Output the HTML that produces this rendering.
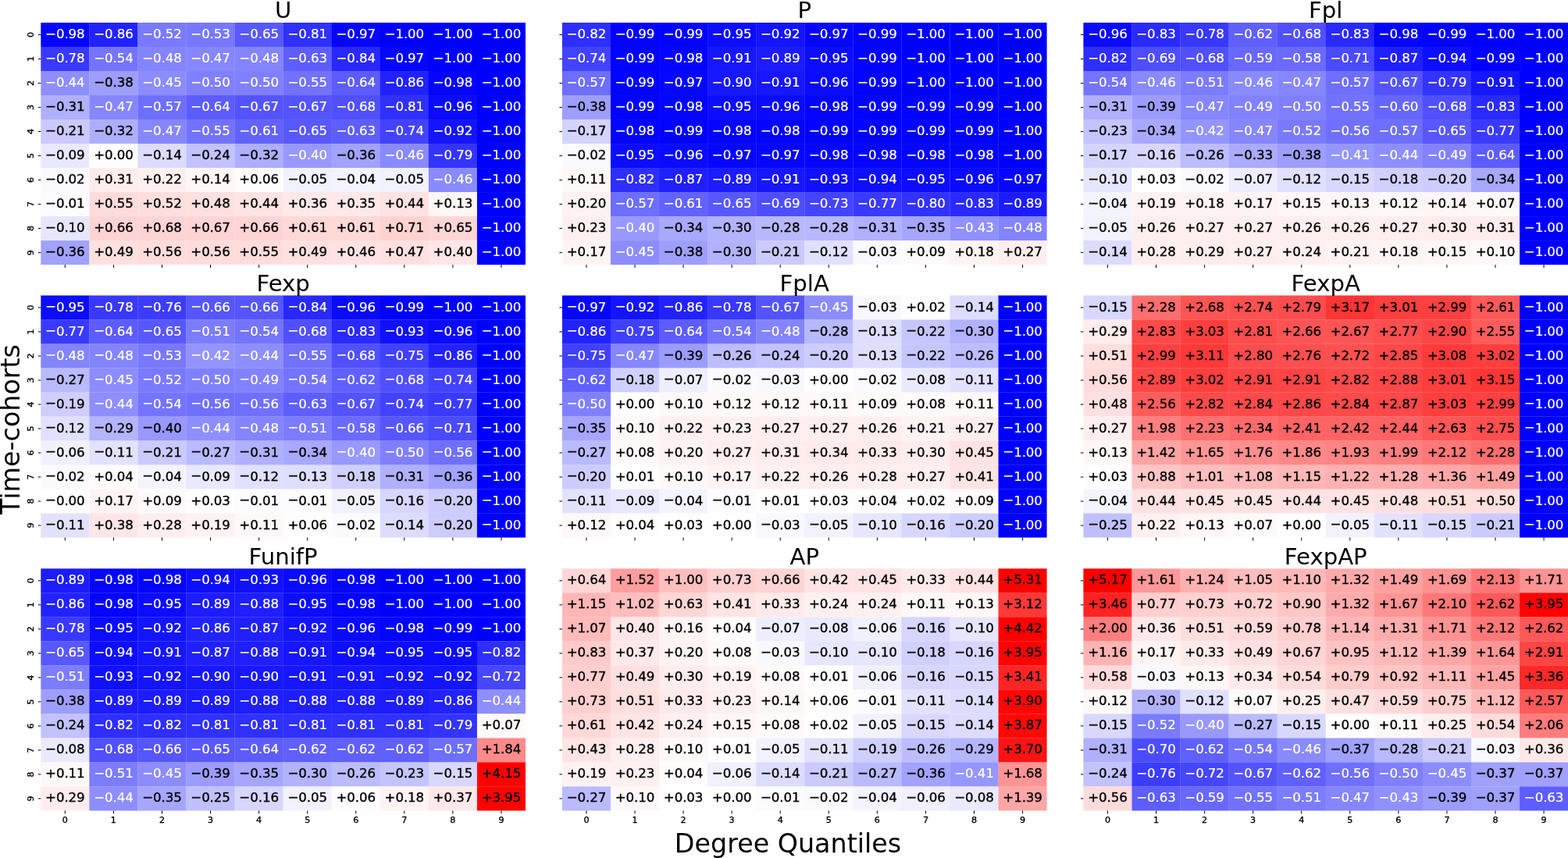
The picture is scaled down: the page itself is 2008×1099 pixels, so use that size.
<!DOCTYPE html><html><head><meta charset="utf-8"><style>html,body{margin:0;padding:0;background:#fff;width:2008px;height:1099px;overflow:hidden}svg{display:block}text{font-family:"DejaVu Sans","Liberation Sans",sans-serif}.a{font-size:16.67px;text-anchor:middle;stroke:#000;stroke-width:0.35px;letter-spacing:-0.1px}.w{fill:#fff;stroke:#fff;stroke-width:0.2px}.t{font-size:29.17px;text-anchor:middle}.k{font-size:11.11px;stroke:#000;stroke-width:0.35px}</style></head><body>
<svg width="2008" height="1099" viewBox="0 0 2008 1099">
<g shape-rendering="auto"><rect x="52.3" y="29" width="62.27" height="31.21" fill="#0404ff"/><rect x="114.37" y="29" width="62.27" height="31.21" fill="#2222ff"/><rect x="176.44" y="29" width="62.27" height="31.21" fill="#7a7aff"/><rect x="238.51" y="29" width="62.27" height="31.21" fill="#7878ff"/><rect x="300.58" y="29" width="62.27" height="31.21" fill="#5858ff"/><rect x="362.65" y="29" width="62.27" height="31.21" fill="#3030ff"/><rect x="424.72" y="29" width="62.27" height="31.21" fill="#0606ff"/><rect x="486.79" y="29" width="62.27" height="31.21" fill="#0000ff"/><rect x="548.86" y="29" width="62.27" height="31.21" fill="#0000ff"/><rect x="610.93" y="29" width="62.07" height="31.21" fill="#0000ff"/><rect x="52.3" y="60.01" width="62.27" height="31.21" fill="#3838ff"/><rect x="114.37" y="60.01" width="62.27" height="31.21" fill="#7474ff"/><rect x="176.44" y="60.01" width="62.27" height="31.21" fill="#8484ff"/><rect x="238.51" y="60.01" width="62.27" height="31.21" fill="#8686ff"/><rect x="300.58" y="60.01" width="62.27" height="31.21" fill="#8484ff"/><rect x="362.65" y="60.01" width="62.27" height="31.21" fill="#5e5eff"/><rect x="424.72" y="60.01" width="62.27" height="31.21" fill="#2828ff"/><rect x="486.79" y="60.01" width="62.27" height="31.21" fill="#0606ff"/><rect x="548.86" y="60.01" width="62.27" height="31.21" fill="#0000ff"/><rect x="610.93" y="60.01" width="62.07" height="31.21" fill="#0000ff"/><rect x="52.3" y="91.02" width="62.27" height="31.21" fill="#8e8eff"/><rect x="114.37" y="91.02" width="62.27" height="31.21" fill="#9e9eff"/><rect x="176.44" y="91.02" width="62.27" height="31.21" fill="#8c8cff"/><rect x="238.51" y="91.02" width="62.27" height="31.21" fill="#8080ff"/><rect x="300.58" y="91.02" width="62.27" height="31.21" fill="#8080ff"/><rect x="362.65" y="91.02" width="62.27" height="31.21" fill="#7272ff"/><rect x="424.72" y="91.02" width="62.27" height="31.21" fill="#5c5cff"/><rect x="486.79" y="91.02" width="62.27" height="31.21" fill="#2222ff"/><rect x="548.86" y="91.02" width="62.27" height="31.21" fill="#0404ff"/><rect x="610.93" y="91.02" width="62.07" height="31.21" fill="#0000ff"/><rect x="52.3" y="122.03" width="62.27" height="31.21" fill="#b0b0ff"/><rect x="114.37" y="122.03" width="62.27" height="31.21" fill="#8686ff"/><rect x="176.44" y="122.03" width="62.27" height="31.21" fill="#6e6eff"/><rect x="238.51" y="122.03" width="62.27" height="31.21" fill="#5c5cff"/><rect x="300.58" y="122.03" width="62.27" height="31.21" fill="#5454ff"/><rect x="362.65" y="122.03" width="62.27" height="31.21" fill="#5454ff"/><rect x="424.72" y="122.03" width="62.27" height="31.21" fill="#5050ff"/><rect x="486.79" y="122.03" width="62.27" height="31.21" fill="#3030ff"/><rect x="548.86" y="122.03" width="62.27" height="31.21" fill="#0a0aff"/><rect x="610.93" y="122.03" width="62.07" height="31.21" fill="#0000ff"/><rect x="52.3" y="153.04" width="62.27" height="31.21" fill="#cacaff"/><rect x="114.37" y="153.04" width="62.27" height="31.21" fill="#aeaeff"/><rect x="176.44" y="153.04" width="62.27" height="31.21" fill="#8686ff"/><rect x="238.51" y="153.04" width="62.27" height="31.21" fill="#7272ff"/><rect x="300.58" y="153.04" width="62.27" height="31.21" fill="#6262ff"/><rect x="362.65" y="153.04" width="62.27" height="31.21" fill="#5858ff"/><rect x="424.72" y="153.04" width="62.27" height="31.21" fill="#5e5eff"/><rect x="486.79" y="153.04" width="62.27" height="31.21" fill="#4242ff"/><rect x="548.86" y="153.04" width="62.27" height="31.21" fill="#1414ff"/><rect x="610.93" y="153.04" width="62.07" height="31.21" fill="#0000ff"/><rect x="52.3" y="184.05" width="62.27" height="31.21" fill="#e8e8ff"/><rect x="114.37" y="184.05" width="62.27" height="31.21" fill="#fffefe"/><rect x="176.44" y="184.05" width="62.27" height="31.21" fill="#dcdcff"/><rect x="238.51" y="184.05" width="62.27" height="31.21" fill="#c2c2ff"/><rect x="300.58" y="184.05" width="62.27" height="31.21" fill="#aeaeff"/><rect x="362.65" y="184.05" width="62.27" height="31.21" fill="#9898ff"/><rect x="424.72" y="184.05" width="62.27" height="31.21" fill="#a2a2ff"/><rect x="486.79" y="184.05" width="62.27" height="31.21" fill="#8a8aff"/><rect x="548.86" y="184.05" width="62.27" height="31.21" fill="#3434ff"/><rect x="610.93" y="184.05" width="62.07" height="31.21" fill="#0000ff"/><rect x="52.3" y="215.06" width="62.27" height="31.21" fill="#fafaff"/><rect x="114.37" y="215.06" width="62.27" height="31.21" fill="#ffecec"/><rect x="176.44" y="215.06" width="62.27" height="31.21" fill="#fff0f0"/><rect x="238.51" y="215.06" width="62.27" height="31.21" fill="#fff6f6"/><rect x="300.58" y="215.06" width="62.27" height="31.21" fill="#fffcfc"/><rect x="362.65" y="215.06" width="62.27" height="31.21" fill="#f2f2ff"/><rect x="424.72" y="215.06" width="62.27" height="31.21" fill="#f4f4ff"/><rect x="486.79" y="215.06" width="62.27" height="31.21" fill="#f2f2ff"/><rect x="548.86" y="215.06" width="62.27" height="31.21" fill="#8a8aff"/><rect x="610.93" y="215.06" width="62.07" height="31.21" fill="#0000ff"/><rect x="52.3" y="246.07" width="62.27" height="31.21" fill="#fcfcff"/><rect x="114.37" y="246.07" width="62.27" height="31.21" fill="#ffdcdc"/><rect x="176.44" y="246.07" width="62.27" height="31.21" fill="#ffdede"/><rect x="238.51" y="246.07" width="62.27" height="31.21" fill="#ffe0e0"/><rect x="300.58" y="246.07" width="62.27" height="31.21" fill="#ffe2e2"/><rect x="362.65" y="246.07" width="62.27" height="31.21" fill="#ffe8e8"/><rect x="424.72" y="246.07" width="62.27" height="31.21" fill="#ffe8e8"/><rect x="486.79" y="246.07" width="62.27" height="31.21" fill="#ffe2e2"/><rect x="548.86" y="246.07" width="62.27" height="31.21" fill="#fff6f6"/><rect x="610.93" y="246.07" width="62.07" height="31.21" fill="#0000ff"/><rect x="52.3" y="277.08" width="62.27" height="31.21" fill="#e6e6ff"/><rect x="114.37" y="277.08" width="62.27" height="31.21" fill="#ffd4d4"/><rect x="176.44" y="277.08" width="62.27" height="31.21" fill="#ffd4d4"/><rect x="238.51" y="277.08" width="62.27" height="31.21" fill="#ffd4d4"/><rect x="300.58" y="277.08" width="62.27" height="31.21" fill="#ffd4d4"/><rect x="362.65" y="277.08" width="62.27" height="31.21" fill="#ffd8d8"/><rect x="424.72" y="277.08" width="62.27" height="31.21" fill="#ffd8d8"/><rect x="486.79" y="277.08" width="62.27" height="31.21" fill="#ffd2d2"/><rect x="548.86" y="277.08" width="62.27" height="31.21" fill="#ffd6d6"/><rect x="610.93" y="277.08" width="62.07" height="31.21" fill="#0000ff"/><rect x="52.3" y="308.09" width="62.27" height="31.01" fill="#a2a2ff"/><rect x="114.37" y="308.09" width="62.27" height="31.01" fill="#ffe0e0"/><rect x="176.44" y="308.09" width="62.27" height="31.01" fill="#ffdcdc"/><rect x="238.51" y="308.09" width="62.27" height="31.01" fill="#ffdcdc"/><rect x="300.58" y="308.09" width="62.27" height="31.01" fill="#ffdcdc"/><rect x="362.65" y="308.09" width="62.27" height="31.01" fill="#ffe0e0"/><rect x="424.72" y="308.09" width="62.27" height="31.01" fill="#ffe2e2"/><rect x="486.79" y="308.09" width="62.27" height="31.01" fill="#ffe0e0"/><rect x="548.86" y="308.09" width="62.27" height="31.01" fill="#ffe6e6"/><rect x="610.93" y="308.09" width="62.07" height="31.01" fill="#0000ff"/></g>
<g class="a"><text x="83.33" y="49.11" class="w"><tspan dy="-0.5">−</tspan><tspan dy="0.5">0.98</tspan></text><text x="145.41" y="49.11" class="w"><tspan dy="-0.5">−</tspan><tspan dy="0.5">0.86</tspan></text><text x="207.48" y="49.11" class="w"><tspan dy="-0.5">−</tspan><tspan dy="0.5">0.52</tspan></text><text x="269.55" y="49.11" class="w"><tspan dy="-0.5">−</tspan><tspan dy="0.5">0.53</tspan></text><text x="331.62" y="49.11" class="w"><tspan dy="-0.5">−</tspan><tspan dy="0.5">0.65</tspan></text><text x="393.69" y="49.11" class="w"><tspan dy="-0.5">−</tspan><tspan dy="0.5">0.81</tspan></text><text x="455.75" y="49.11" class="w"><tspan dy="-0.5">−</tspan><tspan dy="0.5">0.97</tspan></text><text x="517.82" y="49.11" class="w"><tspan dy="-0.5">−</tspan><tspan dy="0.5">1.00</tspan></text><text x="579.89" y="49.11" class="w"><tspan dy="-0.5">−</tspan><tspan dy="0.5">1.00</tspan></text><text x="641.96" y="49.11" class="w"><tspan dy="-0.5">−</tspan><tspan dy="0.5">1.00</tspan></text><text x="83.33" y="80.11" class="w"><tspan dy="-0.5">−</tspan><tspan dy="0.5">0.78</tspan></text><text x="145.41" y="80.11" class="w"><tspan dy="-0.5">−</tspan><tspan dy="0.5">0.54</tspan></text><text x="207.48" y="80.11" class="w"><tspan dy="-0.5">−</tspan><tspan dy="0.5">0.48</tspan></text><text x="269.55" y="80.11" class="w"><tspan dy="-0.5">−</tspan><tspan dy="0.5">0.47</tspan></text><text x="331.62" y="80.11" class="w"><tspan dy="-0.5">−</tspan><tspan dy="0.5">0.48</tspan></text><text x="393.69" y="80.11" class="w"><tspan dy="-0.5">−</tspan><tspan dy="0.5">0.63</tspan></text><text x="455.75" y="80.11" class="w"><tspan dy="-0.5">−</tspan><tspan dy="0.5">0.84</tspan></text><text x="517.82" y="80.11" class="w"><tspan dy="-0.5">−</tspan><tspan dy="0.5">0.97</tspan></text><text x="579.89" y="80.11" class="w"><tspan dy="-0.5">−</tspan><tspan dy="0.5">1.00</tspan></text><text x="641.96" y="80.11" class="w"><tspan dy="-0.5">−</tspan><tspan dy="0.5">1.00</tspan></text><text x="83.33" y="111.12" class="w"><tspan dy="-0.5">−</tspan><tspan dy="0.5">0.44</tspan></text><text x="145.41" y="111.12"><tspan dy="-0.5">−</tspan><tspan dy="0.5">0.38</tspan></text><text x="207.48" y="111.12" class="w"><tspan dy="-0.5">−</tspan><tspan dy="0.5">0.45</tspan></text><text x="269.55" y="111.12" class="w"><tspan dy="-0.5">−</tspan><tspan dy="0.5">0.50</tspan></text><text x="331.62" y="111.12" class="w"><tspan dy="-0.5">−</tspan><tspan dy="0.5">0.50</tspan></text><text x="393.69" y="111.12" class="w"><tspan dy="-0.5">−</tspan><tspan dy="0.5">0.55</tspan></text><text x="455.75" y="111.12" class="w"><tspan dy="-0.5">−</tspan><tspan dy="0.5">0.64</tspan></text><text x="517.82" y="111.12" class="w"><tspan dy="-0.5">−</tspan><tspan dy="0.5">0.86</tspan></text><text x="579.89" y="111.12" class="w"><tspan dy="-0.5">−</tspan><tspan dy="0.5">0.98</tspan></text><text x="641.96" y="111.12" class="w"><tspan dy="-0.5">−</tspan><tspan dy="0.5">1.00</tspan></text><text x="83.33" y="142.14"><tspan dy="-0.5">−</tspan><tspan dy="0.5">0.31</tspan></text><text x="145.41" y="142.14" class="w"><tspan dy="-0.5">−</tspan><tspan dy="0.5">0.47</tspan></text><text x="207.48" y="142.14" class="w"><tspan dy="-0.5">−</tspan><tspan dy="0.5">0.57</tspan></text><text x="269.55" y="142.14" class="w"><tspan dy="-0.5">−</tspan><tspan dy="0.5">0.64</tspan></text><text x="331.62" y="142.14" class="w"><tspan dy="-0.5">−</tspan><tspan dy="0.5">0.67</tspan></text><text x="393.69" y="142.14" class="w"><tspan dy="-0.5">−</tspan><tspan dy="0.5">0.67</tspan></text><text x="455.75" y="142.14" class="w"><tspan dy="-0.5">−</tspan><tspan dy="0.5">0.68</tspan></text><text x="517.82" y="142.14" class="w"><tspan dy="-0.5">−</tspan><tspan dy="0.5">0.81</tspan></text><text x="579.89" y="142.14" class="w"><tspan dy="-0.5">−</tspan><tspan dy="0.5">0.96</tspan></text><text x="641.96" y="142.14" class="w"><tspan dy="-0.5">−</tspan><tspan dy="0.5">1.00</tspan></text><text x="83.33" y="173.15"><tspan dy="-0.5">−</tspan><tspan dy="0.5">0.21</tspan></text><text x="145.41" y="173.15"><tspan dy="-0.5">−</tspan><tspan dy="0.5">0.32</tspan></text><text x="207.48" y="173.15" class="w"><tspan dy="-0.5">−</tspan><tspan dy="0.5">0.47</tspan></text><text x="269.55" y="173.15" class="w"><tspan dy="-0.5">−</tspan><tspan dy="0.5">0.55</tspan></text><text x="331.62" y="173.15" class="w"><tspan dy="-0.5">−</tspan><tspan dy="0.5">0.61</tspan></text><text x="393.69" y="173.15" class="w"><tspan dy="-0.5">−</tspan><tspan dy="0.5">0.65</tspan></text><text x="455.75" y="173.15" class="w"><tspan dy="-0.5">−</tspan><tspan dy="0.5">0.63</tspan></text><text x="517.82" y="173.15" class="w"><tspan dy="-0.5">−</tspan><tspan dy="0.5">0.74</tspan></text><text x="579.89" y="173.15" class="w"><tspan dy="-0.5">−</tspan><tspan dy="0.5">0.92</tspan></text><text x="641.96" y="173.15" class="w"><tspan dy="-0.5">−</tspan><tspan dy="0.5">1.00</tspan></text><text x="83.33" y="204.16"><tspan dy="-0.5">−</tspan><tspan dy="0.5">0.09</tspan></text><text x="145.41" y="204.16"><tspan dy="0">+</tspan><tspan dy="0">0.00</tspan></text><text x="207.48" y="204.16"><tspan dy="-0.5">−</tspan><tspan dy="0.5">0.14</tspan></text><text x="269.55" y="204.16"><tspan dy="-0.5">−</tspan><tspan dy="0.5">0.24</tspan></text><text x="331.62" y="204.16"><tspan dy="-0.5">−</tspan><tspan dy="0.5">0.32</tspan></text><text x="393.69" y="204.16" class="w"><tspan dy="-0.5">−</tspan><tspan dy="0.5">0.40</tspan></text><text x="455.75" y="204.16"><tspan dy="-0.5">−</tspan><tspan dy="0.5">0.36</tspan></text><text x="517.82" y="204.16" class="w"><tspan dy="-0.5">−</tspan><tspan dy="0.5">0.46</tspan></text><text x="579.89" y="204.16" class="w"><tspan dy="-0.5">−</tspan><tspan dy="0.5">0.79</tspan></text><text x="641.96" y="204.16" class="w"><tspan dy="-0.5">−</tspan><tspan dy="0.5">1.00</tspan></text><text x="83.33" y="235.16"><tspan dy="-0.5">−</tspan><tspan dy="0.5">0.02</tspan></text><text x="145.41" y="235.16"><tspan dy="0">+</tspan><tspan dy="0">0.31</tspan></text><text x="207.48" y="235.16"><tspan dy="0">+</tspan><tspan dy="0">0.22</tspan></text><text x="269.55" y="235.16"><tspan dy="0">+</tspan><tspan dy="0">0.14</tspan></text><text x="331.62" y="235.16"><tspan dy="0">+</tspan><tspan dy="0">0.06</tspan></text><text x="393.69" y="235.16"><tspan dy="-0.5">−</tspan><tspan dy="0.5">0.05</tspan></text><text x="455.75" y="235.16"><tspan dy="-0.5">−</tspan><tspan dy="0.5">0.04</tspan></text><text x="517.82" y="235.16"><tspan dy="-0.5">−</tspan><tspan dy="0.5">0.05</tspan></text><text x="579.89" y="235.16" class="w"><tspan dy="-0.5">−</tspan><tspan dy="0.5">0.46</tspan></text><text x="641.96" y="235.16" class="w"><tspan dy="-0.5">−</tspan><tspan dy="0.5">1.00</tspan></text><text x="83.33" y="266.18"><tspan dy="-0.5">−</tspan><tspan dy="0.5">0.01</tspan></text><text x="145.41" y="266.18"><tspan dy="0">+</tspan><tspan dy="0">0.55</tspan></text><text x="207.48" y="266.18"><tspan dy="0">+</tspan><tspan dy="0">0.52</tspan></text><text x="269.55" y="266.18"><tspan dy="0">+</tspan><tspan dy="0">0.48</tspan></text><text x="331.62" y="266.18"><tspan dy="0">+</tspan><tspan dy="0">0.44</tspan></text><text x="393.69" y="266.18"><tspan dy="0">+</tspan><tspan dy="0">0.36</tspan></text><text x="455.75" y="266.18"><tspan dy="0">+</tspan><tspan dy="0">0.35</tspan></text><text x="517.82" y="266.18"><tspan dy="0">+</tspan><tspan dy="0">0.44</tspan></text><text x="579.89" y="266.18"><tspan dy="0">+</tspan><tspan dy="0">0.13</tspan></text><text x="641.96" y="266.18" class="w"><tspan dy="-0.5">−</tspan><tspan dy="0.5">1.00</tspan></text><text x="83.33" y="297.19"><tspan dy="-0.5">−</tspan><tspan dy="0.5">0.10</tspan></text><text x="145.41" y="297.19"><tspan dy="0">+</tspan><tspan dy="0">0.66</tspan></text><text x="207.48" y="297.19"><tspan dy="0">+</tspan><tspan dy="0">0.68</tspan></text><text x="269.55" y="297.19"><tspan dy="0">+</tspan><tspan dy="0">0.67</tspan></text><text x="331.62" y="297.19"><tspan dy="0">+</tspan><tspan dy="0">0.66</tspan></text><text x="393.69" y="297.19"><tspan dy="0">+</tspan><tspan dy="0">0.61</tspan></text><text x="455.75" y="297.19"><tspan dy="0">+</tspan><tspan dy="0">0.61</tspan></text><text x="517.82" y="297.19"><tspan dy="0">+</tspan><tspan dy="0">0.71</tspan></text><text x="579.89" y="297.19"><tspan dy="0">+</tspan><tspan dy="0">0.65</tspan></text><text x="641.96" y="297.19" class="w"><tspan dy="-0.5">−</tspan><tspan dy="0.5">1.00</tspan></text><text x="83.33" y="328.2"><tspan dy="-0.5">−</tspan><tspan dy="0.5">0.36</tspan></text><text x="145.41" y="328.2"><tspan dy="0">+</tspan><tspan dy="0">0.49</tspan></text><text x="207.48" y="328.2"><tspan dy="0">+</tspan><tspan dy="0">0.56</tspan></text><text x="269.55" y="328.2"><tspan dy="0">+</tspan><tspan dy="0">0.56</tspan></text><text x="331.62" y="328.2"><tspan dy="0">+</tspan><tspan dy="0">0.55</tspan></text><text x="393.69" y="328.2"><tspan dy="0">+</tspan><tspan dy="0">0.49</tspan></text><text x="455.75" y="328.2"><tspan dy="0">+</tspan><tspan dy="0">0.46</tspan></text><text x="517.82" y="328.2"><tspan dy="0">+</tspan><tspan dy="0">0.47</tspan></text><text x="579.89" y="328.2"><tspan dy="0">+</tspan><tspan dy="0">0.40</tspan></text><text x="641.96" y="328.2" class="w"><tspan dy="-0.5">−</tspan><tspan dy="0.5">1.00</tspan></text></g>
<text class="t" x="362.65" y="23.2">U</text>
<path d="M48.8 44.51h3.5M48.8 75.52h3.5M48.8 106.53h3.5M48.8 137.54h3.5M48.8 168.55h3.5M48.8 199.56h3.5M48.8 230.56h3.5M48.8 261.58h3.5M48.8 292.59h3.5M48.8 323.6h3.5M83.33 339.1v4M145.41 339.1v4M207.48 339.1v4M269.55 339.1v4M331.62 339.1v4M393.69 339.1v4M455.75 339.1v4M517.82 339.1v4M579.89 339.1v4M641.96 339.1v4" stroke="#000" stroke-width="1" fill="none"/>
<text class="k" text-anchor="middle" transform="translate(43.3 44.51) rotate(-90)">0</text>
<text class="k" text-anchor="middle" transform="translate(43.3 75.52) rotate(-90)">1</text>
<text class="k" text-anchor="middle" transform="translate(43.3 106.53) rotate(-90)">2</text>
<text class="k" text-anchor="middle" transform="translate(43.3 137.54) rotate(-90)">3</text>
<text class="k" text-anchor="middle" transform="translate(43.3 168.55) rotate(-90)">4</text>
<text class="k" text-anchor="middle" transform="translate(43.3 199.56) rotate(-90)">5</text>
<text class="k" text-anchor="middle" transform="translate(43.3 230.56) rotate(-90)">6</text>
<text class="k" text-anchor="middle" transform="translate(43.3 261.58) rotate(-90)">7</text>
<text class="k" text-anchor="middle" transform="translate(43.3 292.59) rotate(-90)">8</text>
<text class="k" text-anchor="middle" transform="translate(43.3 323.6) rotate(-90)">9</text>
<g shape-rendering="auto"><rect x="719.9" y="29" width="62.27" height="31.21" fill="#2e2eff"/><rect x="781.97" y="29" width="62.27" height="31.21" fill="#0202ff"/><rect x="844.04" y="29" width="62.27" height="31.21" fill="#0202ff"/><rect x="906.11" y="29" width="62.27" height="31.21" fill="#0c0cff"/><rect x="968.18" y="29" width="62.27" height="31.21" fill="#1414ff"/><rect x="1030.25" y="29" width="62.27" height="31.21" fill="#0606ff"/><rect x="1092.32" y="29" width="62.27" height="31.21" fill="#0202ff"/><rect x="1154.39" y="29" width="62.27" height="31.21" fill="#0000ff"/><rect x="1216.46" y="29" width="62.27" height="31.21" fill="#0000ff"/><rect x="1278.53" y="29" width="62.07" height="31.21" fill="#0000ff"/><rect x="719.9" y="60.01" width="62.27" height="31.21" fill="#4242ff"/><rect x="781.97" y="60.01" width="62.27" height="31.21" fill="#0202ff"/><rect x="844.04" y="60.01" width="62.27" height="31.21" fill="#0404ff"/><rect x="906.11" y="60.01" width="62.27" height="31.21" fill="#1616ff"/><rect x="968.18" y="60.01" width="62.27" height="31.21" fill="#1c1cff"/><rect x="1030.25" y="60.01" width="62.27" height="31.21" fill="#0c0cff"/><rect x="1092.32" y="60.01" width="62.27" height="31.21" fill="#0202ff"/><rect x="1154.39" y="60.01" width="62.27" height="31.21" fill="#0000ff"/><rect x="1216.46" y="60.01" width="62.27" height="31.21" fill="#0000ff"/><rect x="1278.53" y="60.01" width="62.07" height="31.21" fill="#0000ff"/><rect x="719.9" y="91.02" width="62.27" height="31.21" fill="#6e6eff"/><rect x="781.97" y="91.02" width="62.27" height="31.21" fill="#0202ff"/><rect x="844.04" y="91.02" width="62.27" height="31.21" fill="#0606ff"/><rect x="906.11" y="91.02" width="62.27" height="31.21" fill="#1818ff"/><rect x="968.18" y="91.02" width="62.27" height="31.21" fill="#1616ff"/><rect x="1030.25" y="91.02" width="62.27" height="31.21" fill="#0a0aff"/><rect x="1092.32" y="91.02" width="62.27" height="31.21" fill="#0202ff"/><rect x="1154.39" y="91.02" width="62.27" height="31.21" fill="#0000ff"/><rect x="1216.46" y="91.02" width="62.27" height="31.21" fill="#0000ff"/><rect x="1278.53" y="91.02" width="62.07" height="31.21" fill="#0000ff"/><rect x="719.9" y="122.03" width="62.27" height="31.21" fill="#9e9eff"/><rect x="781.97" y="122.03" width="62.27" height="31.21" fill="#0202ff"/><rect x="844.04" y="122.03" width="62.27" height="31.21" fill="#0404ff"/><rect x="906.11" y="122.03" width="62.27" height="31.21" fill="#0c0cff"/><rect x="968.18" y="122.03" width="62.27" height="31.21" fill="#0a0aff"/><rect x="1030.25" y="122.03" width="62.27" height="31.21" fill="#0404ff"/><rect x="1092.32" y="122.03" width="62.27" height="31.21" fill="#0202ff"/><rect x="1154.39" y="122.03" width="62.27" height="31.21" fill="#0202ff"/><rect x="1216.46" y="122.03" width="62.27" height="31.21" fill="#0202ff"/><rect x="1278.53" y="122.03" width="62.07" height="31.21" fill="#0000ff"/><rect x="719.9" y="153.04" width="62.27" height="31.21" fill="#d4d4ff"/><rect x="781.97" y="153.04" width="62.27" height="31.21" fill="#0404ff"/><rect x="844.04" y="153.04" width="62.27" height="31.21" fill="#0202ff"/><rect x="906.11" y="153.04" width="62.27" height="31.21" fill="#0404ff"/><rect x="968.18" y="153.04" width="62.27" height="31.21" fill="#0404ff"/><rect x="1030.25" y="153.04" width="62.27" height="31.21" fill="#0202ff"/><rect x="1092.32" y="153.04" width="62.27" height="31.21" fill="#0202ff"/><rect x="1154.39" y="153.04" width="62.27" height="31.21" fill="#0202ff"/><rect x="1216.46" y="153.04" width="62.27" height="31.21" fill="#0202ff"/><rect x="1278.53" y="153.04" width="62.07" height="31.21" fill="#0000ff"/><rect x="719.9" y="184.05" width="62.27" height="31.21" fill="#fafaff"/><rect x="781.97" y="184.05" width="62.27" height="31.21" fill="#0c0cff"/><rect x="844.04" y="184.05" width="62.27" height="31.21" fill="#0a0aff"/><rect x="906.11" y="184.05" width="62.27" height="31.21" fill="#0606ff"/><rect x="968.18" y="184.05" width="62.27" height="31.21" fill="#0606ff"/><rect x="1030.25" y="184.05" width="62.27" height="31.21" fill="#0404ff"/><rect x="1092.32" y="184.05" width="62.27" height="31.21" fill="#0404ff"/><rect x="1154.39" y="184.05" width="62.27" height="31.21" fill="#0404ff"/><rect x="1216.46" y="184.05" width="62.27" height="31.21" fill="#0404ff"/><rect x="1278.53" y="184.05" width="62.07" height="31.21" fill="#0000ff"/><rect x="719.9" y="215.06" width="62.27" height="31.21" fill="#fff8f8"/><rect x="781.97" y="215.06" width="62.27" height="31.21" fill="#2e2eff"/><rect x="844.04" y="215.06" width="62.27" height="31.21" fill="#2020ff"/><rect x="906.11" y="215.06" width="62.27" height="31.21" fill="#1c1cff"/><rect x="968.18" y="215.06" width="62.27" height="31.21" fill="#1616ff"/><rect x="1030.25" y="215.06" width="62.27" height="31.21" fill="#1010ff"/><rect x="1092.32" y="215.06" width="62.27" height="31.21" fill="#0e0eff"/><rect x="1154.39" y="215.06" width="62.27" height="31.21" fill="#0c0cff"/><rect x="1216.46" y="215.06" width="62.27" height="31.21" fill="#0a0aff"/><rect x="1278.53" y="215.06" width="62.07" height="31.21" fill="#0606ff"/><rect x="719.9" y="246.07" width="62.27" height="31.21" fill="#fff2f2"/><rect x="781.97" y="246.07" width="62.27" height="31.21" fill="#6e6eff"/><rect x="844.04" y="246.07" width="62.27" height="31.21" fill="#6262ff"/><rect x="906.11" y="246.07" width="62.27" height="31.21" fill="#5858ff"/><rect x="968.18" y="246.07" width="62.27" height="31.21" fill="#4e4eff"/><rect x="1030.25" y="246.07" width="62.27" height="31.21" fill="#4444ff"/><rect x="1092.32" y="246.07" width="62.27" height="31.21" fill="#3a3aff"/><rect x="1154.39" y="246.07" width="62.27" height="31.21" fill="#3232ff"/><rect x="1216.46" y="246.07" width="62.27" height="31.21" fill="#2a2aff"/><rect x="1278.53" y="246.07" width="62.07" height="31.21" fill="#1c1cff"/><rect x="719.9" y="277.08" width="62.27" height="31.21" fill="#fff0f0"/><rect x="781.97" y="277.08" width="62.27" height="31.21" fill="#9898ff"/><rect x="844.04" y="277.08" width="62.27" height="31.21" fill="#a8a8ff"/><rect x="906.11" y="277.08" width="62.27" height="31.21" fill="#b2b2ff"/><rect x="968.18" y="277.08" width="62.27" height="31.21" fill="#b8b8ff"/><rect x="1030.25" y="277.08" width="62.27" height="31.21" fill="#b8b8ff"/><rect x="1092.32" y="277.08" width="62.27" height="31.21" fill="#b0b0ff"/><rect x="1154.39" y="277.08" width="62.27" height="31.21" fill="#a6a6ff"/><rect x="1216.46" y="277.08" width="62.27" height="31.21" fill="#9090ff"/><rect x="1278.53" y="277.08" width="62.07" height="31.21" fill="#8484ff"/><rect x="719.9" y="308.09" width="62.27" height="31.01" fill="#fff4f4"/><rect x="781.97" y="308.09" width="62.27" height="31.01" fill="#8c8cff"/><rect x="844.04" y="308.09" width="62.27" height="31.01" fill="#9e9eff"/><rect x="906.11" y="308.09" width="62.27" height="31.01" fill="#b2b2ff"/><rect x="968.18" y="308.09" width="62.27" height="31.01" fill="#cacaff"/><rect x="1030.25" y="308.09" width="62.27" height="31.01" fill="#e0e0ff"/><rect x="1092.32" y="308.09" width="62.27" height="31.01" fill="#f8f8ff"/><rect x="1154.39" y="308.09" width="62.27" height="31.01" fill="#fffafa"/><rect x="1216.46" y="308.09" width="62.27" height="31.01" fill="#fff4f4"/><rect x="1278.53" y="308.09" width="62.07" height="31.01" fill="#ffeeee"/></g>
<g class="a"><text x="750.93" y="49.11" class="w"><tspan dy="-0.5">−</tspan><tspan dy="0.5">0.82</tspan></text><text x="813" y="49.11" class="w"><tspan dy="-0.5">−</tspan><tspan dy="0.5">0.99</tspan></text><text x="875.08" y="49.11" class="w"><tspan dy="-0.5">−</tspan><tspan dy="0.5">0.99</tspan></text><text x="937.14" y="49.11" class="w"><tspan dy="-0.5">−</tspan><tspan dy="0.5">0.95</tspan></text><text x="999.21" y="49.11" class="w"><tspan dy="-0.5">−</tspan><tspan dy="0.5">0.92</tspan></text><text x="1061.28" y="49.11" class="w"><tspan dy="-0.5">−</tspan><tspan dy="0.5">0.97</tspan></text><text x="1123.36" y="49.11" class="w"><tspan dy="-0.5">−</tspan><tspan dy="0.5">0.99</tspan></text><text x="1185.42" y="49.11" class="w"><tspan dy="-0.5">−</tspan><tspan dy="0.5">1.00</tspan></text><text x="1247.49" y="49.11" class="w"><tspan dy="-0.5">−</tspan><tspan dy="0.5">1.00</tspan></text><text x="1309.57" y="49.11" class="w"><tspan dy="-0.5">−</tspan><tspan dy="0.5">1.00</tspan></text><text x="750.93" y="80.11" class="w"><tspan dy="-0.5">−</tspan><tspan dy="0.5">0.74</tspan></text><text x="813" y="80.11" class="w"><tspan dy="-0.5">−</tspan><tspan dy="0.5">0.99</tspan></text><text x="875.08" y="80.11" class="w"><tspan dy="-0.5">−</tspan><tspan dy="0.5">0.98</tspan></text><text x="937.14" y="80.11" class="w"><tspan dy="-0.5">−</tspan><tspan dy="0.5">0.91</tspan></text><text x="999.21" y="80.11" class="w"><tspan dy="-0.5">−</tspan><tspan dy="0.5">0.89</tspan></text><text x="1061.28" y="80.11" class="w"><tspan dy="-0.5">−</tspan><tspan dy="0.5">0.95</tspan></text><text x="1123.36" y="80.11" class="w"><tspan dy="-0.5">−</tspan><tspan dy="0.5">0.99</tspan></text><text x="1185.42" y="80.11" class="w"><tspan dy="-0.5">−</tspan><tspan dy="0.5">1.00</tspan></text><text x="1247.49" y="80.11" class="w"><tspan dy="-0.5">−</tspan><tspan dy="0.5">1.00</tspan></text><text x="1309.57" y="80.11" class="w"><tspan dy="-0.5">−</tspan><tspan dy="0.5">1.00</tspan></text><text x="750.93" y="111.12" class="w"><tspan dy="-0.5">−</tspan><tspan dy="0.5">0.57</tspan></text><text x="813" y="111.12" class="w"><tspan dy="-0.5">−</tspan><tspan dy="0.5">0.99</tspan></text><text x="875.08" y="111.12" class="w"><tspan dy="-0.5">−</tspan><tspan dy="0.5">0.97</tspan></text><text x="937.14" y="111.12" class="w"><tspan dy="-0.5">−</tspan><tspan dy="0.5">0.90</tspan></text><text x="999.21" y="111.12" class="w"><tspan dy="-0.5">−</tspan><tspan dy="0.5">0.91</tspan></text><text x="1061.28" y="111.12" class="w"><tspan dy="-0.5">−</tspan><tspan dy="0.5">0.96</tspan></text><text x="1123.36" y="111.12" class="w"><tspan dy="-0.5">−</tspan><tspan dy="0.5">0.99</tspan></text><text x="1185.42" y="111.12" class="w"><tspan dy="-0.5">−</tspan><tspan dy="0.5">1.00</tspan></text><text x="1247.49" y="111.12" class="w"><tspan dy="-0.5">−</tspan><tspan dy="0.5">1.00</tspan></text><text x="1309.57" y="111.12" class="w"><tspan dy="-0.5">−</tspan><tspan dy="0.5">1.00</tspan></text><text x="750.93" y="142.14"><tspan dy="-0.5">−</tspan><tspan dy="0.5">0.38</tspan></text><text x="813" y="142.14" class="w"><tspan dy="-0.5">−</tspan><tspan dy="0.5">0.99</tspan></text><text x="875.08" y="142.14" class="w"><tspan dy="-0.5">−</tspan><tspan dy="0.5">0.98</tspan></text><text x="937.14" y="142.14" class="w"><tspan dy="-0.5">−</tspan><tspan dy="0.5">0.95</tspan></text><text x="999.21" y="142.14" class="w"><tspan dy="-0.5">−</tspan><tspan dy="0.5">0.96</tspan></text><text x="1061.28" y="142.14" class="w"><tspan dy="-0.5">−</tspan><tspan dy="0.5">0.98</tspan></text><text x="1123.36" y="142.14" class="w"><tspan dy="-0.5">−</tspan><tspan dy="0.5">0.99</tspan></text><text x="1185.42" y="142.14" class="w"><tspan dy="-0.5">−</tspan><tspan dy="0.5">0.99</tspan></text><text x="1247.49" y="142.14" class="w"><tspan dy="-0.5">−</tspan><tspan dy="0.5">0.99</tspan></text><text x="1309.57" y="142.14" class="w"><tspan dy="-0.5">−</tspan><tspan dy="0.5">1.00</tspan></text><text x="750.93" y="173.15"><tspan dy="-0.5">−</tspan><tspan dy="0.5">0.17</tspan></text><text x="813" y="173.15" class="w"><tspan dy="-0.5">−</tspan><tspan dy="0.5">0.98</tspan></text><text x="875.08" y="173.15" class="w"><tspan dy="-0.5">−</tspan><tspan dy="0.5">0.99</tspan></text><text x="937.14" y="173.15" class="w"><tspan dy="-0.5">−</tspan><tspan dy="0.5">0.98</tspan></text><text x="999.21" y="173.15" class="w"><tspan dy="-0.5">−</tspan><tspan dy="0.5">0.98</tspan></text><text x="1061.28" y="173.15" class="w"><tspan dy="-0.5">−</tspan><tspan dy="0.5">0.99</tspan></text><text x="1123.36" y="173.15" class="w"><tspan dy="-0.5">−</tspan><tspan dy="0.5">0.99</tspan></text><text x="1185.42" y="173.15" class="w"><tspan dy="-0.5">−</tspan><tspan dy="0.5">0.99</tspan></text><text x="1247.49" y="173.15" class="w"><tspan dy="-0.5">−</tspan><tspan dy="0.5">0.99</tspan></text><text x="1309.57" y="173.15" class="w"><tspan dy="-0.5">−</tspan><tspan dy="0.5">1.00</tspan></text><text x="750.93" y="204.16"><tspan dy="-0.5">−</tspan><tspan dy="0.5">0.02</tspan></text><text x="813" y="204.16" class="w"><tspan dy="-0.5">−</tspan><tspan dy="0.5">0.95</tspan></text><text x="875.08" y="204.16" class="w"><tspan dy="-0.5">−</tspan><tspan dy="0.5">0.96</tspan></text><text x="937.14" y="204.16" class="w"><tspan dy="-0.5">−</tspan><tspan dy="0.5">0.97</tspan></text><text x="999.21" y="204.16" class="w"><tspan dy="-0.5">−</tspan><tspan dy="0.5">0.97</tspan></text><text x="1061.28" y="204.16" class="w"><tspan dy="-0.5">−</tspan><tspan dy="0.5">0.98</tspan></text><text x="1123.36" y="204.16" class="w"><tspan dy="-0.5">−</tspan><tspan dy="0.5">0.98</tspan></text><text x="1185.42" y="204.16" class="w"><tspan dy="-0.5">−</tspan><tspan dy="0.5">0.98</tspan></text><text x="1247.49" y="204.16" class="w"><tspan dy="-0.5">−</tspan><tspan dy="0.5">0.98</tspan></text><text x="1309.57" y="204.16" class="w"><tspan dy="-0.5">−</tspan><tspan dy="0.5">1.00</tspan></text><text x="750.93" y="235.16"><tspan dy="0">+</tspan><tspan dy="0">0.11</tspan></text><text x="813" y="235.16" class="w"><tspan dy="-0.5">−</tspan><tspan dy="0.5">0.82</tspan></text><text x="875.08" y="235.16" class="w"><tspan dy="-0.5">−</tspan><tspan dy="0.5">0.87</tspan></text><text x="937.14" y="235.16" class="w"><tspan dy="-0.5">−</tspan><tspan dy="0.5">0.89</tspan></text><text x="999.21" y="235.16" class="w"><tspan dy="-0.5">−</tspan><tspan dy="0.5">0.91</tspan></text><text x="1061.28" y="235.16" class="w"><tspan dy="-0.5">−</tspan><tspan dy="0.5">0.93</tspan></text><text x="1123.36" y="235.16" class="w"><tspan dy="-0.5">−</tspan><tspan dy="0.5">0.94</tspan></text><text x="1185.42" y="235.16" class="w"><tspan dy="-0.5">−</tspan><tspan dy="0.5">0.95</tspan></text><text x="1247.49" y="235.16" class="w"><tspan dy="-0.5">−</tspan><tspan dy="0.5">0.96</tspan></text><text x="1309.57" y="235.16" class="w"><tspan dy="-0.5">−</tspan><tspan dy="0.5">0.97</tspan></text><text x="750.93" y="266.18"><tspan dy="0">+</tspan><tspan dy="0">0.20</tspan></text><text x="813" y="266.18" class="w"><tspan dy="-0.5">−</tspan><tspan dy="0.5">0.57</tspan></text><text x="875.08" y="266.18" class="w"><tspan dy="-0.5">−</tspan><tspan dy="0.5">0.61</tspan></text><text x="937.14" y="266.18" class="w"><tspan dy="-0.5">−</tspan><tspan dy="0.5">0.65</tspan></text><text x="999.21" y="266.18" class="w"><tspan dy="-0.5">−</tspan><tspan dy="0.5">0.69</tspan></text><text x="1061.28" y="266.18" class="w"><tspan dy="-0.5">−</tspan><tspan dy="0.5">0.73</tspan></text><text x="1123.36" y="266.18" class="w"><tspan dy="-0.5">−</tspan><tspan dy="0.5">0.77</tspan></text><text x="1185.42" y="266.18" class="w"><tspan dy="-0.5">−</tspan><tspan dy="0.5">0.80</tspan></text><text x="1247.49" y="266.18" class="w"><tspan dy="-0.5">−</tspan><tspan dy="0.5">0.83</tspan></text><text x="1309.57" y="266.18" class="w"><tspan dy="-0.5">−</tspan><tspan dy="0.5">0.89</tspan></text><text x="750.93" y="297.19"><tspan dy="0">+</tspan><tspan dy="0">0.23</tspan></text><text x="813" y="297.19" class="w"><tspan dy="-0.5">−</tspan><tspan dy="0.5">0.40</tspan></text><text x="875.08" y="297.19"><tspan dy="-0.5">−</tspan><tspan dy="0.5">0.34</tspan></text><text x="937.14" y="297.19"><tspan dy="-0.5">−</tspan><tspan dy="0.5">0.30</tspan></text><text x="999.21" y="297.19"><tspan dy="-0.5">−</tspan><tspan dy="0.5">0.28</tspan></text><text x="1061.28" y="297.19"><tspan dy="-0.5">−</tspan><tspan dy="0.5">0.28</tspan></text><text x="1123.36" y="297.19"><tspan dy="-0.5">−</tspan><tspan dy="0.5">0.31</tspan></text><text x="1185.42" y="297.19"><tspan dy="-0.5">−</tspan><tspan dy="0.5">0.35</tspan></text><text x="1247.49" y="297.19" class="w"><tspan dy="-0.5">−</tspan><tspan dy="0.5">0.43</tspan></text><text x="1309.57" y="297.19" class="w"><tspan dy="-0.5">−</tspan><tspan dy="0.5">0.48</tspan></text><text x="750.93" y="328.2"><tspan dy="0">+</tspan><tspan dy="0">0.17</tspan></text><text x="813" y="328.2" class="w"><tspan dy="-0.5">−</tspan><tspan dy="0.5">0.45</tspan></text><text x="875.08" y="328.2"><tspan dy="-0.5">−</tspan><tspan dy="0.5">0.38</tspan></text><text x="937.14" y="328.2"><tspan dy="-0.5">−</tspan><tspan dy="0.5">0.30</tspan></text><text x="999.21" y="328.2"><tspan dy="-0.5">−</tspan><tspan dy="0.5">0.21</tspan></text><text x="1061.28" y="328.2"><tspan dy="-0.5">−</tspan><tspan dy="0.5">0.12</tspan></text><text x="1123.36" y="328.2"><tspan dy="-0.5">−</tspan><tspan dy="0.5">0.03</tspan></text><text x="1185.42" y="328.2"><tspan dy="0">+</tspan><tspan dy="0">0.09</tspan></text><text x="1247.49" y="328.2"><tspan dy="0">+</tspan><tspan dy="0">0.18</tspan></text><text x="1309.57" y="328.2"><tspan dy="0">+</tspan><tspan dy="0">0.27</tspan></text></g>
<text class="t" x="1030.25" y="23.2">P</text>
<path d="M716.4 44.51h3.5M716.4 75.52h3.5M716.4 106.53h3.5M716.4 137.54h3.5M716.4 168.55h3.5M716.4 199.56h3.5M716.4 230.56h3.5M716.4 261.58h3.5M716.4 292.59h3.5M716.4 323.6h3.5M750.93 339.1v4M813 339.1v4M875.08 339.1v4M937.14 339.1v4M999.21 339.1v4M1061.28 339.1v4M1123.36 339.1v4M1185.42 339.1v4M1247.49 339.1v4M1309.57 339.1v4" stroke="#000" stroke-width="1" fill="none"/>
<g shape-rendering="auto"><rect x="1387.4" y="29" width="62.27" height="31.21" fill="#0a0aff"/><rect x="1449.47" y="29" width="62.27" height="31.21" fill="#2a2aff"/><rect x="1511.54" y="29" width="62.27" height="31.21" fill="#3838ff"/><rect x="1573.61" y="29" width="62.27" height="31.21" fill="#6060ff"/><rect x="1635.68" y="29" width="62.27" height="31.21" fill="#5050ff"/><rect x="1697.75" y="29" width="62.27" height="31.21" fill="#2a2aff"/><rect x="1759.82" y="29" width="62.27" height="31.21" fill="#0404ff"/><rect x="1821.89" y="29" width="62.27" height="31.21" fill="#0202ff"/><rect x="1883.96" y="29" width="62.27" height="31.21" fill="#0000ff"/><rect x="1946.03" y="29" width="62.07" height="31.21" fill="#0000ff"/><rect x="1387.4" y="60.01" width="62.27" height="31.21" fill="#2e2eff"/><rect x="1449.47" y="60.01" width="62.27" height="31.21" fill="#4e4eff"/><rect x="1511.54" y="60.01" width="62.27" height="31.21" fill="#5050ff"/><rect x="1573.61" y="60.01" width="62.27" height="31.21" fill="#6868ff"/><rect x="1635.68" y="60.01" width="62.27" height="31.21" fill="#6a6aff"/><rect x="1697.75" y="60.01" width="62.27" height="31.21" fill="#4a4aff"/><rect x="1759.82" y="60.01" width="62.27" height="31.21" fill="#2020ff"/><rect x="1821.89" y="60.01" width="62.27" height="31.21" fill="#0e0eff"/><rect x="1883.96" y="60.01" width="62.27" height="31.21" fill="#0202ff"/><rect x="1946.03" y="60.01" width="62.07" height="31.21" fill="#0000ff"/><rect x="1387.4" y="91.02" width="62.27" height="31.21" fill="#7474ff"/><rect x="1449.47" y="91.02" width="62.27" height="31.21" fill="#8a8aff"/><rect x="1511.54" y="91.02" width="62.27" height="31.21" fill="#7c7cff"/><rect x="1573.61" y="91.02" width="62.27" height="31.21" fill="#8a8aff"/><rect x="1635.68" y="91.02" width="62.27" height="31.21" fill="#8686ff"/><rect x="1697.75" y="91.02" width="62.27" height="31.21" fill="#6e6eff"/><rect x="1759.82" y="91.02" width="62.27" height="31.21" fill="#5454ff"/><rect x="1821.89" y="91.02" width="62.27" height="31.21" fill="#3434ff"/><rect x="1883.96" y="91.02" width="62.27" height="31.21" fill="#1616ff"/><rect x="1946.03" y="91.02" width="62.07" height="31.21" fill="#0000ff"/><rect x="1387.4" y="122.03" width="62.27" height="31.21" fill="#b0b0ff"/><rect x="1449.47" y="122.03" width="62.27" height="31.21" fill="#9c9cff"/><rect x="1511.54" y="122.03" width="62.27" height="31.21" fill="#8686ff"/><rect x="1573.61" y="122.03" width="62.27" height="31.21" fill="#8282ff"/><rect x="1635.68" y="122.03" width="62.27" height="31.21" fill="#8080ff"/><rect x="1697.75" y="122.03" width="62.27" height="31.21" fill="#7272ff"/><rect x="1759.82" y="122.03" width="62.27" height="31.21" fill="#6666ff"/><rect x="1821.89" y="122.03" width="62.27" height="31.21" fill="#5050ff"/><rect x="1883.96" y="122.03" width="62.27" height="31.21" fill="#2a2aff"/><rect x="1946.03" y="122.03" width="62.07" height="31.21" fill="#0000ff"/><rect x="1387.4" y="153.04" width="62.27" height="31.21" fill="#c4c4ff"/><rect x="1449.47" y="153.04" width="62.27" height="31.21" fill="#a8a8ff"/><rect x="1511.54" y="153.04" width="62.27" height="31.21" fill="#9494ff"/><rect x="1573.61" y="153.04" width="62.27" height="31.21" fill="#8686ff"/><rect x="1635.68" y="153.04" width="62.27" height="31.21" fill="#7a7aff"/><rect x="1697.75" y="153.04" width="62.27" height="31.21" fill="#7070ff"/><rect x="1759.82" y="153.04" width="62.27" height="31.21" fill="#6e6eff"/><rect x="1821.89" y="153.04" width="62.27" height="31.21" fill="#5858ff"/><rect x="1883.96" y="153.04" width="62.27" height="31.21" fill="#3a3aff"/><rect x="1946.03" y="153.04" width="62.07" height="31.21" fill="#0000ff"/><rect x="1387.4" y="184.05" width="62.27" height="31.21" fill="#d4d4ff"/><rect x="1449.47" y="184.05" width="62.27" height="31.21" fill="#d6d6ff"/><rect x="1511.54" y="184.05" width="62.27" height="31.21" fill="#bcbcff"/><rect x="1573.61" y="184.05" width="62.27" height="31.21" fill="#aaaaff"/><rect x="1635.68" y="184.05" width="62.27" height="31.21" fill="#9e9eff"/><rect x="1697.75" y="184.05" width="62.27" height="31.21" fill="#9696ff"/><rect x="1759.82" y="184.05" width="62.27" height="31.21" fill="#8e8eff"/><rect x="1821.89" y="184.05" width="62.27" height="31.21" fill="#8282ff"/><rect x="1883.96" y="184.05" width="62.27" height="31.21" fill="#5c5cff"/><rect x="1946.03" y="184.05" width="62.07" height="31.21" fill="#0000ff"/><rect x="1387.4" y="215.06" width="62.27" height="31.21" fill="#e6e6ff"/><rect x="1449.47" y="215.06" width="62.27" height="31.21" fill="#fffefe"/><rect x="1511.54" y="215.06" width="62.27" height="31.21" fill="#fafaff"/><rect x="1573.61" y="215.06" width="62.27" height="31.21" fill="#eeeeff"/><rect x="1635.68" y="215.06" width="62.27" height="31.21" fill="#e0e0ff"/><rect x="1697.75" y="215.06" width="62.27" height="31.21" fill="#d8d8ff"/><rect x="1759.82" y="215.06" width="62.27" height="31.21" fill="#d0d0ff"/><rect x="1821.89" y="215.06" width="62.27" height="31.21" fill="#ccccff"/><rect x="1883.96" y="215.06" width="62.27" height="31.21" fill="#a8a8ff"/><rect x="1946.03" y="215.06" width="62.07" height="31.21" fill="#0000ff"/><rect x="1387.4" y="246.07" width="62.27" height="31.21" fill="#f4f4ff"/><rect x="1449.47" y="246.07" width="62.27" height="31.21" fill="#fff2f2"/><rect x="1511.54" y="246.07" width="62.27" height="31.21" fill="#fff4f4"/><rect x="1573.61" y="246.07" width="62.27" height="31.21" fill="#fff4f4"/><rect x="1635.68" y="246.07" width="62.27" height="31.21" fill="#fff6f6"/><rect x="1697.75" y="246.07" width="62.27" height="31.21" fill="#fff6f6"/><rect x="1759.82" y="246.07" width="62.27" height="31.21" fill="#fff8f8"/><rect x="1821.89" y="246.07" width="62.27" height="31.21" fill="#fff6f6"/><rect x="1883.96" y="246.07" width="62.27" height="31.21" fill="#fffafa"/><rect x="1946.03" y="246.07" width="62.07" height="31.21" fill="#0000ff"/><rect x="1387.4" y="277.08" width="62.27" height="31.21" fill="#f2f2ff"/><rect x="1449.47" y="277.08" width="62.27" height="31.21" fill="#ffeeee"/><rect x="1511.54" y="277.08" width="62.27" height="31.21" fill="#ffeeee"/><rect x="1573.61" y="277.08" width="62.27" height="31.21" fill="#ffeeee"/><rect x="1635.68" y="277.08" width="62.27" height="31.21" fill="#ffeeee"/><rect x="1697.75" y="277.08" width="62.27" height="31.21" fill="#ffeeee"/><rect x="1759.82" y="277.08" width="62.27" height="31.21" fill="#ffeeee"/><rect x="1821.89" y="277.08" width="62.27" height="31.21" fill="#ffecec"/><rect x="1883.96" y="277.08" width="62.27" height="31.21" fill="#ffecec"/><rect x="1946.03" y="277.08" width="62.07" height="31.21" fill="#0000ff"/><rect x="1387.4" y="308.09" width="62.27" height="31.01" fill="#dcdcff"/><rect x="1449.47" y="308.09" width="62.27" height="31.01" fill="#ffeeee"/><rect x="1511.54" y="308.09" width="62.27" height="31.01" fill="#ffecec"/><rect x="1573.61" y="308.09" width="62.27" height="31.01" fill="#ffeeee"/><rect x="1635.68" y="308.09" width="62.27" height="31.01" fill="#fff0f0"/><rect x="1697.75" y="308.09" width="62.27" height="31.01" fill="#fff2f2"/><rect x="1759.82" y="308.09" width="62.27" height="31.01" fill="#fff4f4"/><rect x="1821.89" y="308.09" width="62.27" height="31.01" fill="#fff6f6"/><rect x="1883.96" y="308.09" width="62.27" height="31.01" fill="#fff8f8"/><rect x="1946.03" y="308.09" width="62.07" height="31.01" fill="#0000ff"/></g>
<g class="a"><text x="1418.44" y="49.11" class="w"><tspan dy="-0.5">−</tspan><tspan dy="0.5">0.96</tspan></text><text x="1480.51" y="49.11" class="w"><tspan dy="-0.5">−</tspan><tspan dy="0.5">0.83</tspan></text><text x="1542.58" y="49.11" class="w"><tspan dy="-0.5">−</tspan><tspan dy="0.5">0.78</tspan></text><text x="1604.64" y="49.11" class="w"><tspan dy="-0.5">−</tspan><tspan dy="0.5">0.62</tspan></text><text x="1666.72" y="49.11" class="w"><tspan dy="-0.5">−</tspan><tspan dy="0.5">0.68</tspan></text><text x="1728.79" y="49.11" class="w"><tspan dy="-0.5">−</tspan><tspan dy="0.5">0.83</tspan></text><text x="1790.86" y="49.11" class="w"><tspan dy="-0.5">−</tspan><tspan dy="0.5">0.98</tspan></text><text x="1852.93" y="49.11" class="w"><tspan dy="-0.5">−</tspan><tspan dy="0.5">0.99</tspan></text><text x="1915" y="49.11" class="w"><tspan dy="-0.5">−</tspan><tspan dy="0.5">1.00</tspan></text><text x="1977.07" y="49.11" class="w"><tspan dy="-0.5">−</tspan><tspan dy="0.5">1.00</tspan></text><text x="1418.44" y="80.11" class="w"><tspan dy="-0.5">−</tspan><tspan dy="0.5">0.82</tspan></text><text x="1480.51" y="80.11" class="w"><tspan dy="-0.5">−</tspan><tspan dy="0.5">0.69</tspan></text><text x="1542.58" y="80.11" class="w"><tspan dy="-0.5">−</tspan><tspan dy="0.5">0.68</tspan></text><text x="1604.64" y="80.11" class="w"><tspan dy="-0.5">−</tspan><tspan dy="0.5">0.59</tspan></text><text x="1666.72" y="80.11" class="w"><tspan dy="-0.5">−</tspan><tspan dy="0.5">0.58</tspan></text><text x="1728.79" y="80.11" class="w"><tspan dy="-0.5">−</tspan><tspan dy="0.5">0.71</tspan></text><text x="1790.86" y="80.11" class="w"><tspan dy="-0.5">−</tspan><tspan dy="0.5">0.87</tspan></text><text x="1852.93" y="80.11" class="w"><tspan dy="-0.5">−</tspan><tspan dy="0.5">0.94</tspan></text><text x="1915" y="80.11" class="w"><tspan dy="-0.5">−</tspan><tspan dy="0.5">0.99</tspan></text><text x="1977.07" y="80.11" class="w"><tspan dy="-0.5">−</tspan><tspan dy="0.5">1.00</tspan></text><text x="1418.44" y="111.12" class="w"><tspan dy="-0.5">−</tspan><tspan dy="0.5">0.54</tspan></text><text x="1480.51" y="111.12" class="w"><tspan dy="-0.5">−</tspan><tspan dy="0.5">0.46</tspan></text><text x="1542.58" y="111.12" class="w"><tspan dy="-0.5">−</tspan><tspan dy="0.5">0.51</tspan></text><text x="1604.64" y="111.12" class="w"><tspan dy="-0.5">−</tspan><tspan dy="0.5">0.46</tspan></text><text x="1666.72" y="111.12" class="w"><tspan dy="-0.5">−</tspan><tspan dy="0.5">0.47</tspan></text><text x="1728.79" y="111.12" class="w"><tspan dy="-0.5">−</tspan><tspan dy="0.5">0.57</tspan></text><text x="1790.86" y="111.12" class="w"><tspan dy="-0.5">−</tspan><tspan dy="0.5">0.67</tspan></text><text x="1852.93" y="111.12" class="w"><tspan dy="-0.5">−</tspan><tspan dy="0.5">0.79</tspan></text><text x="1915" y="111.12" class="w"><tspan dy="-0.5">−</tspan><tspan dy="0.5">0.91</tspan></text><text x="1977.07" y="111.12" class="w"><tspan dy="-0.5">−</tspan><tspan dy="0.5">1.00</tspan></text><text x="1418.44" y="142.14"><tspan dy="-0.5">−</tspan><tspan dy="0.5">0.31</tspan></text><text x="1480.51" y="142.14"><tspan dy="-0.5">−</tspan><tspan dy="0.5">0.39</tspan></text><text x="1542.58" y="142.14" class="w"><tspan dy="-0.5">−</tspan><tspan dy="0.5">0.47</tspan></text><text x="1604.64" y="142.14" class="w"><tspan dy="-0.5">−</tspan><tspan dy="0.5">0.49</tspan></text><text x="1666.72" y="142.14" class="w"><tspan dy="-0.5">−</tspan><tspan dy="0.5">0.50</tspan></text><text x="1728.79" y="142.14" class="w"><tspan dy="-0.5">−</tspan><tspan dy="0.5">0.55</tspan></text><text x="1790.86" y="142.14" class="w"><tspan dy="-0.5">−</tspan><tspan dy="0.5">0.60</tspan></text><text x="1852.93" y="142.14" class="w"><tspan dy="-0.5">−</tspan><tspan dy="0.5">0.68</tspan></text><text x="1915" y="142.14" class="w"><tspan dy="-0.5">−</tspan><tspan dy="0.5">0.83</tspan></text><text x="1977.07" y="142.14" class="w"><tspan dy="-0.5">−</tspan><tspan dy="0.5">1.00</tspan></text><text x="1418.44" y="173.15"><tspan dy="-0.5">−</tspan><tspan dy="0.5">0.23</tspan></text><text x="1480.51" y="173.15"><tspan dy="-0.5">−</tspan><tspan dy="0.5">0.34</tspan></text><text x="1542.58" y="173.15" class="w"><tspan dy="-0.5">−</tspan><tspan dy="0.5">0.42</tspan></text><text x="1604.64" y="173.15" class="w"><tspan dy="-0.5">−</tspan><tspan dy="0.5">0.47</tspan></text><text x="1666.72" y="173.15" class="w"><tspan dy="-0.5">−</tspan><tspan dy="0.5">0.52</tspan></text><text x="1728.79" y="173.15" class="w"><tspan dy="-0.5">−</tspan><tspan dy="0.5">0.56</tspan></text><text x="1790.86" y="173.15" class="w"><tspan dy="-0.5">−</tspan><tspan dy="0.5">0.57</tspan></text><text x="1852.93" y="173.15" class="w"><tspan dy="-0.5">−</tspan><tspan dy="0.5">0.65</tspan></text><text x="1915" y="173.15" class="w"><tspan dy="-0.5">−</tspan><tspan dy="0.5">0.77</tspan></text><text x="1977.07" y="173.15" class="w"><tspan dy="-0.5">−</tspan><tspan dy="0.5">1.00</tspan></text><text x="1418.44" y="204.16"><tspan dy="-0.5">−</tspan><tspan dy="0.5">0.17</tspan></text><text x="1480.51" y="204.16"><tspan dy="-0.5">−</tspan><tspan dy="0.5">0.16</tspan></text><text x="1542.58" y="204.16"><tspan dy="-0.5">−</tspan><tspan dy="0.5">0.26</tspan></text><text x="1604.64" y="204.16"><tspan dy="-0.5">−</tspan><tspan dy="0.5">0.33</tspan></text><text x="1666.72" y="204.16"><tspan dy="-0.5">−</tspan><tspan dy="0.5">0.38</tspan></text><text x="1728.79" y="204.16" class="w"><tspan dy="-0.5">−</tspan><tspan dy="0.5">0.41</tspan></text><text x="1790.86" y="204.16" class="w"><tspan dy="-0.5">−</tspan><tspan dy="0.5">0.44</tspan></text><text x="1852.93" y="204.16" class="w"><tspan dy="-0.5">−</tspan><tspan dy="0.5">0.49</tspan></text><text x="1915" y="204.16" class="w"><tspan dy="-0.5">−</tspan><tspan dy="0.5">0.64</tspan></text><text x="1977.07" y="204.16" class="w"><tspan dy="-0.5">−</tspan><tspan dy="0.5">1.00</tspan></text><text x="1418.44" y="235.16"><tspan dy="-0.5">−</tspan><tspan dy="0.5">0.10</tspan></text><text x="1480.51" y="235.16"><tspan dy="0">+</tspan><tspan dy="0">0.03</tspan></text><text x="1542.58" y="235.16"><tspan dy="-0.5">−</tspan><tspan dy="0.5">0.02</tspan></text><text x="1604.64" y="235.16"><tspan dy="-0.5">−</tspan><tspan dy="0.5">0.07</tspan></text><text x="1666.72" y="235.16"><tspan dy="-0.5">−</tspan><tspan dy="0.5">0.12</tspan></text><text x="1728.79" y="235.16"><tspan dy="-0.5">−</tspan><tspan dy="0.5">0.15</tspan></text><text x="1790.86" y="235.16"><tspan dy="-0.5">−</tspan><tspan dy="0.5">0.18</tspan></text><text x="1852.93" y="235.16"><tspan dy="-0.5">−</tspan><tspan dy="0.5">0.20</tspan></text><text x="1915" y="235.16"><tspan dy="-0.5">−</tspan><tspan dy="0.5">0.34</tspan></text><text x="1977.07" y="235.16" class="w"><tspan dy="-0.5">−</tspan><tspan dy="0.5">1.00</tspan></text><text x="1418.44" y="266.18"><tspan dy="-0.5">−</tspan><tspan dy="0.5">0.04</tspan></text><text x="1480.51" y="266.18"><tspan dy="0">+</tspan><tspan dy="0">0.19</tspan></text><text x="1542.58" y="266.18"><tspan dy="0">+</tspan><tspan dy="0">0.18</tspan></text><text x="1604.64" y="266.18"><tspan dy="0">+</tspan><tspan dy="0">0.17</tspan></text><text x="1666.72" y="266.18"><tspan dy="0">+</tspan><tspan dy="0">0.15</tspan></text><text x="1728.79" y="266.18"><tspan dy="0">+</tspan><tspan dy="0">0.13</tspan></text><text x="1790.86" y="266.18"><tspan dy="0">+</tspan><tspan dy="0">0.12</tspan></text><text x="1852.93" y="266.18"><tspan dy="0">+</tspan><tspan dy="0">0.14</tspan></text><text x="1915" y="266.18"><tspan dy="0">+</tspan><tspan dy="0">0.07</tspan></text><text x="1977.07" y="266.18" class="w"><tspan dy="-0.5">−</tspan><tspan dy="0.5">1.00</tspan></text><text x="1418.44" y="297.19"><tspan dy="-0.5">−</tspan><tspan dy="0.5">0.05</tspan></text><text x="1480.51" y="297.19"><tspan dy="0">+</tspan><tspan dy="0">0.26</tspan></text><text x="1542.58" y="297.19"><tspan dy="0">+</tspan><tspan dy="0">0.27</tspan></text><text x="1604.64" y="297.19"><tspan dy="0">+</tspan><tspan dy="0">0.27</tspan></text><text x="1666.72" y="297.19"><tspan dy="0">+</tspan><tspan dy="0">0.26</tspan></text><text x="1728.79" y="297.19"><tspan dy="0">+</tspan><tspan dy="0">0.26</tspan></text><text x="1790.86" y="297.19"><tspan dy="0">+</tspan><tspan dy="0">0.27</tspan></text><text x="1852.93" y="297.19"><tspan dy="0">+</tspan><tspan dy="0">0.30</tspan></text><text x="1915" y="297.19"><tspan dy="0">+</tspan><tspan dy="0">0.31</tspan></text><text x="1977.07" y="297.19" class="w"><tspan dy="-0.5">−</tspan><tspan dy="0.5">1.00</tspan></text><text x="1418.44" y="328.2"><tspan dy="-0.5">−</tspan><tspan dy="0.5">0.14</tspan></text><text x="1480.51" y="328.2"><tspan dy="0">+</tspan><tspan dy="0">0.28</tspan></text><text x="1542.58" y="328.2"><tspan dy="0">+</tspan><tspan dy="0">0.29</tspan></text><text x="1604.64" y="328.2"><tspan dy="0">+</tspan><tspan dy="0">0.27</tspan></text><text x="1666.72" y="328.2"><tspan dy="0">+</tspan><tspan dy="0">0.24</tspan></text><text x="1728.79" y="328.2"><tspan dy="0">+</tspan><tspan dy="0">0.21</tspan></text><text x="1790.86" y="328.2"><tspan dy="0">+</tspan><tspan dy="0">0.18</tspan></text><text x="1852.93" y="328.2"><tspan dy="0">+</tspan><tspan dy="0">0.15</tspan></text><text x="1915" y="328.2"><tspan dy="0">+</tspan><tspan dy="0">0.10</tspan></text><text x="1977.07" y="328.2" class="w"><tspan dy="-0.5">−</tspan><tspan dy="0.5">1.00</tspan></text></g>
<text class="t" x="1697.75" y="23.2">Fpl</text>
<path d="M1383.9 44.51h3.5M1383.9 75.52h3.5M1383.9 106.53h3.5M1383.9 137.54h3.5M1383.9 168.55h3.5M1383.9 199.56h3.5M1383.9 230.56h3.5M1383.9 261.58h3.5M1383.9 292.59h3.5M1383.9 323.6h3.5M1418.44 339.1v4M1480.51 339.1v4M1542.58 339.1v4M1604.64 339.1v4M1666.72 339.1v4M1728.79 339.1v4M1790.86 339.1v4M1852.93 339.1v4M1915 339.1v4M1977.07 339.1v4" stroke="#000" stroke-width="1" fill="none"/>
<g shape-rendering="auto"><rect x="52.3" y="378.45" width="62.27" height="31.21" fill="#0c0cff"/><rect x="114.37" y="378.45" width="62.27" height="31.21" fill="#3838ff"/><rect x="176.44" y="378.45" width="62.27" height="31.21" fill="#3c3cff"/><rect x="238.51" y="378.45" width="62.27" height="31.21" fill="#5656ff"/><rect x="300.58" y="378.45" width="62.27" height="31.21" fill="#5656ff"/><rect x="362.65" y="378.45" width="62.27" height="31.21" fill="#2828ff"/><rect x="424.72" y="378.45" width="62.27" height="31.21" fill="#0a0aff"/><rect x="486.79" y="378.45" width="62.27" height="31.21" fill="#0202ff"/><rect x="548.86" y="378.45" width="62.27" height="31.21" fill="#0000ff"/><rect x="610.93" y="378.45" width="62.07" height="31.21" fill="#0000ff"/><rect x="52.3" y="409.46" width="62.27" height="31.21" fill="#3a3aff"/><rect x="114.37" y="409.46" width="62.27" height="31.21" fill="#5c5cff"/><rect x="176.44" y="409.46" width="62.27" height="31.21" fill="#5858ff"/><rect x="238.51" y="409.46" width="62.27" height="31.21" fill="#7c7cff"/><rect x="300.58" y="409.46" width="62.27" height="31.21" fill="#7474ff"/><rect x="362.65" y="409.46" width="62.27" height="31.21" fill="#5050ff"/><rect x="424.72" y="409.46" width="62.27" height="31.21" fill="#2a2aff"/><rect x="486.79" y="409.46" width="62.27" height="31.21" fill="#1010ff"/><rect x="548.86" y="409.46" width="62.27" height="31.21" fill="#0a0aff"/><rect x="610.93" y="409.46" width="62.07" height="31.21" fill="#0000ff"/><rect x="52.3" y="440.47" width="62.27" height="31.21" fill="#8484ff"/><rect x="114.37" y="440.47" width="62.27" height="31.21" fill="#8484ff"/><rect x="176.44" y="440.47" width="62.27" height="31.21" fill="#7878ff"/><rect x="238.51" y="440.47" width="62.27" height="31.21" fill="#9494ff"/><rect x="300.58" y="440.47" width="62.27" height="31.21" fill="#8e8eff"/><rect x="362.65" y="440.47" width="62.27" height="31.21" fill="#7272ff"/><rect x="424.72" y="440.47" width="62.27" height="31.21" fill="#5050ff"/><rect x="486.79" y="440.47" width="62.27" height="31.21" fill="#4040ff"/><rect x="548.86" y="440.47" width="62.27" height="31.21" fill="#2222ff"/><rect x="610.93" y="440.47" width="62.07" height="31.21" fill="#0000ff"/><rect x="52.3" y="471.48" width="62.27" height="31.21" fill="#babaff"/><rect x="114.37" y="471.48" width="62.27" height="31.21" fill="#8c8cff"/><rect x="176.44" y="471.48" width="62.27" height="31.21" fill="#7a7aff"/><rect x="238.51" y="471.48" width="62.27" height="31.21" fill="#8080ff"/><rect x="300.58" y="471.48" width="62.27" height="31.21" fill="#8282ff"/><rect x="362.65" y="471.48" width="62.27" height="31.21" fill="#7474ff"/><rect x="424.72" y="471.48" width="62.27" height="31.21" fill="#6060ff"/><rect x="486.79" y="471.48" width="62.27" height="31.21" fill="#5050ff"/><rect x="548.86" y="471.48" width="62.27" height="31.21" fill="#4242ff"/><rect x="610.93" y="471.48" width="62.07" height="31.21" fill="#0000ff"/><rect x="52.3" y="502.49" width="62.27" height="31.21" fill="#ceceff"/><rect x="114.37" y="502.49" width="62.27" height="31.21" fill="#8e8eff"/><rect x="176.44" y="502.49" width="62.27" height="31.21" fill="#7474ff"/><rect x="238.51" y="502.49" width="62.27" height="31.21" fill="#7070ff"/><rect x="300.58" y="502.49" width="62.27" height="31.21" fill="#7070ff"/><rect x="362.65" y="502.49" width="62.27" height="31.21" fill="#5e5eff"/><rect x="424.72" y="502.49" width="62.27" height="31.21" fill="#5454ff"/><rect x="486.79" y="502.49" width="62.27" height="31.21" fill="#4242ff"/><rect x="548.86" y="502.49" width="62.27" height="31.21" fill="#3a3aff"/><rect x="610.93" y="502.49" width="62.07" height="31.21" fill="#0000ff"/><rect x="52.3" y="533.5" width="62.27" height="31.21" fill="#e0e0ff"/><rect x="114.37" y="533.5" width="62.27" height="31.21" fill="#b4b4ff"/><rect x="176.44" y="533.5" width="62.27" height="31.21" fill="#9898ff"/><rect x="238.51" y="533.5" width="62.27" height="31.21" fill="#8e8eff"/><rect x="300.58" y="533.5" width="62.27" height="31.21" fill="#8484ff"/><rect x="362.65" y="533.5" width="62.27" height="31.21" fill="#7c7cff"/><rect x="424.72" y="533.5" width="62.27" height="31.21" fill="#6a6aff"/><rect x="486.79" y="533.5" width="62.27" height="31.21" fill="#5656ff"/><rect x="548.86" y="533.5" width="62.27" height="31.21" fill="#4a4aff"/><rect x="610.93" y="533.5" width="62.07" height="31.21" fill="#0000ff"/><rect x="52.3" y="564.51" width="62.27" height="31.21" fill="#f0f0ff"/><rect x="114.37" y="564.51" width="62.27" height="31.21" fill="#e2e2ff"/><rect x="176.44" y="564.51" width="62.27" height="31.21" fill="#cacaff"/><rect x="238.51" y="564.51" width="62.27" height="31.21" fill="#babaff"/><rect x="300.58" y="564.51" width="62.27" height="31.21" fill="#b0b0ff"/><rect x="362.65" y="564.51" width="62.27" height="31.21" fill="#a8a8ff"/><rect x="424.72" y="564.51" width="62.27" height="31.21" fill="#9898ff"/><rect x="486.79" y="564.51" width="62.27" height="31.21" fill="#8080ff"/><rect x="548.86" y="564.51" width="62.27" height="31.21" fill="#7070ff"/><rect x="610.93" y="564.51" width="62.07" height="31.21" fill="#0000ff"/><rect x="52.3" y="595.52" width="62.27" height="31.21" fill="#fafaff"/><rect x="114.37" y="595.52" width="62.27" height="31.21" fill="#fffcfc"/><rect x="176.44" y="595.52" width="62.27" height="31.21" fill="#f4f4ff"/><rect x="238.51" y="595.52" width="62.27" height="31.21" fill="#e8e8ff"/><rect x="300.58" y="595.52" width="62.27" height="31.21" fill="#e0e0ff"/><rect x="362.65" y="595.52" width="62.27" height="31.21" fill="#dedeff"/><rect x="424.72" y="595.52" width="62.27" height="31.21" fill="#d0d0ff"/><rect x="486.79" y="595.52" width="62.27" height="31.21" fill="#b0b0ff"/><rect x="548.86" y="595.52" width="62.27" height="31.21" fill="#a2a2ff"/><rect x="610.93" y="595.52" width="62.07" height="31.21" fill="#0000ff"/><rect x="52.3" y="626.53" width="62.27" height="31.21" fill="#fffefe"/><rect x="114.37" y="626.53" width="62.27" height="31.21" fill="#fff4f4"/><rect x="176.44" y="626.53" width="62.27" height="31.21" fill="#fffafa"/><rect x="238.51" y="626.53" width="62.27" height="31.21" fill="#fffefe"/><rect x="300.58" y="626.53" width="62.27" height="31.21" fill="#fcfcff"/><rect x="362.65" y="626.53" width="62.27" height="31.21" fill="#fcfcff"/><rect x="424.72" y="626.53" width="62.27" height="31.21" fill="#f2f2ff"/><rect x="486.79" y="626.53" width="62.27" height="31.21" fill="#d6d6ff"/><rect x="548.86" y="626.53" width="62.27" height="31.21" fill="#ccccff"/><rect x="610.93" y="626.53" width="62.07" height="31.21" fill="#0000ff"/><rect x="52.3" y="657.54" width="62.27" height="31.01" fill="#e2e2ff"/><rect x="114.37" y="657.54" width="62.27" height="31.01" fill="#ffe6e6"/><rect x="176.44" y="657.54" width="62.27" height="31.01" fill="#ffeeee"/><rect x="238.51" y="657.54" width="62.27" height="31.01" fill="#fff2f2"/><rect x="300.58" y="657.54" width="62.27" height="31.01" fill="#fff8f8"/><rect x="362.65" y="657.54" width="62.27" height="31.01" fill="#fffcfc"/><rect x="424.72" y="657.54" width="62.27" height="31.01" fill="#fafaff"/><rect x="486.79" y="657.54" width="62.27" height="31.01" fill="#dcdcff"/><rect x="548.86" y="657.54" width="62.27" height="31.01" fill="#ccccff"/><rect x="610.93" y="657.54" width="62.07" height="31.01" fill="#0000ff"/></g>
<g class="a"><text x="83.33" y="398.56" class="w"><tspan dy="-0.5">−</tspan><tspan dy="0.5">0.95</tspan></text><text x="145.41" y="398.56" class="w"><tspan dy="-0.5">−</tspan><tspan dy="0.5">0.78</tspan></text><text x="207.48" y="398.56" class="w"><tspan dy="-0.5">−</tspan><tspan dy="0.5">0.76</tspan></text><text x="269.55" y="398.56" class="w"><tspan dy="-0.5">−</tspan><tspan dy="0.5">0.66</tspan></text><text x="331.62" y="398.56" class="w"><tspan dy="-0.5">−</tspan><tspan dy="0.5">0.66</tspan></text><text x="393.69" y="398.56" class="w"><tspan dy="-0.5">−</tspan><tspan dy="0.5">0.84</tspan></text><text x="455.75" y="398.56" class="w"><tspan dy="-0.5">−</tspan><tspan dy="0.5">0.96</tspan></text><text x="517.82" y="398.56" class="w"><tspan dy="-0.5">−</tspan><tspan dy="0.5">0.99</tspan></text><text x="579.89" y="398.56" class="w"><tspan dy="-0.5">−</tspan><tspan dy="0.5">1.00</tspan></text><text x="641.96" y="398.56" class="w"><tspan dy="-0.5">−</tspan><tspan dy="0.5">1.00</tspan></text><text x="83.33" y="429.56" class="w"><tspan dy="-0.5">−</tspan><tspan dy="0.5">0.77</tspan></text><text x="145.41" y="429.56" class="w"><tspan dy="-0.5">−</tspan><tspan dy="0.5">0.64</tspan></text><text x="207.48" y="429.56" class="w"><tspan dy="-0.5">−</tspan><tspan dy="0.5">0.65</tspan></text><text x="269.55" y="429.56" class="w"><tspan dy="-0.5">−</tspan><tspan dy="0.5">0.51</tspan></text><text x="331.62" y="429.56" class="w"><tspan dy="-0.5">−</tspan><tspan dy="0.5">0.54</tspan></text><text x="393.69" y="429.56" class="w"><tspan dy="-0.5">−</tspan><tspan dy="0.5">0.68</tspan></text><text x="455.75" y="429.56" class="w"><tspan dy="-0.5">−</tspan><tspan dy="0.5">0.83</tspan></text><text x="517.82" y="429.56" class="w"><tspan dy="-0.5">−</tspan><tspan dy="0.5">0.93</tspan></text><text x="579.89" y="429.56" class="w"><tspan dy="-0.5">−</tspan><tspan dy="0.5">0.96</tspan></text><text x="641.96" y="429.56" class="w"><tspan dy="-0.5">−</tspan><tspan dy="0.5">1.00</tspan></text><text x="83.33" y="460.58" class="w"><tspan dy="-0.5">−</tspan><tspan dy="0.5">0.48</tspan></text><text x="145.41" y="460.58" class="w"><tspan dy="-0.5">−</tspan><tspan dy="0.5">0.48</tspan></text><text x="207.48" y="460.58" class="w"><tspan dy="-0.5">−</tspan><tspan dy="0.5">0.53</tspan></text><text x="269.55" y="460.58" class="w"><tspan dy="-0.5">−</tspan><tspan dy="0.5">0.42</tspan></text><text x="331.62" y="460.58" class="w"><tspan dy="-0.5">−</tspan><tspan dy="0.5">0.44</tspan></text><text x="393.69" y="460.58" class="w"><tspan dy="-0.5">−</tspan><tspan dy="0.5">0.55</tspan></text><text x="455.75" y="460.58" class="w"><tspan dy="-0.5">−</tspan><tspan dy="0.5">0.68</tspan></text><text x="517.82" y="460.58" class="w"><tspan dy="-0.5">−</tspan><tspan dy="0.5">0.75</tspan></text><text x="579.89" y="460.58" class="w"><tspan dy="-0.5">−</tspan><tspan dy="0.5">0.86</tspan></text><text x="641.96" y="460.58" class="w"><tspan dy="-0.5">−</tspan><tspan dy="0.5">1.00</tspan></text><text x="83.33" y="491.59"><tspan dy="-0.5">−</tspan><tspan dy="0.5">0.27</tspan></text><text x="145.41" y="491.59" class="w"><tspan dy="-0.5">−</tspan><tspan dy="0.5">0.45</tspan></text><text x="207.48" y="491.59" class="w"><tspan dy="-0.5">−</tspan><tspan dy="0.5">0.52</tspan></text><text x="269.55" y="491.59" class="w"><tspan dy="-0.5">−</tspan><tspan dy="0.5">0.50</tspan></text><text x="331.62" y="491.59" class="w"><tspan dy="-0.5">−</tspan><tspan dy="0.5">0.49</tspan></text><text x="393.69" y="491.59" class="w"><tspan dy="-0.5">−</tspan><tspan dy="0.5">0.54</tspan></text><text x="455.75" y="491.59" class="w"><tspan dy="-0.5">−</tspan><tspan dy="0.5">0.62</tspan></text><text x="517.82" y="491.59" class="w"><tspan dy="-0.5">−</tspan><tspan dy="0.5">0.68</tspan></text><text x="579.89" y="491.59" class="w"><tspan dy="-0.5">−</tspan><tspan dy="0.5">0.74</tspan></text><text x="641.96" y="491.59" class="w"><tspan dy="-0.5">−</tspan><tspan dy="0.5">1.00</tspan></text><text x="83.33" y="522.6"><tspan dy="-0.5">−</tspan><tspan dy="0.5">0.19</tspan></text><text x="145.41" y="522.6" class="w"><tspan dy="-0.5">−</tspan><tspan dy="0.5">0.44</tspan></text><text x="207.48" y="522.6" class="w"><tspan dy="-0.5">−</tspan><tspan dy="0.5">0.54</tspan></text><text x="269.55" y="522.6" class="w"><tspan dy="-0.5">−</tspan><tspan dy="0.5">0.56</tspan></text><text x="331.62" y="522.6" class="w"><tspan dy="-0.5">−</tspan><tspan dy="0.5">0.56</tspan></text><text x="393.69" y="522.6" class="w"><tspan dy="-0.5">−</tspan><tspan dy="0.5">0.63</tspan></text><text x="455.75" y="522.6" class="w"><tspan dy="-0.5">−</tspan><tspan dy="0.5">0.67</tspan></text><text x="517.82" y="522.6" class="w"><tspan dy="-0.5">−</tspan><tspan dy="0.5">0.74</tspan></text><text x="579.89" y="522.6" class="w"><tspan dy="-0.5">−</tspan><tspan dy="0.5">0.77</tspan></text><text x="641.96" y="522.6" class="w"><tspan dy="-0.5">−</tspan><tspan dy="0.5">1.00</tspan></text><text x="83.33" y="553.61"><tspan dy="-0.5">−</tspan><tspan dy="0.5">0.12</tspan></text><text x="145.41" y="553.61"><tspan dy="-0.5">−</tspan><tspan dy="0.5">0.29</tspan></text><text x="207.48" y="553.61"><tspan dy="-0.5">−</tspan><tspan dy="0.5">0.40</tspan></text><text x="269.55" y="553.61" class="w"><tspan dy="-0.5">−</tspan><tspan dy="0.5">0.44</tspan></text><text x="331.62" y="553.61" class="w"><tspan dy="-0.5">−</tspan><tspan dy="0.5">0.48</tspan></text><text x="393.69" y="553.61" class="w"><tspan dy="-0.5">−</tspan><tspan dy="0.5">0.51</tspan></text><text x="455.75" y="553.61" class="w"><tspan dy="-0.5">−</tspan><tspan dy="0.5">0.58</tspan></text><text x="517.82" y="553.61" class="w"><tspan dy="-0.5">−</tspan><tspan dy="0.5">0.66</tspan></text><text x="579.89" y="553.61" class="w"><tspan dy="-0.5">−</tspan><tspan dy="0.5">0.71</tspan></text><text x="641.96" y="553.61" class="w"><tspan dy="-0.5">−</tspan><tspan dy="0.5">1.00</tspan></text><text x="83.33" y="584.62"><tspan dy="-0.5">−</tspan><tspan dy="0.5">0.06</tspan></text><text x="145.41" y="584.62"><tspan dy="-0.5">−</tspan><tspan dy="0.5">0.11</tspan></text><text x="207.48" y="584.62"><tspan dy="-0.5">−</tspan><tspan dy="0.5">0.21</tspan></text><text x="269.55" y="584.62"><tspan dy="-0.5">−</tspan><tspan dy="0.5">0.27</tspan></text><text x="331.62" y="584.62"><tspan dy="-0.5">−</tspan><tspan dy="0.5">0.31</tspan></text><text x="393.69" y="584.62"><tspan dy="-0.5">−</tspan><tspan dy="0.5">0.34</tspan></text><text x="455.75" y="584.62" class="w"><tspan dy="-0.5">−</tspan><tspan dy="0.5">0.40</tspan></text><text x="517.82" y="584.62" class="w"><tspan dy="-0.5">−</tspan><tspan dy="0.5">0.50</tspan></text><text x="579.89" y="584.62" class="w"><tspan dy="-0.5">−</tspan><tspan dy="0.5">0.56</tspan></text><text x="641.96" y="584.62" class="w"><tspan dy="-0.5">−</tspan><tspan dy="0.5">1.00</tspan></text><text x="83.33" y="615.62"><tspan dy="-0.5">−</tspan><tspan dy="0.5">0.02</tspan></text><text x="145.41" y="615.62"><tspan dy="0">+</tspan><tspan dy="0">0.04</tspan></text><text x="207.48" y="615.62"><tspan dy="-0.5">−</tspan><tspan dy="0.5">0.04</tspan></text><text x="269.55" y="615.62"><tspan dy="-0.5">−</tspan><tspan dy="0.5">0.09</tspan></text><text x="331.62" y="615.62"><tspan dy="-0.5">−</tspan><tspan dy="0.5">0.12</tspan></text><text x="393.69" y="615.62"><tspan dy="-0.5">−</tspan><tspan dy="0.5">0.13</tspan></text><text x="455.75" y="615.62"><tspan dy="-0.5">−</tspan><tspan dy="0.5">0.18</tspan></text><text x="517.82" y="615.62"><tspan dy="-0.5">−</tspan><tspan dy="0.5">0.31</tspan></text><text x="579.89" y="615.62"><tspan dy="-0.5">−</tspan><tspan dy="0.5">0.36</tspan></text><text x="641.96" y="615.62" class="w"><tspan dy="-0.5">−</tspan><tspan dy="0.5">1.00</tspan></text><text x="83.33" y="646.64"><tspan dy="-0.5">−</tspan><tspan dy="0.5">0.00</tspan></text><text x="145.41" y="646.64"><tspan dy="0">+</tspan><tspan dy="0">0.17</tspan></text><text x="207.48" y="646.64"><tspan dy="0">+</tspan><tspan dy="0">0.09</tspan></text><text x="269.55" y="646.64"><tspan dy="0">+</tspan><tspan dy="0">0.03</tspan></text><text x="331.62" y="646.64"><tspan dy="-0.5">−</tspan><tspan dy="0.5">0.01</tspan></text><text x="393.69" y="646.64"><tspan dy="-0.5">−</tspan><tspan dy="0.5">0.01</tspan></text><text x="455.75" y="646.64"><tspan dy="-0.5">−</tspan><tspan dy="0.5">0.05</tspan></text><text x="517.82" y="646.64"><tspan dy="-0.5">−</tspan><tspan dy="0.5">0.16</tspan></text><text x="579.89" y="646.64"><tspan dy="-0.5">−</tspan><tspan dy="0.5">0.20</tspan></text><text x="641.96" y="646.64" class="w"><tspan dy="-0.5">−</tspan><tspan dy="0.5">1.00</tspan></text><text x="83.33" y="677.65"><tspan dy="-0.5">−</tspan><tspan dy="0.5">0.11</tspan></text><text x="145.41" y="677.65"><tspan dy="0">+</tspan><tspan dy="0">0.38</tspan></text><text x="207.48" y="677.65"><tspan dy="0">+</tspan><tspan dy="0">0.28</tspan></text><text x="269.55" y="677.65"><tspan dy="0">+</tspan><tspan dy="0">0.19</tspan></text><text x="331.62" y="677.65"><tspan dy="0">+</tspan><tspan dy="0">0.11</tspan></text><text x="393.69" y="677.65"><tspan dy="0">+</tspan><tspan dy="0">0.06</tspan></text><text x="455.75" y="677.65"><tspan dy="-0.5">−</tspan><tspan dy="0.5">0.02</tspan></text><text x="517.82" y="677.65"><tspan dy="-0.5">−</tspan><tspan dy="0.5">0.14</tspan></text><text x="579.89" y="677.65"><tspan dy="-0.5">−</tspan><tspan dy="0.5">0.20</tspan></text><text x="641.96" y="677.65" class="w"><tspan dy="-0.5">−</tspan><tspan dy="0.5">1.00</tspan></text></g>
<text class="t" x="362.65" y="372.65">Fexp</text>
<path d="M48.8 393.95h3.5M48.8 424.96h3.5M48.8 455.98h3.5M48.8 486.99h3.5M48.8 518h3.5M48.8 549h3.5M48.8 580.01h3.5M48.8 611.02h3.5M48.8 642.04h3.5M48.8 673.05h3.5M83.33 688.55v4M145.41 688.55v4M207.48 688.55v4M269.55 688.55v4M331.62 688.55v4M393.69 688.55v4M455.75 688.55v4M517.82 688.55v4M579.89 688.55v4M641.96 688.55v4" stroke="#000" stroke-width="1" fill="none"/>
<text class="k" text-anchor="middle" transform="translate(43.3 393.95) rotate(-90)">0</text>
<text class="k" text-anchor="middle" transform="translate(43.3 424.96) rotate(-90)">1</text>
<text class="k" text-anchor="middle" transform="translate(43.3 455.98) rotate(-90)">2</text>
<text class="k" text-anchor="middle" transform="translate(43.3 486.99) rotate(-90)">3</text>
<text class="k" text-anchor="middle" transform="translate(43.3 518) rotate(-90)">4</text>
<text class="k" text-anchor="middle" transform="translate(43.3 549) rotate(-90)">5</text>
<text class="k" text-anchor="middle" transform="translate(43.3 580.01) rotate(-90)">6</text>
<text class="k" text-anchor="middle" transform="translate(43.3 611.02) rotate(-90)">7</text>
<text class="k" text-anchor="middle" transform="translate(43.3 642.04) rotate(-90)">8</text>
<text class="k" text-anchor="middle" transform="translate(43.3 673.05) rotate(-90)">9</text>
<g shape-rendering="auto"><rect x="719.9" y="378.45" width="62.27" height="31.21" fill="#0606ff"/><rect x="781.97" y="378.45" width="62.27" height="31.21" fill="#1414ff"/><rect x="844.04" y="378.45" width="62.27" height="31.21" fill="#2222ff"/><rect x="906.11" y="378.45" width="62.27" height="31.21" fill="#3838ff"/><rect x="968.18" y="378.45" width="62.27" height="31.21" fill="#5454ff"/><rect x="1030.25" y="378.45" width="62.27" height="31.21" fill="#8c8cff"/><rect x="1092.32" y="378.45" width="62.27" height="31.21" fill="#f8f8ff"/><rect x="1154.39" y="378.45" width="62.27" height="31.21" fill="#fffefe"/><rect x="1216.46" y="378.45" width="62.27" height="31.21" fill="#dcdcff"/><rect x="1278.53" y="378.45" width="62.07" height="31.21" fill="#0000ff"/><rect x="719.9" y="409.46" width="62.27" height="31.21" fill="#2222ff"/><rect x="781.97" y="409.46" width="62.27" height="31.21" fill="#4040ff"/><rect x="844.04" y="409.46" width="62.27" height="31.21" fill="#5c5cff"/><rect x="906.11" y="409.46" width="62.27" height="31.21" fill="#7474ff"/><rect x="968.18" y="409.46" width="62.27" height="31.21" fill="#8484ff"/><rect x="1030.25" y="409.46" width="62.27" height="31.21" fill="#b8b8ff"/><rect x="1092.32" y="409.46" width="62.27" height="31.21" fill="#dedeff"/><rect x="1154.39" y="409.46" width="62.27" height="31.21" fill="#c6c6ff"/><rect x="1216.46" y="409.46" width="62.27" height="31.21" fill="#b2b2ff"/><rect x="1278.53" y="409.46" width="62.07" height="31.21" fill="#0000ff"/><rect x="719.9" y="440.47" width="62.27" height="31.21" fill="#4040ff"/><rect x="781.97" y="440.47" width="62.27" height="31.21" fill="#8686ff"/><rect x="844.04" y="440.47" width="62.27" height="31.21" fill="#9c9cff"/><rect x="906.11" y="440.47" width="62.27" height="31.21" fill="#bcbcff"/><rect x="968.18" y="440.47" width="62.27" height="31.21" fill="#c2c2ff"/><rect x="1030.25" y="440.47" width="62.27" height="31.21" fill="#ccccff"/><rect x="1092.32" y="440.47" width="62.27" height="31.21" fill="#dedeff"/><rect x="1154.39" y="440.47" width="62.27" height="31.21" fill="#c6c6ff"/><rect x="1216.46" y="440.47" width="62.27" height="31.21" fill="#bcbcff"/><rect x="1278.53" y="440.47" width="62.07" height="31.21" fill="#0000ff"/><rect x="719.9" y="471.48" width="62.27" height="31.21" fill="#6060ff"/><rect x="781.97" y="471.48" width="62.27" height="31.21" fill="#d0d0ff"/><rect x="844.04" y="471.48" width="62.27" height="31.21" fill="#eeeeff"/><rect x="906.11" y="471.48" width="62.27" height="31.21" fill="#fafaff"/><rect x="968.18" y="471.48" width="62.27" height="31.21" fill="#f8f8ff"/><rect x="1030.25" y="471.48" width="62.27" height="31.21" fill="#fffefe"/><rect x="1092.32" y="471.48" width="62.27" height="31.21" fill="#fafaff"/><rect x="1154.39" y="471.48" width="62.27" height="31.21" fill="#eaeaff"/><rect x="1216.46" y="471.48" width="62.27" height="31.21" fill="#e2e2ff"/><rect x="1278.53" y="471.48" width="62.07" height="31.21" fill="#0000ff"/><rect x="719.9" y="502.49" width="62.27" height="31.21" fill="#8080ff"/><rect x="781.97" y="502.49" width="62.27" height="31.21" fill="#fffefe"/><rect x="844.04" y="502.49" width="62.27" height="31.21" fill="#fff8f8"/><rect x="906.11" y="502.49" width="62.27" height="31.21" fill="#fff8f8"/><rect x="968.18" y="502.49" width="62.27" height="31.21" fill="#fff8f8"/><rect x="1030.25" y="502.49" width="62.27" height="31.21" fill="#fff8f8"/><rect x="1092.32" y="502.49" width="62.27" height="31.21" fill="#fffafa"/><rect x="1154.39" y="502.49" width="62.27" height="31.21" fill="#fffafa"/><rect x="1216.46" y="502.49" width="62.27" height="31.21" fill="#fff8f8"/><rect x="1278.53" y="502.49" width="62.07" height="31.21" fill="#0000ff"/><rect x="719.9" y="533.5" width="62.27" height="31.21" fill="#a6a6ff"/><rect x="781.97" y="533.5" width="62.27" height="31.21" fill="#fff8f8"/><rect x="844.04" y="533.5" width="62.27" height="31.21" fill="#fff0f0"/><rect x="906.11" y="533.5" width="62.27" height="31.21" fill="#fff0f0"/><rect x="968.18" y="533.5" width="62.27" height="31.21" fill="#ffeeee"/><rect x="1030.25" y="533.5" width="62.27" height="31.21" fill="#ffeeee"/><rect x="1092.32" y="533.5" width="62.27" height="31.21" fill="#ffeeee"/><rect x="1154.39" y="533.5" width="62.27" height="31.21" fill="#fff2f2"/><rect x="1216.46" y="533.5" width="62.27" height="31.21" fill="#ffeeee"/><rect x="1278.53" y="533.5" width="62.07" height="31.21" fill="#0000ff"/><rect x="719.9" y="564.51" width="62.27" height="31.21" fill="#babaff"/><rect x="781.97" y="564.51" width="62.27" height="31.21" fill="#fffafa"/><rect x="844.04" y="564.51" width="62.27" height="31.21" fill="#fff2f2"/><rect x="906.11" y="564.51" width="62.27" height="31.21" fill="#ffeeee"/><rect x="968.18" y="564.51" width="62.27" height="31.21" fill="#ffecec"/><rect x="1030.25" y="564.51" width="62.27" height="31.21" fill="#ffeaea"/><rect x="1092.32" y="564.51" width="62.27" height="31.21" fill="#ffeaea"/><rect x="1154.39" y="564.51" width="62.27" height="31.21" fill="#ffecec"/><rect x="1216.46" y="564.51" width="62.27" height="31.21" fill="#ffe2e2"/><rect x="1278.53" y="564.51" width="62.07" height="31.21" fill="#0000ff"/><rect x="719.9" y="595.52" width="62.27" height="31.21" fill="#ccccff"/><rect x="781.97" y="595.52" width="62.27" height="31.21" fill="#fffefe"/><rect x="844.04" y="595.52" width="62.27" height="31.21" fill="#fff8f8"/><rect x="906.11" y="595.52" width="62.27" height="31.21" fill="#fff4f4"/><rect x="968.18" y="595.52" width="62.27" height="31.21" fill="#fff0f0"/><rect x="1030.25" y="595.52" width="62.27" height="31.21" fill="#ffeeee"/><rect x="1092.32" y="595.52" width="62.27" height="31.21" fill="#ffeeee"/><rect x="1154.39" y="595.52" width="62.27" height="31.21" fill="#ffeeee"/><rect x="1216.46" y="595.52" width="62.27" height="31.21" fill="#ffe4e4"/><rect x="1278.53" y="595.52" width="62.07" height="31.21" fill="#0000ff"/><rect x="719.9" y="626.53" width="62.27" height="31.21" fill="#e2e2ff"/><rect x="781.97" y="626.53" width="62.27" height="31.21" fill="#e8e8ff"/><rect x="844.04" y="626.53" width="62.27" height="31.21" fill="#f4f4ff"/><rect x="906.11" y="626.53" width="62.27" height="31.21" fill="#fcfcff"/><rect x="968.18" y="626.53" width="62.27" height="31.21" fill="#fffefe"/><rect x="1030.25" y="626.53" width="62.27" height="31.21" fill="#fffefe"/><rect x="1092.32" y="626.53" width="62.27" height="31.21" fill="#fffcfc"/><rect x="1154.39" y="626.53" width="62.27" height="31.21" fill="#fffefe"/><rect x="1216.46" y="626.53" width="62.27" height="31.21" fill="#fffafa"/><rect x="1278.53" y="626.53" width="62.07" height="31.21" fill="#0000ff"/><rect x="719.9" y="657.54" width="62.27" height="31.01" fill="#fff8f8"/><rect x="781.97" y="657.54" width="62.27" height="31.01" fill="#fffcfc"/><rect x="844.04" y="657.54" width="62.27" height="31.01" fill="#fffefe"/><rect x="906.11" y="657.54" width="62.27" height="31.01" fill="#fffefe"/><rect x="968.18" y="657.54" width="62.27" height="31.01" fill="#f8f8ff"/><rect x="1030.25" y="657.54" width="62.27" height="31.01" fill="#f2f2ff"/><rect x="1092.32" y="657.54" width="62.27" height="31.01" fill="#e6e6ff"/><rect x="1154.39" y="657.54" width="62.27" height="31.01" fill="#d6d6ff"/><rect x="1216.46" y="657.54" width="62.27" height="31.01" fill="#ccccff"/><rect x="1278.53" y="657.54" width="62.07" height="31.01" fill="#0000ff"/></g>
<g class="a"><text x="750.93" y="398.56" class="w"><tspan dy="-0.5">−</tspan><tspan dy="0.5">0.97</tspan></text><text x="813" y="398.56" class="w"><tspan dy="-0.5">−</tspan><tspan dy="0.5">0.92</tspan></text><text x="875.08" y="398.56" class="w"><tspan dy="-0.5">−</tspan><tspan dy="0.5">0.86</tspan></text><text x="937.14" y="398.56" class="w"><tspan dy="-0.5">−</tspan><tspan dy="0.5">0.78</tspan></text><text x="999.21" y="398.56" class="w"><tspan dy="-0.5">−</tspan><tspan dy="0.5">0.67</tspan></text><text x="1061.28" y="398.56" class="w"><tspan dy="-0.5">−</tspan><tspan dy="0.5">0.45</tspan></text><text x="1123.36" y="398.56"><tspan dy="-0.5">−</tspan><tspan dy="0.5">0.03</tspan></text><text x="1185.42" y="398.56"><tspan dy="0">+</tspan><tspan dy="0">0.02</tspan></text><text x="1247.49" y="398.56"><tspan dy="-0.5">−</tspan><tspan dy="0.5">0.14</tspan></text><text x="1309.57" y="398.56" class="w"><tspan dy="-0.5">−</tspan><tspan dy="0.5">1.00</tspan></text><text x="750.93" y="429.56" class="w"><tspan dy="-0.5">−</tspan><tspan dy="0.5">0.86</tspan></text><text x="813" y="429.56" class="w"><tspan dy="-0.5">−</tspan><tspan dy="0.5">0.75</tspan></text><text x="875.08" y="429.56" class="w"><tspan dy="-0.5">−</tspan><tspan dy="0.5">0.64</tspan></text><text x="937.14" y="429.56" class="w"><tspan dy="-0.5">−</tspan><tspan dy="0.5">0.54</tspan></text><text x="999.21" y="429.56" class="w"><tspan dy="-0.5">−</tspan><tspan dy="0.5">0.48</tspan></text><text x="1061.28" y="429.56"><tspan dy="-0.5">−</tspan><tspan dy="0.5">0.28</tspan></text><text x="1123.36" y="429.56"><tspan dy="-0.5">−</tspan><tspan dy="0.5">0.13</tspan></text><text x="1185.42" y="429.56"><tspan dy="-0.5">−</tspan><tspan dy="0.5">0.22</tspan></text><text x="1247.49" y="429.56"><tspan dy="-0.5">−</tspan><tspan dy="0.5">0.30</tspan></text><text x="1309.57" y="429.56" class="w"><tspan dy="-0.5">−</tspan><tspan dy="0.5">1.00</tspan></text><text x="750.93" y="460.58" class="w"><tspan dy="-0.5">−</tspan><tspan dy="0.5">0.75</tspan></text><text x="813" y="460.58" class="w"><tspan dy="-0.5">−</tspan><tspan dy="0.5">0.47</tspan></text><text x="875.08" y="460.58"><tspan dy="-0.5">−</tspan><tspan dy="0.5">0.39</tspan></text><text x="937.14" y="460.58"><tspan dy="-0.5">−</tspan><tspan dy="0.5">0.26</tspan></text><text x="999.21" y="460.58"><tspan dy="-0.5">−</tspan><tspan dy="0.5">0.24</tspan></text><text x="1061.28" y="460.58"><tspan dy="-0.5">−</tspan><tspan dy="0.5">0.20</tspan></text><text x="1123.36" y="460.58"><tspan dy="-0.5">−</tspan><tspan dy="0.5">0.13</tspan></text><text x="1185.42" y="460.58"><tspan dy="-0.5">−</tspan><tspan dy="0.5">0.22</tspan></text><text x="1247.49" y="460.58"><tspan dy="-0.5">−</tspan><tspan dy="0.5">0.26</tspan></text><text x="1309.57" y="460.58" class="w"><tspan dy="-0.5">−</tspan><tspan dy="0.5">1.00</tspan></text><text x="750.93" y="491.59" class="w"><tspan dy="-0.5">−</tspan><tspan dy="0.5">0.62</tspan></text><text x="813" y="491.59"><tspan dy="-0.5">−</tspan><tspan dy="0.5">0.18</tspan></text><text x="875.08" y="491.59"><tspan dy="-0.5">−</tspan><tspan dy="0.5">0.07</tspan></text><text x="937.14" y="491.59"><tspan dy="-0.5">−</tspan><tspan dy="0.5">0.02</tspan></text><text x="999.21" y="491.59"><tspan dy="-0.5">−</tspan><tspan dy="0.5">0.03</tspan></text><text x="1061.28" y="491.59"><tspan dy="0">+</tspan><tspan dy="0">0.00</tspan></text><text x="1123.36" y="491.59"><tspan dy="-0.5">−</tspan><tspan dy="0.5">0.02</tspan></text><text x="1185.42" y="491.59"><tspan dy="-0.5">−</tspan><tspan dy="0.5">0.08</tspan></text><text x="1247.49" y="491.59"><tspan dy="-0.5">−</tspan><tspan dy="0.5">0.11</tspan></text><text x="1309.57" y="491.59" class="w"><tspan dy="-0.5">−</tspan><tspan dy="0.5">1.00</tspan></text><text x="750.93" y="522.6" class="w"><tspan dy="-0.5">−</tspan><tspan dy="0.5">0.50</tspan></text><text x="813" y="522.6"><tspan dy="0">+</tspan><tspan dy="0">0.00</tspan></text><text x="875.08" y="522.6"><tspan dy="0">+</tspan><tspan dy="0">0.10</tspan></text><text x="937.14" y="522.6"><tspan dy="0">+</tspan><tspan dy="0">0.12</tspan></text><text x="999.21" y="522.6"><tspan dy="0">+</tspan><tspan dy="0">0.12</tspan></text><text x="1061.28" y="522.6"><tspan dy="0">+</tspan><tspan dy="0">0.11</tspan></text><text x="1123.36" y="522.6"><tspan dy="0">+</tspan><tspan dy="0">0.09</tspan></text><text x="1185.42" y="522.6"><tspan dy="0">+</tspan><tspan dy="0">0.08</tspan></text><text x="1247.49" y="522.6"><tspan dy="0">+</tspan><tspan dy="0">0.11</tspan></text><text x="1309.57" y="522.6" class="w"><tspan dy="-0.5">−</tspan><tspan dy="0.5">1.00</tspan></text><text x="750.93" y="553.61"><tspan dy="-0.5">−</tspan><tspan dy="0.5">0.35</tspan></text><text x="813" y="553.61"><tspan dy="0">+</tspan><tspan dy="0">0.10</tspan></text><text x="875.08" y="553.61"><tspan dy="0">+</tspan><tspan dy="0">0.22</tspan></text><text x="937.14" y="553.61"><tspan dy="0">+</tspan><tspan dy="0">0.23</tspan></text><text x="999.21" y="553.61"><tspan dy="0">+</tspan><tspan dy="0">0.27</tspan></text><text x="1061.28" y="553.61"><tspan dy="0">+</tspan><tspan dy="0">0.27</tspan></text><text x="1123.36" y="553.61"><tspan dy="0">+</tspan><tspan dy="0">0.26</tspan></text><text x="1185.42" y="553.61"><tspan dy="0">+</tspan><tspan dy="0">0.21</tspan></text><text x="1247.49" y="553.61"><tspan dy="0">+</tspan><tspan dy="0">0.27</tspan></text><text x="1309.57" y="553.61" class="w"><tspan dy="-0.5">−</tspan><tspan dy="0.5">1.00</tspan></text><text x="750.93" y="584.62"><tspan dy="-0.5">−</tspan><tspan dy="0.5">0.27</tspan></text><text x="813" y="584.62"><tspan dy="0">+</tspan><tspan dy="0">0.08</tspan></text><text x="875.08" y="584.62"><tspan dy="0">+</tspan><tspan dy="0">0.20</tspan></text><text x="937.14" y="584.62"><tspan dy="0">+</tspan><tspan dy="0">0.27</tspan></text><text x="999.21" y="584.62"><tspan dy="0">+</tspan><tspan dy="0">0.31</tspan></text><text x="1061.28" y="584.62"><tspan dy="0">+</tspan><tspan dy="0">0.34</tspan></text><text x="1123.36" y="584.62"><tspan dy="0">+</tspan><tspan dy="0">0.33</tspan></text><text x="1185.42" y="584.62"><tspan dy="0">+</tspan><tspan dy="0">0.30</tspan></text><text x="1247.49" y="584.62"><tspan dy="0">+</tspan><tspan dy="0">0.45</tspan></text><text x="1309.57" y="584.62" class="w"><tspan dy="-0.5">−</tspan><tspan dy="0.5">1.00</tspan></text><text x="750.93" y="615.62"><tspan dy="-0.5">−</tspan><tspan dy="0.5">0.20</tspan></text><text x="813" y="615.62"><tspan dy="0">+</tspan><tspan dy="0">0.01</tspan></text><text x="875.08" y="615.62"><tspan dy="0">+</tspan><tspan dy="0">0.10</tspan></text><text x="937.14" y="615.62"><tspan dy="0">+</tspan><tspan dy="0">0.17</tspan></text><text x="999.21" y="615.62"><tspan dy="0">+</tspan><tspan dy="0">0.22</tspan></text><text x="1061.28" y="615.62"><tspan dy="0">+</tspan><tspan dy="0">0.26</tspan></text><text x="1123.36" y="615.62"><tspan dy="0">+</tspan><tspan dy="0">0.28</tspan></text><text x="1185.42" y="615.62"><tspan dy="0">+</tspan><tspan dy="0">0.27</tspan></text><text x="1247.49" y="615.62"><tspan dy="0">+</tspan><tspan dy="0">0.41</tspan></text><text x="1309.57" y="615.62" class="w"><tspan dy="-0.5">−</tspan><tspan dy="0.5">1.00</tspan></text><text x="750.93" y="646.64"><tspan dy="-0.5">−</tspan><tspan dy="0.5">0.11</tspan></text><text x="813" y="646.64"><tspan dy="-0.5">−</tspan><tspan dy="0.5">0.09</tspan></text><text x="875.08" y="646.64"><tspan dy="-0.5">−</tspan><tspan dy="0.5">0.04</tspan></text><text x="937.14" y="646.64"><tspan dy="-0.5">−</tspan><tspan dy="0.5">0.01</tspan></text><text x="999.21" y="646.64"><tspan dy="0">+</tspan><tspan dy="0">0.01</tspan></text><text x="1061.28" y="646.64"><tspan dy="0">+</tspan><tspan dy="0">0.03</tspan></text><text x="1123.36" y="646.64"><tspan dy="0">+</tspan><tspan dy="0">0.04</tspan></text><text x="1185.42" y="646.64"><tspan dy="0">+</tspan><tspan dy="0">0.02</tspan></text><text x="1247.49" y="646.64"><tspan dy="0">+</tspan><tspan dy="0">0.09</tspan></text><text x="1309.57" y="646.64" class="w"><tspan dy="-0.5">−</tspan><tspan dy="0.5">1.00</tspan></text><text x="750.93" y="677.65"><tspan dy="0">+</tspan><tspan dy="0">0.12</tspan></text><text x="813" y="677.65"><tspan dy="0">+</tspan><tspan dy="0">0.04</tspan></text><text x="875.08" y="677.65"><tspan dy="0">+</tspan><tspan dy="0">0.03</tspan></text><text x="937.14" y="677.65"><tspan dy="0">+</tspan><tspan dy="0">0.00</tspan></text><text x="999.21" y="677.65"><tspan dy="-0.5">−</tspan><tspan dy="0.5">0.03</tspan></text><text x="1061.28" y="677.65"><tspan dy="-0.5">−</tspan><tspan dy="0.5">0.05</tspan></text><text x="1123.36" y="677.65"><tspan dy="-0.5">−</tspan><tspan dy="0.5">0.10</tspan></text><text x="1185.42" y="677.65"><tspan dy="-0.5">−</tspan><tspan dy="0.5">0.16</tspan></text><text x="1247.49" y="677.65"><tspan dy="-0.5">−</tspan><tspan dy="0.5">0.20</tspan></text><text x="1309.57" y="677.65" class="w"><tspan dy="-0.5">−</tspan><tspan dy="0.5">1.00</tspan></text></g>
<text class="t" x="1030.25" y="372.65">FplA</text>
<path d="M716.4 393.95h3.5M716.4 424.96h3.5M716.4 455.98h3.5M716.4 486.99h3.5M716.4 518h3.5M716.4 549h3.5M716.4 580.01h3.5M716.4 611.02h3.5M716.4 642.04h3.5M716.4 673.05h3.5M750.93 688.55v4M813 688.55v4M875.08 688.55v4M937.14 688.55v4M999.21 688.55v4M1061.28 688.55v4M1123.36 688.55v4M1185.42 688.55v4M1247.49 688.55v4M1309.57 688.55v4" stroke="#000" stroke-width="1" fill="none"/>
<g shape-rendering="auto"><rect x="1387.4" y="378.45" width="62.27" height="31.21" fill="#d8d8ff"/><rect x="1449.47" y="378.45" width="62.27" height="31.21" fill="#ff6e6e"/><rect x="1511.54" y="378.45" width="62.27" height="31.21" fill="#ff5454"/><rect x="1573.61" y="378.45" width="62.27" height="31.21" fill="#ff5050"/><rect x="1635.68" y="378.45" width="62.27" height="31.21" fill="#ff4c4c"/><rect x="1697.75" y="378.45" width="62.27" height="31.21" fill="#ff3434"/><rect x="1759.82" y="378.45" width="62.27" height="31.21" fill="#ff3e3e"/><rect x="1821.89" y="378.45" width="62.27" height="31.21" fill="#ff4040"/><rect x="1883.96" y="378.45" width="62.27" height="31.21" fill="#ff5858"/><rect x="1946.03" y="378.45" width="62.07" height="31.21" fill="#0000ff"/><rect x="1387.4" y="409.46" width="62.27" height="31.21" fill="#ffecec"/><rect x="1449.47" y="409.46" width="62.27" height="31.21" fill="#ff4a4a"/><rect x="1511.54" y="409.46" width="62.27" height="31.21" fill="#ff3e3e"/><rect x="1573.61" y="409.46" width="62.27" height="31.21" fill="#ff4c4c"/><rect x="1635.68" y="409.46" width="62.27" height="31.21" fill="#ff5454"/><rect x="1697.75" y="409.46" width="62.27" height="31.21" fill="#ff5454"/><rect x="1759.82" y="409.46" width="62.27" height="31.21" fill="#ff4e4e"/><rect x="1821.89" y="409.46" width="62.27" height="31.21" fill="#ff4646"/><rect x="1883.96" y="409.46" width="62.27" height="31.21" fill="#ff5c5c"/><rect x="1946.03" y="409.46" width="62.07" height="31.21" fill="#0000ff"/><rect x="1387.4" y="440.47" width="62.27" height="31.21" fill="#ffdede"/><rect x="1449.47" y="440.47" width="62.27" height="31.21" fill="#ff4040"/><rect x="1511.54" y="440.47" width="62.27" height="31.21" fill="#ff3838"/><rect x="1573.61" y="440.47" width="62.27" height="31.21" fill="#ff4c4c"/><rect x="1635.68" y="440.47" width="62.27" height="31.21" fill="#ff4e4e"/><rect x="1697.75" y="440.47" width="62.27" height="31.21" fill="#ff5050"/><rect x="1759.82" y="440.47" width="62.27" height="31.21" fill="#ff4848"/><rect x="1821.89" y="440.47" width="62.27" height="31.21" fill="#ff3a3a"/><rect x="1883.96" y="440.47" width="62.27" height="31.21" fill="#ff3e3e"/><rect x="1946.03" y="440.47" width="62.07" height="31.21" fill="#0000ff"/><rect x="1387.4" y="471.48" width="62.27" height="31.21" fill="#ffdcdc"/><rect x="1449.47" y="471.48" width="62.27" height="31.21" fill="#ff4646"/><rect x="1511.54" y="471.48" width="62.27" height="31.21" fill="#ff3e3e"/><rect x="1573.61" y="471.48" width="62.27" height="31.21" fill="#ff4444"/><rect x="1635.68" y="471.48" width="62.27" height="31.21" fill="#ff4444"/><rect x="1697.75" y="471.48" width="62.27" height="31.21" fill="#ff4a4a"/><rect x="1759.82" y="471.48" width="62.27" height="31.21" fill="#ff4646"/><rect x="1821.89" y="471.48" width="62.27" height="31.21" fill="#ff3e3e"/><rect x="1883.96" y="471.48" width="62.27" height="31.21" fill="#ff3636"/><rect x="1946.03" y="471.48" width="62.07" height="31.21" fill="#0000ff"/><rect x="1387.4" y="502.49" width="62.27" height="31.21" fill="#ffe0e0"/><rect x="1449.47" y="502.49" width="62.27" height="31.21" fill="#ff5c5c"/><rect x="1511.54" y="502.49" width="62.27" height="31.21" fill="#ff4a4a"/><rect x="1573.61" y="502.49" width="62.27" height="31.21" fill="#ff4a4a"/><rect x="1635.68" y="502.49" width="62.27" height="31.21" fill="#ff4848"/><rect x="1697.75" y="502.49" width="62.27" height="31.21" fill="#ff4a4a"/><rect x="1759.82" y="502.49" width="62.27" height="31.21" fill="#ff4848"/><rect x="1821.89" y="502.49" width="62.27" height="31.21" fill="#ff3e3e"/><rect x="1883.96" y="502.49" width="62.27" height="31.21" fill="#ff4040"/><rect x="1946.03" y="502.49" width="62.07" height="31.21" fill="#0000ff"/><rect x="1387.4" y="533.5" width="62.27" height="31.21" fill="#ffeeee"/><rect x="1449.47" y="533.5" width="62.27" height="31.21" fill="#ff8080"/><rect x="1511.54" y="533.5" width="62.27" height="31.21" fill="#ff7070"/><rect x="1573.61" y="533.5" width="62.27" height="31.21" fill="#ff6a6a"/><rect x="1635.68" y="533.5" width="62.27" height="31.21" fill="#ff6464"/><rect x="1697.75" y="533.5" width="62.27" height="31.21" fill="#ff6464"/><rect x="1759.82" y="533.5" width="62.27" height="31.21" fill="#ff6262"/><rect x="1821.89" y="533.5" width="62.27" height="31.21" fill="#ff5656"/><rect x="1883.96" y="533.5" width="62.27" height="31.21" fill="#ff4e4e"/><rect x="1946.03" y="533.5" width="62.07" height="31.21" fill="#0000ff"/><rect x="1387.4" y="564.51" width="62.27" height="31.21" fill="#fff6f6"/><rect x="1449.47" y="564.51" width="62.27" height="31.21" fill="#ffa4a4"/><rect x="1511.54" y="564.51" width="62.27" height="31.21" fill="#ff9696"/><rect x="1573.61" y="564.51" width="62.27" height="31.21" fill="#ff8e8e"/><rect x="1635.68" y="564.51" width="62.27" height="31.21" fill="#ff8888"/><rect x="1697.75" y="564.51" width="62.27" height="31.21" fill="#ff8484"/><rect x="1759.82" y="564.51" width="62.27" height="31.21" fill="#ff8080"/><rect x="1821.89" y="564.51" width="62.27" height="31.21" fill="#ff7878"/><rect x="1883.96" y="564.51" width="62.27" height="31.21" fill="#ff6e6e"/><rect x="1946.03" y="564.51" width="62.07" height="31.21" fill="#0000ff"/><rect x="1387.4" y="595.52" width="62.27" height="31.21" fill="#fffefe"/><rect x="1449.47" y="595.52" width="62.27" height="31.21" fill="#ffc6c6"/><rect x="1511.54" y="595.52" width="62.27" height="31.21" fill="#ffbebe"/><rect x="1573.61" y="595.52" width="62.27" height="31.21" fill="#ffbaba"/><rect x="1635.68" y="595.52" width="62.27" height="31.21" fill="#ffb6b6"/><rect x="1697.75" y="595.52" width="62.27" height="31.21" fill="#ffb0b0"/><rect x="1759.82" y="595.52" width="62.27" height="31.21" fill="#ffaeae"/><rect x="1821.89" y="595.52" width="62.27" height="31.21" fill="#ffa8a8"/><rect x="1883.96" y="595.52" width="62.27" height="31.21" fill="#ffa0a0"/><rect x="1946.03" y="595.52" width="62.07" height="31.21" fill="#0000ff"/><rect x="1387.4" y="626.53" width="62.27" height="31.21" fill="#f4f4ff"/><rect x="1449.47" y="626.53" width="62.27" height="31.21" fill="#ffe2e2"/><rect x="1511.54" y="626.53" width="62.27" height="31.21" fill="#ffe2e2"/><rect x="1573.61" y="626.53" width="62.27" height="31.21" fill="#ffe2e2"/><rect x="1635.68" y="626.53" width="62.27" height="31.21" fill="#ffe2e2"/><rect x="1697.75" y="626.53" width="62.27" height="31.21" fill="#ffe2e2"/><rect x="1759.82" y="626.53" width="62.27" height="31.21" fill="#ffe0e0"/><rect x="1821.89" y="626.53" width="62.27" height="31.21" fill="#ffdede"/><rect x="1883.96" y="626.53" width="62.27" height="31.21" fill="#ffdede"/><rect x="1946.03" y="626.53" width="62.07" height="31.21" fill="#0000ff"/><rect x="1387.4" y="657.54" width="62.27" height="31.01" fill="#c0c0ff"/><rect x="1449.47" y="657.54" width="62.27" height="31.01" fill="#fff0f0"/><rect x="1511.54" y="657.54" width="62.27" height="31.01" fill="#fff6f6"/><rect x="1573.61" y="657.54" width="62.27" height="31.01" fill="#fffafa"/><rect x="1635.68" y="657.54" width="62.27" height="31.01" fill="#fffefe"/><rect x="1697.75" y="657.54" width="62.27" height="31.01" fill="#f2f2ff"/><rect x="1759.82" y="657.54" width="62.27" height="31.01" fill="#e2e2ff"/><rect x="1821.89" y="657.54" width="62.27" height="31.01" fill="#d8d8ff"/><rect x="1883.96" y="657.54" width="62.27" height="31.01" fill="#cacaff"/><rect x="1946.03" y="657.54" width="62.07" height="31.01" fill="#0000ff"/></g>
<g class="a"><text x="1418.44" y="398.56"><tspan dy="-0.5">−</tspan><tspan dy="0.5">0.15</tspan></text><text x="1480.51" y="398.56"><tspan dy="0">+</tspan><tspan dy="0">2.28</tspan></text><text x="1542.58" y="398.56"><tspan dy="0">+</tspan><tspan dy="0">2.68</tspan></text><text x="1604.64" y="398.56"><tspan dy="0">+</tspan><tspan dy="0">2.74</tspan></text><text x="1666.72" y="398.56"><tspan dy="0">+</tspan><tspan dy="0">2.79</tspan></text><text x="1728.79" y="398.56"><tspan dy="0">+</tspan><tspan dy="0">3.17</tspan></text><text x="1790.86" y="398.56"><tspan dy="0">+</tspan><tspan dy="0">3.01</tspan></text><text x="1852.93" y="398.56"><tspan dy="0">+</tspan><tspan dy="0">2.99</tspan></text><text x="1915" y="398.56"><tspan dy="0">+</tspan><tspan dy="0">2.61</tspan></text><text x="1977.07" y="398.56" class="w"><tspan dy="-0.5">−</tspan><tspan dy="0.5">1.00</tspan></text><text x="1418.44" y="429.56"><tspan dy="0">+</tspan><tspan dy="0">0.29</tspan></text><text x="1480.51" y="429.56"><tspan dy="0">+</tspan><tspan dy="0">2.83</tspan></text><text x="1542.58" y="429.56"><tspan dy="0">+</tspan><tspan dy="0">3.03</tspan></text><text x="1604.64" y="429.56"><tspan dy="0">+</tspan><tspan dy="0">2.81</tspan></text><text x="1666.72" y="429.56"><tspan dy="0">+</tspan><tspan dy="0">2.66</tspan></text><text x="1728.79" y="429.56"><tspan dy="0">+</tspan><tspan dy="0">2.67</tspan></text><text x="1790.86" y="429.56"><tspan dy="0">+</tspan><tspan dy="0">2.77</tspan></text><text x="1852.93" y="429.56"><tspan dy="0">+</tspan><tspan dy="0">2.90</tspan></text><text x="1915" y="429.56"><tspan dy="0">+</tspan><tspan dy="0">2.55</tspan></text><text x="1977.07" y="429.56" class="w"><tspan dy="-0.5">−</tspan><tspan dy="0.5">1.00</tspan></text><text x="1418.44" y="460.58"><tspan dy="0">+</tspan><tspan dy="0">0.51</tspan></text><text x="1480.51" y="460.58"><tspan dy="0">+</tspan><tspan dy="0">2.99</tspan></text><text x="1542.58" y="460.58"><tspan dy="0">+</tspan><tspan dy="0">3.11</tspan></text><text x="1604.64" y="460.58"><tspan dy="0">+</tspan><tspan dy="0">2.80</tspan></text><text x="1666.72" y="460.58"><tspan dy="0">+</tspan><tspan dy="0">2.76</tspan></text><text x="1728.79" y="460.58"><tspan dy="0">+</tspan><tspan dy="0">2.72</tspan></text><text x="1790.86" y="460.58"><tspan dy="0">+</tspan><tspan dy="0">2.85</tspan></text><text x="1852.93" y="460.58"><tspan dy="0">+</tspan><tspan dy="0">3.08</tspan></text><text x="1915" y="460.58"><tspan dy="0">+</tspan><tspan dy="0">3.02</tspan></text><text x="1977.07" y="460.58" class="w"><tspan dy="-0.5">−</tspan><tspan dy="0.5">1.00</tspan></text><text x="1418.44" y="491.59"><tspan dy="0">+</tspan><tspan dy="0">0.56</tspan></text><text x="1480.51" y="491.59"><tspan dy="0">+</tspan><tspan dy="0">2.89</tspan></text><text x="1542.58" y="491.59"><tspan dy="0">+</tspan><tspan dy="0">3.02</tspan></text><text x="1604.64" y="491.59"><tspan dy="0">+</tspan><tspan dy="0">2.91</tspan></text><text x="1666.72" y="491.59"><tspan dy="0">+</tspan><tspan dy="0">2.91</tspan></text><text x="1728.79" y="491.59"><tspan dy="0">+</tspan><tspan dy="0">2.82</tspan></text><text x="1790.86" y="491.59"><tspan dy="0">+</tspan><tspan dy="0">2.88</tspan></text><text x="1852.93" y="491.59"><tspan dy="0">+</tspan><tspan dy="0">3.01</tspan></text><text x="1915" y="491.59"><tspan dy="0">+</tspan><tspan dy="0">3.15</tspan></text><text x="1977.07" y="491.59" class="w"><tspan dy="-0.5">−</tspan><tspan dy="0.5">1.00</tspan></text><text x="1418.44" y="522.6"><tspan dy="0">+</tspan><tspan dy="0">0.48</tspan></text><text x="1480.51" y="522.6"><tspan dy="0">+</tspan><tspan dy="0">2.56</tspan></text><text x="1542.58" y="522.6"><tspan dy="0">+</tspan><tspan dy="0">2.82</tspan></text><text x="1604.64" y="522.6"><tspan dy="0">+</tspan><tspan dy="0">2.84</tspan></text><text x="1666.72" y="522.6"><tspan dy="0">+</tspan><tspan dy="0">2.86</tspan></text><text x="1728.79" y="522.6"><tspan dy="0">+</tspan><tspan dy="0">2.84</tspan></text><text x="1790.86" y="522.6"><tspan dy="0">+</tspan><tspan dy="0">2.87</tspan></text><text x="1852.93" y="522.6"><tspan dy="0">+</tspan><tspan dy="0">3.03</tspan></text><text x="1915" y="522.6"><tspan dy="0">+</tspan><tspan dy="0">2.99</tspan></text><text x="1977.07" y="522.6" class="w"><tspan dy="-0.5">−</tspan><tspan dy="0.5">1.00</tspan></text><text x="1418.44" y="553.61"><tspan dy="0">+</tspan><tspan dy="0">0.27</tspan></text><text x="1480.51" y="553.61"><tspan dy="0">+</tspan><tspan dy="0">1.98</tspan></text><text x="1542.58" y="553.61"><tspan dy="0">+</tspan><tspan dy="0">2.23</tspan></text><text x="1604.64" y="553.61"><tspan dy="0">+</tspan><tspan dy="0">2.34</tspan></text><text x="1666.72" y="553.61"><tspan dy="0">+</tspan><tspan dy="0">2.41</tspan></text><text x="1728.79" y="553.61"><tspan dy="0">+</tspan><tspan dy="0">2.42</tspan></text><text x="1790.86" y="553.61"><tspan dy="0">+</tspan><tspan dy="0">2.44</tspan></text><text x="1852.93" y="553.61"><tspan dy="0">+</tspan><tspan dy="0">2.63</tspan></text><text x="1915" y="553.61"><tspan dy="0">+</tspan><tspan dy="0">2.75</tspan></text><text x="1977.07" y="553.61" class="w"><tspan dy="-0.5">−</tspan><tspan dy="0.5">1.00</tspan></text><text x="1418.44" y="584.62"><tspan dy="0">+</tspan><tspan dy="0">0.13</tspan></text><text x="1480.51" y="584.62"><tspan dy="0">+</tspan><tspan dy="0">1.42</tspan></text><text x="1542.58" y="584.62"><tspan dy="0">+</tspan><tspan dy="0">1.65</tspan></text><text x="1604.64" y="584.62"><tspan dy="0">+</tspan><tspan dy="0">1.76</tspan></text><text x="1666.72" y="584.62"><tspan dy="0">+</tspan><tspan dy="0">1.86</tspan></text><text x="1728.79" y="584.62"><tspan dy="0">+</tspan><tspan dy="0">1.93</tspan></text><text x="1790.86" y="584.62"><tspan dy="0">+</tspan><tspan dy="0">1.99</tspan></text><text x="1852.93" y="584.62"><tspan dy="0">+</tspan><tspan dy="0">2.12</tspan></text><text x="1915" y="584.62"><tspan dy="0">+</tspan><tspan dy="0">2.28</tspan></text><text x="1977.07" y="584.62" class="w"><tspan dy="-0.5">−</tspan><tspan dy="0.5">1.00</tspan></text><text x="1418.44" y="615.62"><tspan dy="0">+</tspan><tspan dy="0">0.03</tspan></text><text x="1480.51" y="615.62"><tspan dy="0">+</tspan><tspan dy="0">0.88</tspan></text><text x="1542.58" y="615.62"><tspan dy="0">+</tspan><tspan dy="0">1.01</tspan></text><text x="1604.64" y="615.62"><tspan dy="0">+</tspan><tspan dy="0">1.08</tspan></text><text x="1666.72" y="615.62"><tspan dy="0">+</tspan><tspan dy="0">1.15</tspan></text><text x="1728.79" y="615.62"><tspan dy="0">+</tspan><tspan dy="0">1.22</tspan></text><text x="1790.86" y="615.62"><tspan dy="0">+</tspan><tspan dy="0">1.28</tspan></text><text x="1852.93" y="615.62"><tspan dy="0">+</tspan><tspan dy="0">1.36</tspan></text><text x="1915" y="615.62"><tspan dy="0">+</tspan><tspan dy="0">1.49</tspan></text><text x="1977.07" y="615.62" class="w"><tspan dy="-0.5">−</tspan><tspan dy="0.5">1.00</tspan></text><text x="1418.44" y="646.64"><tspan dy="-0.5">−</tspan><tspan dy="0.5">0.04</tspan></text><text x="1480.51" y="646.64"><tspan dy="0">+</tspan><tspan dy="0">0.44</tspan></text><text x="1542.58" y="646.64"><tspan dy="0">+</tspan><tspan dy="0">0.45</tspan></text><text x="1604.64" y="646.64"><tspan dy="0">+</tspan><tspan dy="0">0.45</tspan></text><text x="1666.72" y="646.64"><tspan dy="0">+</tspan><tspan dy="0">0.44</tspan></text><text x="1728.79" y="646.64"><tspan dy="0">+</tspan><tspan dy="0">0.45</tspan></text><text x="1790.86" y="646.64"><tspan dy="0">+</tspan><tspan dy="0">0.48</tspan></text><text x="1852.93" y="646.64"><tspan dy="0">+</tspan><tspan dy="0">0.51</tspan></text><text x="1915" y="646.64"><tspan dy="0">+</tspan><tspan dy="0">0.50</tspan></text><text x="1977.07" y="646.64" class="w"><tspan dy="-0.5">−</tspan><tspan dy="0.5">1.00</tspan></text><text x="1418.44" y="677.65"><tspan dy="-0.5">−</tspan><tspan dy="0.5">0.25</tspan></text><text x="1480.51" y="677.65"><tspan dy="0">+</tspan><tspan dy="0">0.22</tspan></text><text x="1542.58" y="677.65"><tspan dy="0">+</tspan><tspan dy="0">0.13</tspan></text><text x="1604.64" y="677.65"><tspan dy="0">+</tspan><tspan dy="0">0.07</tspan></text><text x="1666.72" y="677.65"><tspan dy="0">+</tspan><tspan dy="0">0.00</tspan></text><text x="1728.79" y="677.65"><tspan dy="-0.5">−</tspan><tspan dy="0.5">0.05</tspan></text><text x="1790.86" y="677.65"><tspan dy="-0.5">−</tspan><tspan dy="0.5">0.11</tspan></text><text x="1852.93" y="677.65"><tspan dy="-0.5">−</tspan><tspan dy="0.5">0.15</tspan></text><text x="1915" y="677.65"><tspan dy="-0.5">−</tspan><tspan dy="0.5">0.21</tspan></text><text x="1977.07" y="677.65" class="w"><tspan dy="-0.5">−</tspan><tspan dy="0.5">1.00</tspan></text></g>
<text class="t" x="1697.75" y="372.65">FexpA</text>
<path d="M1383.9 393.95h3.5M1383.9 424.96h3.5M1383.9 455.98h3.5M1383.9 486.99h3.5M1383.9 518h3.5M1383.9 549h3.5M1383.9 580.01h3.5M1383.9 611.02h3.5M1383.9 642.04h3.5M1383.9 673.05h3.5M1418.44 688.55v4M1480.51 688.55v4M1542.58 688.55v4M1604.64 688.55v4M1666.72 688.55v4M1728.79 688.55v4M1790.86 688.55v4M1852.93 688.55v4M1915 688.55v4M1977.07 688.55v4" stroke="#000" stroke-width="1" fill="none"/>
<g shape-rendering="auto"><rect x="52.3" y="728.3" width="62.27" height="31.21" fill="#1c1cff"/><rect x="114.37" y="728.3" width="62.27" height="31.21" fill="#0404ff"/><rect x="176.44" y="728.3" width="62.27" height="31.21" fill="#0404ff"/><rect x="238.51" y="728.3" width="62.27" height="31.21" fill="#0e0eff"/><rect x="300.58" y="728.3" width="62.27" height="31.21" fill="#1010ff"/><rect x="362.65" y="728.3" width="62.27" height="31.21" fill="#0a0aff"/><rect x="424.72" y="728.3" width="62.27" height="31.21" fill="#0404ff"/><rect x="486.79" y="728.3" width="62.27" height="31.21" fill="#0000ff"/><rect x="548.86" y="728.3" width="62.27" height="31.21" fill="#0000ff"/><rect x="610.93" y="728.3" width="62.07" height="31.21" fill="#0000ff"/><rect x="52.3" y="759.31" width="62.27" height="31.21" fill="#2222ff"/><rect x="114.37" y="759.31" width="62.27" height="31.21" fill="#0404ff"/><rect x="176.44" y="759.31" width="62.27" height="31.21" fill="#0c0cff"/><rect x="238.51" y="759.31" width="62.27" height="31.21" fill="#1c1cff"/><rect x="300.58" y="759.31" width="62.27" height="31.21" fill="#1e1eff"/><rect x="362.65" y="759.31" width="62.27" height="31.21" fill="#0c0cff"/><rect x="424.72" y="759.31" width="62.27" height="31.21" fill="#0404ff"/><rect x="486.79" y="759.31" width="62.27" height="31.21" fill="#0000ff"/><rect x="548.86" y="759.31" width="62.27" height="31.21" fill="#0000ff"/><rect x="610.93" y="759.31" width="62.07" height="31.21" fill="#0000ff"/><rect x="52.3" y="790.32" width="62.27" height="31.21" fill="#3838ff"/><rect x="114.37" y="790.32" width="62.27" height="31.21" fill="#0c0cff"/><rect x="176.44" y="790.32" width="62.27" height="31.21" fill="#1414ff"/><rect x="238.51" y="790.32" width="62.27" height="31.21" fill="#2222ff"/><rect x="300.58" y="790.32" width="62.27" height="31.21" fill="#2020ff"/><rect x="362.65" y="790.32" width="62.27" height="31.21" fill="#1414ff"/><rect x="424.72" y="790.32" width="62.27" height="31.21" fill="#0a0aff"/><rect x="486.79" y="790.32" width="62.27" height="31.21" fill="#0404ff"/><rect x="548.86" y="790.32" width="62.27" height="31.21" fill="#0202ff"/><rect x="610.93" y="790.32" width="62.07" height="31.21" fill="#0000ff"/><rect x="52.3" y="821.33" width="62.27" height="31.21" fill="#5858ff"/><rect x="114.37" y="821.33" width="62.27" height="31.21" fill="#0e0eff"/><rect x="176.44" y="821.33" width="62.27" height="31.21" fill="#1616ff"/><rect x="238.51" y="821.33" width="62.27" height="31.21" fill="#2020ff"/><rect x="300.58" y="821.33" width="62.27" height="31.21" fill="#1e1eff"/><rect x="362.65" y="821.33" width="62.27" height="31.21" fill="#1616ff"/><rect x="424.72" y="821.33" width="62.27" height="31.21" fill="#0e0eff"/><rect x="486.79" y="821.33" width="62.27" height="31.21" fill="#0c0cff"/><rect x="548.86" y="821.33" width="62.27" height="31.21" fill="#0c0cff"/><rect x="610.93" y="821.33" width="62.07" height="31.21" fill="#2e2eff"/><rect x="52.3" y="852.34" width="62.27" height="31.21" fill="#7c7cff"/><rect x="114.37" y="852.34" width="62.27" height="31.21" fill="#1010ff"/><rect x="176.44" y="852.34" width="62.27" height="31.21" fill="#1414ff"/><rect x="238.51" y="852.34" width="62.27" height="31.21" fill="#1818ff"/><rect x="300.58" y="852.34" width="62.27" height="31.21" fill="#1818ff"/><rect x="362.65" y="852.34" width="62.27" height="31.21" fill="#1616ff"/><rect x="424.72" y="852.34" width="62.27" height="31.21" fill="#1616ff"/><rect x="486.79" y="852.34" width="62.27" height="31.21" fill="#1414ff"/><rect x="548.86" y="852.34" width="62.27" height="31.21" fill="#1414ff"/><rect x="610.93" y="852.34" width="62.07" height="31.21" fill="#4646ff"/><rect x="52.3" y="883.35" width="62.27" height="31.21" fill="#9e9eff"/><rect x="114.37" y="883.35" width="62.27" height="31.21" fill="#1c1cff"/><rect x="176.44" y="883.35" width="62.27" height="31.21" fill="#1c1cff"/><rect x="238.51" y="883.35" width="62.27" height="31.21" fill="#1c1cff"/><rect x="300.58" y="883.35" width="62.27" height="31.21" fill="#1e1eff"/><rect x="362.65" y="883.35" width="62.27" height="31.21" fill="#1e1eff"/><rect x="424.72" y="883.35" width="62.27" height="31.21" fill="#1e1eff"/><rect x="486.79" y="883.35" width="62.27" height="31.21" fill="#1c1cff"/><rect x="548.86" y="883.35" width="62.27" height="31.21" fill="#2222ff"/><rect x="610.93" y="883.35" width="62.07" height="31.21" fill="#8e8eff"/><rect x="52.3" y="914.36" width="62.27" height="31.21" fill="#c2c2ff"/><rect x="114.37" y="914.36" width="62.27" height="31.21" fill="#2e2eff"/><rect x="176.44" y="914.36" width="62.27" height="31.21" fill="#2e2eff"/><rect x="238.51" y="914.36" width="62.27" height="31.21" fill="#3030ff"/><rect x="300.58" y="914.36" width="62.27" height="31.21" fill="#3030ff"/><rect x="362.65" y="914.36" width="62.27" height="31.21" fill="#3030ff"/><rect x="424.72" y="914.36" width="62.27" height="31.21" fill="#3030ff"/><rect x="486.79" y="914.36" width="62.27" height="31.21" fill="#3030ff"/><rect x="548.86" y="914.36" width="62.27" height="31.21" fill="#3434ff"/><rect x="610.93" y="914.36" width="62.07" height="31.21" fill="#fffafa"/><rect x="52.3" y="945.37" width="62.27" height="31.21" fill="#eaeaff"/><rect x="114.37" y="945.37" width="62.27" height="31.21" fill="#5050ff"/><rect x="176.44" y="945.37" width="62.27" height="31.21" fill="#5656ff"/><rect x="238.51" y="945.37" width="62.27" height="31.21" fill="#5858ff"/><rect x="300.58" y="945.37" width="62.27" height="31.21" fill="#5c5cff"/><rect x="362.65" y="945.37" width="62.27" height="31.21" fill="#6060ff"/><rect x="424.72" y="945.37" width="62.27" height="31.21" fill="#6060ff"/><rect x="486.79" y="945.37" width="62.27" height="31.21" fill="#6060ff"/><rect x="548.86" y="945.37" width="62.27" height="31.21" fill="#6e6eff"/><rect x="610.93" y="945.37" width="62.07" height="31.21" fill="#ff8a8a"/><rect x="52.3" y="976.38" width="62.27" height="31.21" fill="#fff8f8"/><rect x="114.37" y="976.38" width="62.27" height="31.21" fill="#7c7cff"/><rect x="176.44" y="976.38" width="62.27" height="31.21" fill="#8c8cff"/><rect x="238.51" y="976.38" width="62.27" height="31.21" fill="#9c9cff"/><rect x="300.58" y="976.38" width="62.27" height="31.21" fill="#a6a6ff"/><rect x="362.65" y="976.38" width="62.27" height="31.21" fill="#b2b2ff"/><rect x="424.72" y="976.38" width="62.27" height="31.21" fill="#bcbcff"/><rect x="486.79" y="976.38" width="62.27" height="31.21" fill="#c4c4ff"/><rect x="548.86" y="976.38" width="62.27" height="31.21" fill="#d8d8ff"/><rect x="610.93" y="976.38" width="62.07" height="31.21" fill="#ff0000"/><rect x="52.3" y="1007.39" width="62.27" height="31.01" fill="#ffecec"/><rect x="114.37" y="1007.39" width="62.27" height="31.01" fill="#8e8eff"/><rect x="176.44" y="1007.39" width="62.27" height="31.01" fill="#a6a6ff"/><rect x="238.51" y="1007.39" width="62.27" height="31.01" fill="#c0c0ff"/><rect x="300.58" y="1007.39" width="62.27" height="31.01" fill="#d6d6ff"/><rect x="362.65" y="1007.39" width="62.27" height="31.01" fill="#f2f2ff"/><rect x="424.72" y="1007.39" width="62.27" height="31.01" fill="#fffcfc"/><rect x="486.79" y="1007.39" width="62.27" height="31.01" fill="#fff4f4"/><rect x="548.86" y="1007.39" width="62.27" height="31.01" fill="#ffe8e8"/><rect x="610.93" y="1007.39" width="62.07" height="31.01" fill="#ff0202"/></g>
<g class="a"><text x="83.33" y="748.4" class="w"><tspan dy="-0.5">−</tspan><tspan dy="0.5">0.89</tspan></text><text x="145.41" y="748.4" class="w"><tspan dy="-0.5">−</tspan><tspan dy="0.5">0.98</tspan></text><text x="207.48" y="748.4" class="w"><tspan dy="-0.5">−</tspan><tspan dy="0.5">0.98</tspan></text><text x="269.55" y="748.4" class="w"><tspan dy="-0.5">−</tspan><tspan dy="0.5">0.94</tspan></text><text x="331.62" y="748.4" class="w"><tspan dy="-0.5">−</tspan><tspan dy="0.5">0.93</tspan></text><text x="393.69" y="748.4" class="w"><tspan dy="-0.5">−</tspan><tspan dy="0.5">0.96</tspan></text><text x="455.75" y="748.4" class="w"><tspan dy="-0.5">−</tspan><tspan dy="0.5">0.98</tspan></text><text x="517.82" y="748.4" class="w"><tspan dy="-0.5">−</tspan><tspan dy="0.5">1.00</tspan></text><text x="579.89" y="748.4" class="w"><tspan dy="-0.5">−</tspan><tspan dy="0.5">1.00</tspan></text><text x="641.96" y="748.4" class="w"><tspan dy="-0.5">−</tspan><tspan dy="0.5">1.00</tspan></text><text x="83.33" y="779.41" class="w"><tspan dy="-0.5">−</tspan><tspan dy="0.5">0.86</tspan></text><text x="145.41" y="779.41" class="w"><tspan dy="-0.5">−</tspan><tspan dy="0.5">0.98</tspan></text><text x="207.48" y="779.41" class="w"><tspan dy="-0.5">−</tspan><tspan dy="0.5">0.95</tspan></text><text x="269.55" y="779.41" class="w"><tspan dy="-0.5">−</tspan><tspan dy="0.5">0.89</tspan></text><text x="331.62" y="779.41" class="w"><tspan dy="-0.5">−</tspan><tspan dy="0.5">0.88</tspan></text><text x="393.69" y="779.41" class="w"><tspan dy="-0.5">−</tspan><tspan dy="0.5">0.95</tspan></text><text x="455.75" y="779.41" class="w"><tspan dy="-0.5">−</tspan><tspan dy="0.5">0.98</tspan></text><text x="517.82" y="779.41" class="w"><tspan dy="-0.5">−</tspan><tspan dy="0.5">1.00</tspan></text><text x="579.89" y="779.41" class="w"><tspan dy="-0.5">−</tspan><tspan dy="0.5">1.00</tspan></text><text x="641.96" y="779.41" class="w"><tspan dy="-0.5">−</tspan><tspan dy="0.5">1.00</tspan></text><text x="83.33" y="810.42" class="w"><tspan dy="-0.5">−</tspan><tspan dy="0.5">0.78</tspan></text><text x="145.41" y="810.42" class="w"><tspan dy="-0.5">−</tspan><tspan dy="0.5">0.95</tspan></text><text x="207.48" y="810.42" class="w"><tspan dy="-0.5">−</tspan><tspan dy="0.5">0.92</tspan></text><text x="269.55" y="810.42" class="w"><tspan dy="-0.5">−</tspan><tspan dy="0.5">0.86</tspan></text><text x="331.62" y="810.42" class="w"><tspan dy="-0.5">−</tspan><tspan dy="0.5">0.87</tspan></text><text x="393.69" y="810.42" class="w"><tspan dy="-0.5">−</tspan><tspan dy="0.5">0.92</tspan></text><text x="455.75" y="810.42" class="w"><tspan dy="-0.5">−</tspan><tspan dy="0.5">0.96</tspan></text><text x="517.82" y="810.42" class="w"><tspan dy="-0.5">−</tspan><tspan dy="0.5">0.98</tspan></text><text x="579.89" y="810.42" class="w"><tspan dy="-0.5">−</tspan><tspan dy="0.5">0.99</tspan></text><text x="641.96" y="810.42" class="w"><tspan dy="-0.5">−</tspan><tspan dy="0.5">1.00</tspan></text><text x="83.33" y="841.43" class="w"><tspan dy="-0.5">−</tspan><tspan dy="0.5">0.65</tspan></text><text x="145.41" y="841.43" class="w"><tspan dy="-0.5">−</tspan><tspan dy="0.5">0.94</tspan></text><text x="207.48" y="841.43" class="w"><tspan dy="-0.5">−</tspan><tspan dy="0.5">0.91</tspan></text><text x="269.55" y="841.43" class="w"><tspan dy="-0.5">−</tspan><tspan dy="0.5">0.87</tspan></text><text x="331.62" y="841.43" class="w"><tspan dy="-0.5">−</tspan><tspan dy="0.5">0.88</tspan></text><text x="393.69" y="841.43" class="w"><tspan dy="-0.5">−</tspan><tspan dy="0.5">0.91</tspan></text><text x="455.75" y="841.43" class="w"><tspan dy="-0.5">−</tspan><tspan dy="0.5">0.94</tspan></text><text x="517.82" y="841.43" class="w"><tspan dy="-0.5">−</tspan><tspan dy="0.5">0.95</tspan></text><text x="579.89" y="841.43" class="w"><tspan dy="-0.5">−</tspan><tspan dy="0.5">0.95</tspan></text><text x="641.96" y="841.43" class="w"><tspan dy="-0.5">−</tspan><tspan dy="0.5">0.82</tspan></text><text x="83.33" y="872.45" class="w"><tspan dy="-0.5">−</tspan><tspan dy="0.5">0.51</tspan></text><text x="145.41" y="872.45" class="w"><tspan dy="-0.5">−</tspan><tspan dy="0.5">0.93</tspan></text><text x="207.48" y="872.45" class="w"><tspan dy="-0.5">−</tspan><tspan dy="0.5">0.92</tspan></text><text x="269.55" y="872.45" class="w"><tspan dy="-0.5">−</tspan><tspan dy="0.5">0.90</tspan></text><text x="331.62" y="872.45" class="w"><tspan dy="-0.5">−</tspan><tspan dy="0.5">0.90</tspan></text><text x="393.69" y="872.45" class="w"><tspan dy="-0.5">−</tspan><tspan dy="0.5">0.91</tspan></text><text x="455.75" y="872.45" class="w"><tspan dy="-0.5">−</tspan><tspan dy="0.5">0.91</tspan></text><text x="517.82" y="872.45" class="w"><tspan dy="-0.5">−</tspan><tspan dy="0.5">0.92</tspan></text><text x="579.89" y="872.45" class="w"><tspan dy="-0.5">−</tspan><tspan dy="0.5">0.92</tspan></text><text x="641.96" y="872.45" class="w"><tspan dy="-0.5">−</tspan><tspan dy="0.5">0.72</tspan></text><text x="83.33" y="903.46"><tspan dy="-0.5">−</tspan><tspan dy="0.5">0.38</tspan></text><text x="145.41" y="903.46" class="w"><tspan dy="-0.5">−</tspan><tspan dy="0.5">0.89</tspan></text><text x="207.48" y="903.46" class="w"><tspan dy="-0.5">−</tspan><tspan dy="0.5">0.89</tspan></text><text x="269.55" y="903.46" class="w"><tspan dy="-0.5">−</tspan><tspan dy="0.5">0.89</tspan></text><text x="331.62" y="903.46" class="w"><tspan dy="-0.5">−</tspan><tspan dy="0.5">0.88</tspan></text><text x="393.69" y="903.46" class="w"><tspan dy="-0.5">−</tspan><tspan dy="0.5">0.88</tspan></text><text x="455.75" y="903.46" class="w"><tspan dy="-0.5">−</tspan><tspan dy="0.5">0.88</tspan></text><text x="517.82" y="903.46" class="w"><tspan dy="-0.5">−</tspan><tspan dy="0.5">0.89</tspan></text><text x="579.89" y="903.46" class="w"><tspan dy="-0.5">−</tspan><tspan dy="0.5">0.86</tspan></text><text x="641.96" y="903.46" class="w"><tspan dy="-0.5">−</tspan><tspan dy="0.5">0.44</tspan></text><text x="83.33" y="934.47"><tspan dy="-0.5">−</tspan><tspan dy="0.5">0.24</tspan></text><text x="145.41" y="934.47" class="w"><tspan dy="-0.5">−</tspan><tspan dy="0.5">0.82</tspan></text><text x="207.48" y="934.47" class="w"><tspan dy="-0.5">−</tspan><tspan dy="0.5">0.82</tspan></text><text x="269.55" y="934.47" class="w"><tspan dy="-0.5">−</tspan><tspan dy="0.5">0.81</tspan></text><text x="331.62" y="934.47" class="w"><tspan dy="-0.5">−</tspan><tspan dy="0.5">0.81</tspan></text><text x="393.69" y="934.47" class="w"><tspan dy="-0.5">−</tspan><tspan dy="0.5">0.81</tspan></text><text x="455.75" y="934.47" class="w"><tspan dy="-0.5">−</tspan><tspan dy="0.5">0.81</tspan></text><text x="517.82" y="934.47" class="w"><tspan dy="-0.5">−</tspan><tspan dy="0.5">0.81</tspan></text><text x="579.89" y="934.47" class="w"><tspan dy="-0.5">−</tspan><tspan dy="0.5">0.79</tspan></text><text x="641.96" y="934.47"><tspan dy="0">+</tspan><tspan dy="0">0.07</tspan></text><text x="83.33" y="965.48"><tspan dy="-0.5">−</tspan><tspan dy="0.5">0.08</tspan></text><text x="145.41" y="965.48" class="w"><tspan dy="-0.5">−</tspan><tspan dy="0.5">0.68</tspan></text><text x="207.48" y="965.48" class="w"><tspan dy="-0.5">−</tspan><tspan dy="0.5">0.66</tspan></text><text x="269.55" y="965.48" class="w"><tspan dy="-0.5">−</tspan><tspan dy="0.5">0.65</tspan></text><text x="331.62" y="965.48" class="w"><tspan dy="-0.5">−</tspan><tspan dy="0.5">0.64</tspan></text><text x="393.69" y="965.48" class="w"><tspan dy="-0.5">−</tspan><tspan dy="0.5">0.62</tspan></text><text x="455.75" y="965.48" class="w"><tspan dy="-0.5">−</tspan><tspan dy="0.5">0.62</tspan></text><text x="517.82" y="965.48" class="w"><tspan dy="-0.5">−</tspan><tspan dy="0.5">0.62</tspan></text><text x="579.89" y="965.48" class="w"><tspan dy="-0.5">−</tspan><tspan dy="0.5">0.57</tspan></text><text x="641.96" y="965.48"><tspan dy="0">+</tspan><tspan dy="0">1.84</tspan></text><text x="83.33" y="996.49"><tspan dy="0">+</tspan><tspan dy="0">0.11</tspan></text><text x="145.41" y="996.49" class="w"><tspan dy="-0.5">−</tspan><tspan dy="0.5">0.51</tspan></text><text x="207.48" y="996.49" class="w"><tspan dy="-0.5">−</tspan><tspan dy="0.5">0.45</tspan></text><text x="269.55" y="996.49"><tspan dy="-0.5">−</tspan><tspan dy="0.5">0.39</tspan></text><text x="331.62" y="996.49"><tspan dy="-0.5">−</tspan><tspan dy="0.5">0.35</tspan></text><text x="393.69" y="996.49"><tspan dy="-0.5">−</tspan><tspan dy="0.5">0.30</tspan></text><text x="455.75" y="996.49"><tspan dy="-0.5">−</tspan><tspan dy="0.5">0.26</tspan></text><text x="517.82" y="996.49"><tspan dy="-0.5">−</tspan><tspan dy="0.5">0.23</tspan></text><text x="579.89" y="996.49"><tspan dy="-0.5">−</tspan><tspan dy="0.5">0.15</tspan></text><text x="641.96" y="996.49"><tspan dy="0">+</tspan><tspan dy="0">4.15</tspan></text><text x="83.33" y="1027.49"><tspan dy="0">+</tspan><tspan dy="0">0.29</tspan></text><text x="145.41" y="1027.49" class="w"><tspan dy="-0.5">−</tspan><tspan dy="0.5">0.44</tspan></text><text x="207.48" y="1027.49"><tspan dy="-0.5">−</tspan><tspan dy="0.5">0.35</tspan></text><text x="269.55" y="1027.49"><tspan dy="-0.5">−</tspan><tspan dy="0.5">0.25</tspan></text><text x="331.62" y="1027.49"><tspan dy="-0.5">−</tspan><tspan dy="0.5">0.16</tspan></text><text x="393.69" y="1027.49"><tspan dy="-0.5">−</tspan><tspan dy="0.5">0.05</tspan></text><text x="455.75" y="1027.49"><tspan dy="0">+</tspan><tspan dy="0">0.06</tspan></text><text x="517.82" y="1027.49"><tspan dy="0">+</tspan><tspan dy="0">0.18</tspan></text><text x="579.89" y="1027.49"><tspan dy="0">+</tspan><tspan dy="0">0.37</tspan></text><text x="641.96" y="1027.49"><tspan dy="0">+</tspan><tspan dy="0">3.95</tspan></text></g>
<text class="t" x="362.65" y="722.5">FunifP</text>
<path d="M48.8 743.8h3.5M48.8 774.81h3.5M48.8 805.82h3.5M48.8 836.83h3.5M48.8 867.85h3.5M48.8 898.86h3.5M48.8 929.87h3.5M48.8 960.88h3.5M48.8 991.88h3.5M48.8 1022.89h3.5M83.33 1038.4v4M145.41 1038.4v4M207.48 1038.4v4M269.55 1038.4v4M331.62 1038.4v4M393.69 1038.4v4M455.75 1038.4v4M517.82 1038.4v4M579.89 1038.4v4M641.96 1038.4v4" stroke="#000" stroke-width="1" fill="none"/>
<text class="k" text-anchor="middle" transform="translate(43.3 743.8) rotate(-90)">0</text>
<text class="k" text-anchor="middle" transform="translate(43.3 774.81) rotate(-90)">1</text>
<text class="k" text-anchor="middle" transform="translate(43.3 805.82) rotate(-90)">2</text>
<text class="k" text-anchor="middle" transform="translate(43.3 836.83) rotate(-90)">3</text>
<text class="k" text-anchor="middle" transform="translate(43.3 867.85) rotate(-90)">4</text>
<text class="k" text-anchor="middle" transform="translate(43.3 898.86) rotate(-90)">5</text>
<text class="k" text-anchor="middle" transform="translate(43.3 929.87) rotate(-90)">6</text>
<text class="k" text-anchor="middle" transform="translate(43.3 960.88) rotate(-90)">7</text>
<text class="k" text-anchor="middle" transform="translate(43.3 991.88) rotate(-90)">8</text>
<text class="k" text-anchor="middle" transform="translate(43.3 1022.89) rotate(-90)">9</text>
<text class="k" text-anchor="middle" x="83.33" y="1054.4">0</text>
<text class="k" text-anchor="middle" x="145.41" y="1054.4">1</text>
<text class="k" text-anchor="middle" x="207.48" y="1054.4">2</text>
<text class="k" text-anchor="middle" x="269.55" y="1054.4">3</text>
<text class="k" text-anchor="middle" x="331.62" y="1054.4">4</text>
<text class="k" text-anchor="middle" x="393.69" y="1054.4">5</text>
<text class="k" text-anchor="middle" x="455.75" y="1054.4">6</text>
<text class="k" text-anchor="middle" x="517.82" y="1054.4">7</text>
<text class="k" text-anchor="middle" x="579.89" y="1054.4">8</text>
<text class="k" text-anchor="middle" x="641.96" y="1054.4">9</text>
<g shape-rendering="auto"><rect x="719.9" y="728.3" width="62.27" height="31.21" fill="#ffd6d6"/><rect x="781.97" y="728.3" width="62.27" height="31.21" fill="#ff9e9e"/><rect x="844.04" y="728.3" width="62.27" height="31.21" fill="#ffbebe"/><rect x="906.11" y="728.3" width="62.27" height="31.21" fill="#ffd0d0"/><rect x="968.18" y="728.3" width="62.27" height="31.21" fill="#ffd4d4"/><rect x="1030.25" y="728.3" width="62.27" height="31.21" fill="#ffe4e4"/><rect x="1092.32" y="728.3" width="62.27" height="31.21" fill="#ffe2e2"/><rect x="1154.39" y="728.3" width="62.27" height="31.21" fill="#ffeaea"/><rect x="1216.46" y="728.3" width="62.27" height="31.21" fill="#ffe2e2"/><rect x="1278.53" y="728.3" width="62.07" height="31.21" fill="#ff0000"/><rect x="719.9" y="759.31" width="62.27" height="31.21" fill="#ffb6b6"/><rect x="781.97" y="759.31" width="62.27" height="31.21" fill="#ffbebe"/><rect x="844.04" y="759.31" width="62.27" height="31.21" fill="#ffd6d6"/><rect x="906.11" y="759.31" width="62.27" height="31.21" fill="#ffe4e4"/><rect x="968.18" y="759.31" width="62.27" height="31.21" fill="#ffeaea"/><rect x="1030.25" y="759.31" width="62.27" height="31.21" fill="#fff0f0"/><rect x="1092.32" y="759.31" width="62.27" height="31.21" fill="#fff0f0"/><rect x="1154.39" y="759.31" width="62.27" height="31.21" fill="#fff8f8"/><rect x="1216.46" y="759.31" width="62.27" height="31.21" fill="#fff6f6"/><rect x="1278.53" y="759.31" width="62.07" height="31.21" fill="#ff3838"/><rect x="719.9" y="790.32" width="62.27" height="31.21" fill="#ffbaba"/><rect x="781.97" y="790.32" width="62.27" height="31.21" fill="#ffe6e6"/><rect x="844.04" y="790.32" width="62.27" height="31.21" fill="#fff4f4"/><rect x="906.11" y="790.32" width="62.27" height="31.21" fill="#fffcfc"/><rect x="968.18" y="790.32" width="62.27" height="31.21" fill="#eeeeff"/><rect x="1030.25" y="790.32" width="62.27" height="31.21" fill="#eaeaff"/><rect x="1092.32" y="790.32" width="62.27" height="31.21" fill="#f0f0ff"/><rect x="1154.39" y="790.32" width="62.27" height="31.21" fill="#d6d6ff"/><rect x="1216.46" y="790.32" width="62.27" height="31.21" fill="#e6e6ff"/><rect x="1278.53" y="790.32" width="62.07" height="31.21" fill="#ff0000"/><rect x="719.9" y="821.33" width="62.27" height="31.21" fill="#ffcaca"/><rect x="781.97" y="821.33" width="62.27" height="31.21" fill="#ffe8e8"/><rect x="844.04" y="821.33" width="62.27" height="31.21" fill="#fff2f2"/><rect x="906.11" y="821.33" width="62.27" height="31.21" fill="#fffafa"/><rect x="968.18" y="821.33" width="62.27" height="31.21" fill="#f8f8ff"/><rect x="1030.25" y="821.33" width="62.27" height="31.21" fill="#e6e6ff"/><rect x="1092.32" y="821.33" width="62.27" height="31.21" fill="#e6e6ff"/><rect x="1154.39" y="821.33" width="62.27" height="31.21" fill="#d0d0ff"/><rect x="1216.46" y="821.33" width="62.27" height="31.21" fill="#d6d6ff"/><rect x="1278.53" y="821.33" width="62.07" height="31.21" fill="#ff0202"/><rect x="719.9" y="852.34" width="62.27" height="31.21" fill="#ffcece"/><rect x="781.97" y="852.34" width="62.27" height="31.21" fill="#ffe0e0"/><rect x="844.04" y="852.34" width="62.27" height="31.21" fill="#ffecec"/><rect x="906.11" y="852.34" width="62.27" height="31.21" fill="#fff2f2"/><rect x="968.18" y="852.34" width="62.27" height="31.21" fill="#fffafa"/><rect x="1030.25" y="852.34" width="62.27" height="31.21" fill="#fffefe"/><rect x="1092.32" y="852.34" width="62.27" height="31.21" fill="#f0f0ff"/><rect x="1154.39" y="852.34" width="62.27" height="31.21" fill="#d6d6ff"/><rect x="1216.46" y="852.34" width="62.27" height="31.21" fill="#d8d8ff"/><rect x="1278.53" y="852.34" width="62.07" height="31.21" fill="#ff2424"/><rect x="719.9" y="883.35" width="62.27" height="31.21" fill="#ffd0d0"/><rect x="781.97" y="883.35" width="62.27" height="31.21" fill="#ffdede"/><rect x="844.04" y="883.35" width="62.27" height="31.21" fill="#ffeaea"/><rect x="906.11" y="883.35" width="62.27" height="31.21" fill="#fff0f0"/><rect x="968.18" y="883.35" width="62.27" height="31.21" fill="#fff6f6"/><rect x="1030.25" y="883.35" width="62.27" height="31.21" fill="#fffcfc"/><rect x="1092.32" y="883.35" width="62.27" height="31.21" fill="#fcfcff"/><rect x="1154.39" y="883.35" width="62.27" height="31.21" fill="#e2e2ff"/><rect x="1216.46" y="883.35" width="62.27" height="31.21" fill="#dcdcff"/><rect x="1278.53" y="883.35" width="62.07" height="31.21" fill="#ff0606"/><rect x="719.9" y="914.36" width="62.27" height="31.21" fill="#ffd8d8"/><rect x="781.97" y="914.36" width="62.27" height="31.21" fill="#ffe4e4"/><rect x="844.04" y="914.36" width="62.27" height="31.21" fill="#fff0f0"/><rect x="906.11" y="914.36" width="62.27" height="31.21" fill="#fff6f6"/><rect x="968.18" y="914.36" width="62.27" height="31.21" fill="#fffafa"/><rect x="1030.25" y="914.36" width="62.27" height="31.21" fill="#fffefe"/><rect x="1092.32" y="914.36" width="62.27" height="31.21" fill="#f2f2ff"/><rect x="1154.39" y="914.36" width="62.27" height="31.21" fill="#d8d8ff"/><rect x="1216.46" y="914.36" width="62.27" height="31.21" fill="#dcdcff"/><rect x="1278.53" y="914.36" width="62.07" height="31.21" fill="#ff0808"/><rect x="719.9" y="945.37" width="62.27" height="31.21" fill="#ffe4e4"/><rect x="781.97" y="945.37" width="62.27" height="31.21" fill="#ffeeee"/><rect x="844.04" y="945.37" width="62.27" height="31.21" fill="#fff8f8"/><rect x="906.11" y="945.37" width="62.27" height="31.21" fill="#fffefe"/><rect x="968.18" y="945.37" width="62.27" height="31.21" fill="#f2f2ff"/><rect x="1030.25" y="945.37" width="62.27" height="31.21" fill="#e2e2ff"/><rect x="1092.32" y="945.37" width="62.27" height="31.21" fill="#ceceff"/><rect x="1154.39" y="945.37" width="62.27" height="31.21" fill="#bcbcff"/><rect x="1216.46" y="945.37" width="62.27" height="31.21" fill="#b4b4ff"/><rect x="1278.53" y="945.37" width="62.07" height="31.21" fill="#ff1212"/><rect x="719.9" y="976.38" width="62.27" height="31.21" fill="#fff2f2"/><rect x="781.97" y="976.38" width="62.27" height="31.21" fill="#fff0f0"/><rect x="844.04" y="976.38" width="62.27" height="31.21" fill="#fffcfc"/><rect x="906.11" y="976.38" width="62.27" height="31.21" fill="#f0f0ff"/><rect x="968.18" y="976.38" width="62.27" height="31.21" fill="#dcdcff"/><rect x="1030.25" y="976.38" width="62.27" height="31.21" fill="#cacaff"/><rect x="1092.32" y="976.38" width="62.27" height="31.21" fill="#babaff"/><rect x="1154.39" y="976.38" width="62.27" height="31.21" fill="#a2a2ff"/><rect x="1216.46" y="976.38" width="62.27" height="31.21" fill="#9696ff"/><rect x="1278.53" y="976.38" width="62.07" height="31.21" fill="#ff9494"/><rect x="719.9" y="1007.39" width="62.27" height="31.01" fill="#babaff"/><rect x="781.97" y="1007.39" width="62.27" height="31.01" fill="#fff8f8"/><rect x="844.04" y="1007.39" width="62.27" height="31.01" fill="#fffefe"/><rect x="906.11" y="1007.39" width="62.27" height="31.01" fill="#fffefe"/><rect x="968.18" y="1007.39" width="62.27" height="31.01" fill="#fcfcff"/><rect x="1030.25" y="1007.39" width="62.27" height="31.01" fill="#fafaff"/><rect x="1092.32" y="1007.39" width="62.27" height="31.01" fill="#f4f4ff"/><rect x="1154.39" y="1007.39" width="62.27" height="31.01" fill="#f0f0ff"/><rect x="1216.46" y="1007.39" width="62.27" height="31.01" fill="#eaeaff"/><rect x="1278.53" y="1007.39" width="62.07" height="31.01" fill="#ffa6a6"/></g>
<g class="a"><text x="750.93" y="748.4"><tspan dy="0">+</tspan><tspan dy="0">0.64</tspan></text><text x="813" y="748.4"><tspan dy="0">+</tspan><tspan dy="0">1.52</tspan></text><text x="875.08" y="748.4"><tspan dy="0">+</tspan><tspan dy="0">1.00</tspan></text><text x="937.14" y="748.4"><tspan dy="0">+</tspan><tspan dy="0">0.73</tspan></text><text x="999.21" y="748.4"><tspan dy="0">+</tspan><tspan dy="0">0.66</tspan></text><text x="1061.28" y="748.4"><tspan dy="0">+</tspan><tspan dy="0">0.42</tspan></text><text x="1123.36" y="748.4"><tspan dy="0">+</tspan><tspan dy="0">0.45</tspan></text><text x="1185.42" y="748.4"><tspan dy="0">+</tspan><tspan dy="0">0.33</tspan></text><text x="1247.49" y="748.4"><tspan dy="0">+</tspan><tspan dy="0">0.44</tspan></text><text x="1309.57" y="748.4"><tspan dy="0">+</tspan><tspan dy="0">5.31</tspan></text><text x="750.93" y="779.41"><tspan dy="0">+</tspan><tspan dy="0">1.15</tspan></text><text x="813" y="779.41"><tspan dy="0">+</tspan><tspan dy="0">1.02</tspan></text><text x="875.08" y="779.41"><tspan dy="0">+</tspan><tspan dy="0">0.63</tspan></text><text x="937.14" y="779.41"><tspan dy="0">+</tspan><tspan dy="0">0.41</tspan></text><text x="999.21" y="779.41"><tspan dy="0">+</tspan><tspan dy="0">0.33</tspan></text><text x="1061.28" y="779.41"><tspan dy="0">+</tspan><tspan dy="0">0.24</tspan></text><text x="1123.36" y="779.41"><tspan dy="0">+</tspan><tspan dy="0">0.24</tspan></text><text x="1185.42" y="779.41"><tspan dy="0">+</tspan><tspan dy="0">0.11</tspan></text><text x="1247.49" y="779.41"><tspan dy="0">+</tspan><tspan dy="0">0.13</tspan></text><text x="1309.57" y="779.41"><tspan dy="0">+</tspan><tspan dy="0">3.12</tspan></text><text x="750.93" y="810.42"><tspan dy="0">+</tspan><tspan dy="0">1.07</tspan></text><text x="813" y="810.42"><tspan dy="0">+</tspan><tspan dy="0">0.40</tspan></text><text x="875.08" y="810.42"><tspan dy="0">+</tspan><tspan dy="0">0.16</tspan></text><text x="937.14" y="810.42"><tspan dy="0">+</tspan><tspan dy="0">0.04</tspan></text><text x="999.21" y="810.42"><tspan dy="-0.5">−</tspan><tspan dy="0.5">0.07</tspan></text><text x="1061.28" y="810.42"><tspan dy="-0.5">−</tspan><tspan dy="0.5">0.08</tspan></text><text x="1123.36" y="810.42"><tspan dy="-0.5">−</tspan><tspan dy="0.5">0.06</tspan></text><text x="1185.42" y="810.42"><tspan dy="-0.5">−</tspan><tspan dy="0.5">0.16</tspan></text><text x="1247.49" y="810.42"><tspan dy="-0.5">−</tspan><tspan dy="0.5">0.10</tspan></text><text x="1309.57" y="810.42"><tspan dy="0">+</tspan><tspan dy="0">4.42</tspan></text><text x="750.93" y="841.43"><tspan dy="0">+</tspan><tspan dy="0">0.83</tspan></text><text x="813" y="841.43"><tspan dy="0">+</tspan><tspan dy="0">0.37</tspan></text><text x="875.08" y="841.43"><tspan dy="0">+</tspan><tspan dy="0">0.20</tspan></text><text x="937.14" y="841.43"><tspan dy="0">+</tspan><tspan dy="0">0.08</tspan></text><text x="999.21" y="841.43"><tspan dy="-0.5">−</tspan><tspan dy="0.5">0.03</tspan></text><text x="1061.28" y="841.43"><tspan dy="-0.5">−</tspan><tspan dy="0.5">0.10</tspan></text><text x="1123.36" y="841.43"><tspan dy="-0.5">−</tspan><tspan dy="0.5">0.10</tspan></text><text x="1185.42" y="841.43"><tspan dy="-0.5">−</tspan><tspan dy="0.5">0.18</tspan></text><text x="1247.49" y="841.43"><tspan dy="-0.5">−</tspan><tspan dy="0.5">0.16</tspan></text><text x="1309.57" y="841.43"><tspan dy="0">+</tspan><tspan dy="0">3.95</tspan></text><text x="750.93" y="872.45"><tspan dy="0">+</tspan><tspan dy="0">0.77</tspan></text><text x="813" y="872.45"><tspan dy="0">+</tspan><tspan dy="0">0.49</tspan></text><text x="875.08" y="872.45"><tspan dy="0">+</tspan><tspan dy="0">0.30</tspan></text><text x="937.14" y="872.45"><tspan dy="0">+</tspan><tspan dy="0">0.19</tspan></text><text x="999.21" y="872.45"><tspan dy="0">+</tspan><tspan dy="0">0.08</tspan></text><text x="1061.28" y="872.45"><tspan dy="0">+</tspan><tspan dy="0">0.01</tspan></text><text x="1123.36" y="872.45"><tspan dy="-0.5">−</tspan><tspan dy="0.5">0.06</tspan></text><text x="1185.42" y="872.45"><tspan dy="-0.5">−</tspan><tspan dy="0.5">0.16</tspan></text><text x="1247.49" y="872.45"><tspan dy="-0.5">−</tspan><tspan dy="0.5">0.15</tspan></text><text x="1309.57" y="872.45"><tspan dy="0">+</tspan><tspan dy="0">3.41</tspan></text><text x="750.93" y="903.46"><tspan dy="0">+</tspan><tspan dy="0">0.73</tspan></text><text x="813" y="903.46"><tspan dy="0">+</tspan><tspan dy="0">0.51</tspan></text><text x="875.08" y="903.46"><tspan dy="0">+</tspan><tspan dy="0">0.33</tspan></text><text x="937.14" y="903.46"><tspan dy="0">+</tspan><tspan dy="0">0.23</tspan></text><text x="999.21" y="903.46"><tspan dy="0">+</tspan><tspan dy="0">0.14</tspan></text><text x="1061.28" y="903.46"><tspan dy="0">+</tspan><tspan dy="0">0.06</tspan></text><text x="1123.36" y="903.46"><tspan dy="-0.5">−</tspan><tspan dy="0.5">0.01</tspan></text><text x="1185.42" y="903.46"><tspan dy="-0.5">−</tspan><tspan dy="0.5">0.11</tspan></text><text x="1247.49" y="903.46"><tspan dy="-0.5">−</tspan><tspan dy="0.5">0.14</tspan></text><text x="1309.57" y="903.46"><tspan dy="0">+</tspan><tspan dy="0">3.90</tspan></text><text x="750.93" y="934.47"><tspan dy="0">+</tspan><tspan dy="0">0.61</tspan></text><text x="813" y="934.47"><tspan dy="0">+</tspan><tspan dy="0">0.42</tspan></text><text x="875.08" y="934.47"><tspan dy="0">+</tspan><tspan dy="0">0.24</tspan></text><text x="937.14" y="934.47"><tspan dy="0">+</tspan><tspan dy="0">0.15</tspan></text><text x="999.21" y="934.47"><tspan dy="0">+</tspan><tspan dy="0">0.08</tspan></text><text x="1061.28" y="934.47"><tspan dy="0">+</tspan><tspan dy="0">0.02</tspan></text><text x="1123.36" y="934.47"><tspan dy="-0.5">−</tspan><tspan dy="0.5">0.05</tspan></text><text x="1185.42" y="934.47"><tspan dy="-0.5">−</tspan><tspan dy="0.5">0.15</tspan></text><text x="1247.49" y="934.47"><tspan dy="-0.5">−</tspan><tspan dy="0.5">0.14</tspan></text><text x="1309.57" y="934.47"><tspan dy="0">+</tspan><tspan dy="0">3.87</tspan></text><text x="750.93" y="965.48"><tspan dy="0">+</tspan><tspan dy="0">0.43</tspan></text><text x="813" y="965.48"><tspan dy="0">+</tspan><tspan dy="0">0.28</tspan></text><text x="875.08" y="965.48"><tspan dy="0">+</tspan><tspan dy="0">0.10</tspan></text><text x="937.14" y="965.48"><tspan dy="0">+</tspan><tspan dy="0">0.01</tspan></text><text x="999.21" y="965.48"><tspan dy="-0.5">−</tspan><tspan dy="0.5">0.05</tspan></text><text x="1061.28" y="965.48"><tspan dy="-0.5">−</tspan><tspan dy="0.5">0.11</tspan></text><text x="1123.36" y="965.48"><tspan dy="-0.5">−</tspan><tspan dy="0.5">0.19</tspan></text><text x="1185.42" y="965.48"><tspan dy="-0.5">−</tspan><tspan dy="0.5">0.26</tspan></text><text x="1247.49" y="965.48"><tspan dy="-0.5">−</tspan><tspan dy="0.5">0.29</tspan></text><text x="1309.57" y="965.48"><tspan dy="0">+</tspan><tspan dy="0">3.70</tspan></text><text x="750.93" y="996.49"><tspan dy="0">+</tspan><tspan dy="0">0.19</tspan></text><text x="813" y="996.49"><tspan dy="0">+</tspan><tspan dy="0">0.23</tspan></text><text x="875.08" y="996.49"><tspan dy="0">+</tspan><tspan dy="0">0.04</tspan></text><text x="937.14" y="996.49"><tspan dy="-0.5">−</tspan><tspan dy="0.5">0.06</tspan></text><text x="999.21" y="996.49"><tspan dy="-0.5">−</tspan><tspan dy="0.5">0.14</tspan></text><text x="1061.28" y="996.49"><tspan dy="-0.5">−</tspan><tspan dy="0.5">0.21</tspan></text><text x="1123.36" y="996.49"><tspan dy="-0.5">−</tspan><tspan dy="0.5">0.27</tspan></text><text x="1185.42" y="996.49"><tspan dy="-0.5">−</tspan><tspan dy="0.5">0.36</tspan></text><text x="1247.49" y="996.49" class="w"><tspan dy="-0.5">−</tspan><tspan dy="0.5">0.41</tspan></text><text x="1309.57" y="996.49"><tspan dy="0">+</tspan><tspan dy="0">1.68</tspan></text><text x="750.93" y="1027.49"><tspan dy="-0.5">−</tspan><tspan dy="0.5">0.27</tspan></text><text x="813" y="1027.49"><tspan dy="0">+</tspan><tspan dy="0">0.10</tspan></text><text x="875.08" y="1027.49"><tspan dy="0">+</tspan><tspan dy="0">0.03</tspan></text><text x="937.14" y="1027.49"><tspan dy="0">+</tspan><tspan dy="0">0.00</tspan></text><text x="999.21" y="1027.49"><tspan dy="-0.5">−</tspan><tspan dy="0.5">0.01</tspan></text><text x="1061.28" y="1027.49"><tspan dy="-0.5">−</tspan><tspan dy="0.5">0.02</tspan></text><text x="1123.36" y="1027.49"><tspan dy="-0.5">−</tspan><tspan dy="0.5">0.04</tspan></text><text x="1185.42" y="1027.49"><tspan dy="-0.5">−</tspan><tspan dy="0.5">0.06</tspan></text><text x="1247.49" y="1027.49"><tspan dy="-0.5">−</tspan><tspan dy="0.5">0.08</tspan></text><text x="1309.57" y="1027.49"><tspan dy="0">+</tspan><tspan dy="0">1.39</tspan></text></g>
<text class="t" x="1030.25" y="722.5">AP</text>
<path d="M716.4 743.8h3.5M716.4 774.81h3.5M716.4 805.82h3.5M716.4 836.83h3.5M716.4 867.85h3.5M716.4 898.86h3.5M716.4 929.87h3.5M716.4 960.88h3.5M716.4 991.88h3.5M716.4 1022.89h3.5M750.93 1038.4v4M813 1038.4v4M875.08 1038.4v4M937.14 1038.4v4M999.21 1038.4v4M1061.28 1038.4v4M1123.36 1038.4v4M1185.42 1038.4v4M1247.49 1038.4v4M1309.57 1038.4v4" stroke="#000" stroke-width="1" fill="none"/>
<text class="k" text-anchor="middle" x="750.93" y="1054.4">0</text>
<text class="k" text-anchor="middle" x="813" y="1054.4">1</text>
<text class="k" text-anchor="middle" x="875.08" y="1054.4">2</text>
<text class="k" text-anchor="middle" x="937.14" y="1054.4">3</text>
<text class="k" text-anchor="middle" x="999.21" y="1054.4">4</text>
<text class="k" text-anchor="middle" x="1061.28" y="1054.4">5</text>
<text class="k" text-anchor="middle" x="1123.36" y="1054.4">6</text>
<text class="k" text-anchor="middle" x="1185.42" y="1054.4">7</text>
<text class="k" text-anchor="middle" x="1247.49" y="1054.4">8</text>
<text class="k" text-anchor="middle" x="1309.57" y="1054.4">9</text>
<g shape-rendering="auto"><rect x="1387.4" y="728.3" width="62.27" height="31.21" fill="#ff0000"/><rect x="1449.47" y="728.3" width="62.27" height="31.21" fill="#ff9898"/><rect x="1511.54" y="728.3" width="62.27" height="31.21" fill="#ffb0b0"/><rect x="1573.61" y="728.3" width="62.27" height="31.21" fill="#ffbcbc"/><rect x="1635.68" y="728.3" width="62.27" height="31.21" fill="#ffb8b8"/><rect x="1697.75" y="728.3" width="62.27" height="31.21" fill="#ffaaaa"/><rect x="1759.82" y="728.3" width="62.27" height="31.21" fill="#ffa0a0"/><rect x="1821.89" y="728.3" width="62.27" height="31.21" fill="#ff9292"/><rect x="1883.96" y="728.3" width="62.27" height="31.21" fill="#ff7676"/><rect x="1946.03" y="728.3" width="62.07" height="31.21" fill="#ff9292"/><rect x="1387.4" y="759.31" width="62.27" height="31.21" fill="#ff2222"/><rect x="1449.47" y="759.31" width="62.27" height="31.21" fill="#ffcece"/><rect x="1511.54" y="759.31" width="62.27" height="31.21" fill="#ffd0d0"/><rect x="1573.61" y="759.31" width="62.27" height="31.21" fill="#ffd0d0"/><rect x="1635.68" y="759.31" width="62.27" height="31.21" fill="#ffc6c6"/><rect x="1697.75" y="759.31" width="62.27" height="31.21" fill="#ffaaaa"/><rect x="1759.82" y="759.31" width="62.27" height="31.21" fill="#ff9494"/><rect x="1821.89" y="759.31" width="62.27" height="31.21" fill="#ff7878"/><rect x="1883.96" y="759.31" width="62.27" height="31.21" fill="#ff5858"/><rect x="1946.03" y="759.31" width="62.07" height="31.21" fill="#ff0202"/><rect x="1387.4" y="790.32" width="62.27" height="31.21" fill="#ff7e7e"/><rect x="1449.47" y="790.32" width="62.27" height="31.21" fill="#ffe8e8"/><rect x="1511.54" y="790.32" width="62.27" height="31.21" fill="#ffdede"/><rect x="1573.61" y="790.32" width="62.27" height="31.21" fill="#ffdada"/><rect x="1635.68" y="790.32" width="62.27" height="31.21" fill="#ffcece"/><rect x="1697.75" y="790.32" width="62.27" height="31.21" fill="#ffb6b6"/><rect x="1759.82" y="790.32" width="62.27" height="31.21" fill="#ffacac"/><rect x="1821.89" y="790.32" width="62.27" height="31.21" fill="#ff9292"/><rect x="1883.96" y="790.32" width="62.27" height="31.21" fill="#ff7878"/><rect x="1946.03" y="790.32" width="62.07" height="31.21" fill="#ff5858"/><rect x="1387.4" y="821.33" width="62.27" height="31.21" fill="#ffb4b4"/><rect x="1449.47" y="821.33" width="62.27" height="31.21" fill="#fff4f4"/><rect x="1511.54" y="821.33" width="62.27" height="31.21" fill="#ffeaea"/><rect x="1573.61" y="821.33" width="62.27" height="31.21" fill="#ffe0e0"/><rect x="1635.68" y="821.33" width="62.27" height="31.21" fill="#ffd4d4"/><rect x="1697.75" y="821.33" width="62.27" height="31.21" fill="#ffc2c2"/><rect x="1759.82" y="821.33" width="62.27" height="31.21" fill="#ffb8b8"/><rect x="1821.89" y="821.33" width="62.27" height="31.21" fill="#ffa6a6"/><rect x="1883.96" y="821.33" width="62.27" height="31.21" fill="#ff9696"/><rect x="1946.03" y="821.33" width="62.07" height="31.21" fill="#ff4444"/><rect x="1387.4" y="852.34" width="62.27" height="31.21" fill="#ffdada"/><rect x="1449.47" y="852.34" width="62.27" height="31.21" fill="#f8f8ff"/><rect x="1511.54" y="852.34" width="62.27" height="31.21" fill="#fff6f6"/><rect x="1573.61" y="852.34" width="62.27" height="31.21" fill="#ffeaea"/><rect x="1635.68" y="852.34" width="62.27" height="31.21" fill="#ffdcdc"/><rect x="1697.75" y="852.34" width="62.27" height="31.21" fill="#ffcccc"/><rect x="1759.82" y="852.34" width="62.27" height="31.21" fill="#ffc4c4"/><rect x="1821.89" y="852.34" width="62.27" height="31.21" fill="#ffb8b8"/><rect x="1883.96" y="852.34" width="62.27" height="31.21" fill="#ffa2a2"/><rect x="1946.03" y="852.34" width="62.07" height="31.21" fill="#ff2828"/><rect x="1387.4" y="883.35" width="62.27" height="31.21" fill="#fff8f8"/><rect x="1449.47" y="883.35" width="62.27" height="31.21" fill="#b2b2ff"/><rect x="1511.54" y="883.35" width="62.27" height="31.21" fill="#e0e0ff"/><rect x="1573.61" y="883.35" width="62.27" height="31.21" fill="#fffafa"/><rect x="1635.68" y="883.35" width="62.27" height="31.21" fill="#ffeeee"/><rect x="1697.75" y="883.35" width="62.27" height="31.21" fill="#ffe0e0"/><rect x="1759.82" y="883.35" width="62.27" height="31.21" fill="#ffdada"/><rect x="1821.89" y="883.35" width="62.27" height="31.21" fill="#ffcece"/><rect x="1883.96" y="883.35" width="62.27" height="31.21" fill="#ffb8b8"/><rect x="1946.03" y="883.35" width="62.07" height="31.21" fill="#ff5a5a"/><rect x="1387.4" y="914.36" width="62.27" height="31.21" fill="#d8d8ff"/><rect x="1449.47" y="914.36" width="62.27" height="31.21" fill="#7a7aff"/><rect x="1511.54" y="914.36" width="62.27" height="31.21" fill="#9898ff"/><rect x="1573.61" y="914.36" width="62.27" height="31.21" fill="#babaff"/><rect x="1635.68" y="914.36" width="62.27" height="31.21" fill="#d8d8ff"/><rect x="1697.75" y="914.36" width="62.27" height="31.21" fill="#fffefe"/><rect x="1759.82" y="914.36" width="62.27" height="31.21" fill="#fff8f8"/><rect x="1821.89" y="914.36" width="62.27" height="31.21" fill="#ffeeee"/><rect x="1883.96" y="914.36" width="62.27" height="31.21" fill="#ffdcdc"/><rect x="1946.03" y="914.36" width="62.07" height="31.21" fill="#ff7c7c"/><rect x="1387.4" y="945.37" width="62.27" height="31.21" fill="#b0b0ff"/><rect x="1449.47" y="945.37" width="62.27" height="31.21" fill="#4c4cff"/><rect x="1511.54" y="945.37" width="62.27" height="31.21" fill="#6060ff"/><rect x="1573.61" y="945.37" width="62.27" height="31.21" fill="#7474ff"/><rect x="1635.68" y="945.37" width="62.27" height="31.21" fill="#8a8aff"/><rect x="1697.75" y="945.37" width="62.27" height="31.21" fill="#a0a0ff"/><rect x="1759.82" y="945.37" width="62.27" height="31.21" fill="#b8b8ff"/><rect x="1821.89" y="945.37" width="62.27" height="31.21" fill="#cacaff"/><rect x="1883.96" y="945.37" width="62.27" height="31.21" fill="#f8f8ff"/><rect x="1946.03" y="945.37" width="62.07" height="31.21" fill="#ffe8e8"/><rect x="1387.4" y="976.38" width="62.27" height="31.21" fill="#c2c2ff"/><rect x="1449.47" y="976.38" width="62.27" height="31.21" fill="#3c3cff"/><rect x="1511.54" y="976.38" width="62.27" height="31.21" fill="#4646ff"/><rect x="1573.61" y="976.38" width="62.27" height="31.21" fill="#5454ff"/><rect x="1635.68" y="976.38" width="62.27" height="31.21" fill="#6060ff"/><rect x="1697.75" y="976.38" width="62.27" height="31.21" fill="#7070ff"/><rect x="1759.82" y="976.38" width="62.27" height="31.21" fill="#8080ff"/><rect x="1821.89" y="976.38" width="62.27" height="31.21" fill="#8c8cff"/><rect x="1883.96" y="976.38" width="62.27" height="31.21" fill="#a0a0ff"/><rect x="1946.03" y="976.38" width="62.07" height="31.21" fill="#a0a0ff"/><rect x="1387.4" y="1007.39" width="62.27" height="31.01" fill="#ffdcdc"/><rect x="1449.47" y="1007.39" width="62.27" height="31.01" fill="#5e5eff"/><rect x="1511.54" y="1007.39" width="62.27" height="31.01" fill="#6868ff"/><rect x="1573.61" y="1007.39" width="62.27" height="31.01" fill="#7272ff"/><rect x="1635.68" y="1007.39" width="62.27" height="31.01" fill="#7c7cff"/><rect x="1697.75" y="1007.39" width="62.27" height="31.01" fill="#8686ff"/><rect x="1759.82" y="1007.39" width="62.27" height="31.01" fill="#9090ff"/><rect x="1821.89" y="1007.39" width="62.27" height="31.01" fill="#9c9cff"/><rect x="1883.96" y="1007.39" width="62.27" height="31.01" fill="#a0a0ff"/><rect x="1946.03" y="1007.39" width="62.07" height="31.01" fill="#5e5eff"/></g>
<g class="a"><text x="1418.44" y="748.4"><tspan dy="0">+</tspan><tspan dy="0">5.17</tspan></text><text x="1480.51" y="748.4"><tspan dy="0">+</tspan><tspan dy="0">1.61</tspan></text><text x="1542.58" y="748.4"><tspan dy="0">+</tspan><tspan dy="0">1.24</tspan></text><text x="1604.64" y="748.4"><tspan dy="0">+</tspan><tspan dy="0">1.05</tspan></text><text x="1666.72" y="748.4"><tspan dy="0">+</tspan><tspan dy="0">1.10</tspan></text><text x="1728.79" y="748.4"><tspan dy="0">+</tspan><tspan dy="0">1.32</tspan></text><text x="1790.86" y="748.4"><tspan dy="0">+</tspan><tspan dy="0">1.49</tspan></text><text x="1852.93" y="748.4"><tspan dy="0">+</tspan><tspan dy="0">1.69</tspan></text><text x="1915" y="748.4"><tspan dy="0">+</tspan><tspan dy="0">2.13</tspan></text><text x="1977.07" y="748.4"><tspan dy="0">+</tspan><tspan dy="0">1.71</tspan></text><text x="1418.44" y="779.41"><tspan dy="0">+</tspan><tspan dy="0">3.46</tspan></text><text x="1480.51" y="779.41"><tspan dy="0">+</tspan><tspan dy="0">0.77</tspan></text><text x="1542.58" y="779.41"><tspan dy="0">+</tspan><tspan dy="0">0.73</tspan></text><text x="1604.64" y="779.41"><tspan dy="0">+</tspan><tspan dy="0">0.72</tspan></text><text x="1666.72" y="779.41"><tspan dy="0">+</tspan><tspan dy="0">0.90</tspan></text><text x="1728.79" y="779.41"><tspan dy="0">+</tspan><tspan dy="0">1.32</tspan></text><text x="1790.86" y="779.41"><tspan dy="0">+</tspan><tspan dy="0">1.67</tspan></text><text x="1852.93" y="779.41"><tspan dy="0">+</tspan><tspan dy="0">2.10</tspan></text><text x="1915" y="779.41"><tspan dy="0">+</tspan><tspan dy="0">2.62</tspan></text><text x="1977.07" y="779.41"><tspan dy="0">+</tspan><tspan dy="0">3.95</tspan></text><text x="1418.44" y="810.42"><tspan dy="0">+</tspan><tspan dy="0">2.00</tspan></text><text x="1480.51" y="810.42"><tspan dy="0">+</tspan><tspan dy="0">0.36</tspan></text><text x="1542.58" y="810.42"><tspan dy="0">+</tspan><tspan dy="0">0.51</tspan></text><text x="1604.64" y="810.42"><tspan dy="0">+</tspan><tspan dy="0">0.59</tspan></text><text x="1666.72" y="810.42"><tspan dy="0">+</tspan><tspan dy="0">0.78</tspan></text><text x="1728.79" y="810.42"><tspan dy="0">+</tspan><tspan dy="0">1.14</tspan></text><text x="1790.86" y="810.42"><tspan dy="0">+</tspan><tspan dy="0">1.31</tspan></text><text x="1852.93" y="810.42"><tspan dy="0">+</tspan><tspan dy="0">1.71</tspan></text><text x="1915" y="810.42"><tspan dy="0">+</tspan><tspan dy="0">2.12</tspan></text><text x="1977.07" y="810.42"><tspan dy="0">+</tspan><tspan dy="0">2.62</tspan></text><text x="1418.44" y="841.43"><tspan dy="0">+</tspan><tspan dy="0">1.16</tspan></text><text x="1480.51" y="841.43"><tspan dy="0">+</tspan><tspan dy="0">0.17</tspan></text><text x="1542.58" y="841.43"><tspan dy="0">+</tspan><tspan dy="0">0.33</tspan></text><text x="1604.64" y="841.43"><tspan dy="0">+</tspan><tspan dy="0">0.49</tspan></text><text x="1666.72" y="841.43"><tspan dy="0">+</tspan><tspan dy="0">0.67</tspan></text><text x="1728.79" y="841.43"><tspan dy="0">+</tspan><tspan dy="0">0.95</tspan></text><text x="1790.86" y="841.43"><tspan dy="0">+</tspan><tspan dy="0">1.12</tspan></text><text x="1852.93" y="841.43"><tspan dy="0">+</tspan><tspan dy="0">1.39</tspan></text><text x="1915" y="841.43"><tspan dy="0">+</tspan><tspan dy="0">1.64</tspan></text><text x="1977.07" y="841.43"><tspan dy="0">+</tspan><tspan dy="0">2.91</tspan></text><text x="1418.44" y="872.45"><tspan dy="0">+</tspan><tspan dy="0">0.58</tspan></text><text x="1480.51" y="872.45"><tspan dy="-0.5">−</tspan><tspan dy="0.5">0.03</tspan></text><text x="1542.58" y="872.45"><tspan dy="0">+</tspan><tspan dy="0">0.13</tspan></text><text x="1604.64" y="872.45"><tspan dy="0">+</tspan><tspan dy="0">0.34</tspan></text><text x="1666.72" y="872.45"><tspan dy="0">+</tspan><tspan dy="0">0.54</tspan></text><text x="1728.79" y="872.45"><tspan dy="0">+</tspan><tspan dy="0">0.79</tspan></text><text x="1790.86" y="872.45"><tspan dy="0">+</tspan><tspan dy="0">0.92</tspan></text><text x="1852.93" y="872.45"><tspan dy="0">+</tspan><tspan dy="0">1.11</tspan></text><text x="1915" y="872.45"><tspan dy="0">+</tspan><tspan dy="0">1.45</tspan></text><text x="1977.07" y="872.45"><tspan dy="0">+</tspan><tspan dy="0">3.36</tspan></text><text x="1418.44" y="903.46"><tspan dy="0">+</tspan><tspan dy="0">0.12</tspan></text><text x="1480.51" y="903.46"><tspan dy="-0.5">−</tspan><tspan dy="0.5">0.30</tspan></text><text x="1542.58" y="903.46"><tspan dy="-0.5">−</tspan><tspan dy="0.5">0.12</tspan></text><text x="1604.64" y="903.46"><tspan dy="0">+</tspan><tspan dy="0">0.07</tspan></text><text x="1666.72" y="903.46"><tspan dy="0">+</tspan><tspan dy="0">0.25</tspan></text><text x="1728.79" y="903.46"><tspan dy="0">+</tspan><tspan dy="0">0.47</tspan></text><text x="1790.86" y="903.46"><tspan dy="0">+</tspan><tspan dy="0">0.59</tspan></text><text x="1852.93" y="903.46"><tspan dy="0">+</tspan><tspan dy="0">0.75</tspan></text><text x="1915" y="903.46"><tspan dy="0">+</tspan><tspan dy="0">1.12</tspan></text><text x="1977.07" y="903.46"><tspan dy="0">+</tspan><tspan dy="0">2.57</tspan></text><text x="1418.44" y="934.47"><tspan dy="-0.5">−</tspan><tspan dy="0.5">0.15</tspan></text><text x="1480.51" y="934.47" class="w"><tspan dy="-0.5">−</tspan><tspan dy="0.5">0.52</tspan></text><text x="1542.58" y="934.47" class="w"><tspan dy="-0.5">−</tspan><tspan dy="0.5">0.40</tspan></text><text x="1604.64" y="934.47"><tspan dy="-0.5">−</tspan><tspan dy="0.5">0.27</tspan></text><text x="1666.72" y="934.47"><tspan dy="-0.5">−</tspan><tspan dy="0.5">0.15</tspan></text><text x="1728.79" y="934.47"><tspan dy="0">+</tspan><tspan dy="0">0.00</tspan></text><text x="1790.86" y="934.47"><tspan dy="0">+</tspan><tspan dy="0">0.11</tspan></text><text x="1852.93" y="934.47"><tspan dy="0">+</tspan><tspan dy="0">0.25</tspan></text><text x="1915" y="934.47"><tspan dy="0">+</tspan><tspan dy="0">0.54</tspan></text><text x="1977.07" y="934.47"><tspan dy="0">+</tspan><tspan dy="0">2.06</tspan></text><text x="1418.44" y="965.48"><tspan dy="-0.5">−</tspan><tspan dy="0.5">0.31</tspan></text><text x="1480.51" y="965.48" class="w"><tspan dy="-0.5">−</tspan><tspan dy="0.5">0.70</tspan></text><text x="1542.58" y="965.48" class="w"><tspan dy="-0.5">−</tspan><tspan dy="0.5">0.62</tspan></text><text x="1604.64" y="965.48" class="w"><tspan dy="-0.5">−</tspan><tspan dy="0.5">0.54</tspan></text><text x="1666.72" y="965.48" class="w"><tspan dy="-0.5">−</tspan><tspan dy="0.5">0.46</tspan></text><text x="1728.79" y="965.48"><tspan dy="-0.5">−</tspan><tspan dy="0.5">0.37</tspan></text><text x="1790.86" y="965.48"><tspan dy="-0.5">−</tspan><tspan dy="0.5">0.28</tspan></text><text x="1852.93" y="965.48"><tspan dy="-0.5">−</tspan><tspan dy="0.5">0.21</tspan></text><text x="1915" y="965.48"><tspan dy="-0.5">−</tspan><tspan dy="0.5">0.03</tspan></text><text x="1977.07" y="965.48"><tspan dy="0">+</tspan><tspan dy="0">0.36</tspan></text><text x="1418.44" y="996.49"><tspan dy="-0.5">−</tspan><tspan dy="0.5">0.24</tspan></text><text x="1480.51" y="996.49" class="w"><tspan dy="-0.5">−</tspan><tspan dy="0.5">0.76</tspan></text><text x="1542.58" y="996.49" class="w"><tspan dy="-0.5">−</tspan><tspan dy="0.5">0.72</tspan></text><text x="1604.64" y="996.49" class="w"><tspan dy="-0.5">−</tspan><tspan dy="0.5">0.67</tspan></text><text x="1666.72" y="996.49" class="w"><tspan dy="-0.5">−</tspan><tspan dy="0.5">0.62</tspan></text><text x="1728.79" y="996.49" class="w"><tspan dy="-0.5">−</tspan><tspan dy="0.5">0.56</tspan></text><text x="1790.86" y="996.49" class="w"><tspan dy="-0.5">−</tspan><tspan dy="0.5">0.50</tspan></text><text x="1852.93" y="996.49" class="w"><tspan dy="-0.5">−</tspan><tspan dy="0.5">0.45</tspan></text><text x="1915" y="996.49"><tspan dy="-0.5">−</tspan><tspan dy="0.5">0.37</tspan></text><text x="1977.07" y="996.49"><tspan dy="-0.5">−</tspan><tspan dy="0.5">0.37</tspan></text><text x="1418.44" y="1027.49"><tspan dy="0">+</tspan><tspan dy="0">0.56</tspan></text><text x="1480.51" y="1027.49" class="w"><tspan dy="-0.5">−</tspan><tspan dy="0.5">0.63</tspan></text><text x="1542.58" y="1027.49" class="w"><tspan dy="-0.5">−</tspan><tspan dy="0.5">0.59</tspan></text><text x="1604.64" y="1027.49" class="w"><tspan dy="-0.5">−</tspan><tspan dy="0.5">0.55</tspan></text><text x="1666.72" y="1027.49" class="w"><tspan dy="-0.5">−</tspan><tspan dy="0.5">0.51</tspan></text><text x="1728.79" y="1027.49" class="w"><tspan dy="-0.5">−</tspan><tspan dy="0.5">0.47</tspan></text><text x="1790.86" y="1027.49" class="w"><tspan dy="-0.5">−</tspan><tspan dy="0.5">0.43</tspan></text><text x="1852.93" y="1027.49"><tspan dy="-0.5">−</tspan><tspan dy="0.5">0.39</tspan></text><text x="1915" y="1027.49"><tspan dy="-0.5">−</tspan><tspan dy="0.5">0.37</tspan></text><text x="1977.07" y="1027.49" class="w"><tspan dy="-0.5">−</tspan><tspan dy="0.5">0.63</tspan></text></g>
<text class="t" x="1697.75" y="722.5">FexpAP</text>
<path d="M1383.9 743.8h3.5M1383.9 774.81h3.5M1383.9 805.82h3.5M1383.9 836.83h3.5M1383.9 867.85h3.5M1383.9 898.86h3.5M1383.9 929.87h3.5M1383.9 960.88h3.5M1383.9 991.88h3.5M1383.9 1022.89h3.5M1418.44 1038.4v4M1480.51 1038.4v4M1542.58 1038.4v4M1604.64 1038.4v4M1666.72 1038.4v4M1728.79 1038.4v4M1790.86 1038.4v4M1852.93 1038.4v4M1915 1038.4v4M1977.07 1038.4v4" stroke="#000" stroke-width="1" fill="none"/>
<text class="k" text-anchor="middle" x="1418.44" y="1054.4">0</text>
<text class="k" text-anchor="middle" x="1480.51" y="1054.4">1</text>
<text class="k" text-anchor="middle" x="1542.58" y="1054.4">2</text>
<text class="k" text-anchor="middle" x="1604.64" y="1054.4">3</text>
<text class="k" text-anchor="middle" x="1666.72" y="1054.4">4</text>
<text class="k" text-anchor="middle" x="1728.79" y="1054.4">5</text>
<text class="k" text-anchor="middle" x="1790.86" y="1054.4">6</text>
<text class="k" text-anchor="middle" x="1852.93" y="1054.4">7</text>
<text class="k" text-anchor="middle" x="1915" y="1054.4">8</text>
<text class="k" text-anchor="middle" x="1977.07" y="1054.4">9</text>
<text style="font-size:33.33px" text-anchor="middle" x="1009" y="1092.3">Degree Quantiles</text>
<text style="font-size:33.33px" text-anchor="middle" transform="translate(25 550) rotate(-90)">Time-cohorts</text>
</svg></body></html>
